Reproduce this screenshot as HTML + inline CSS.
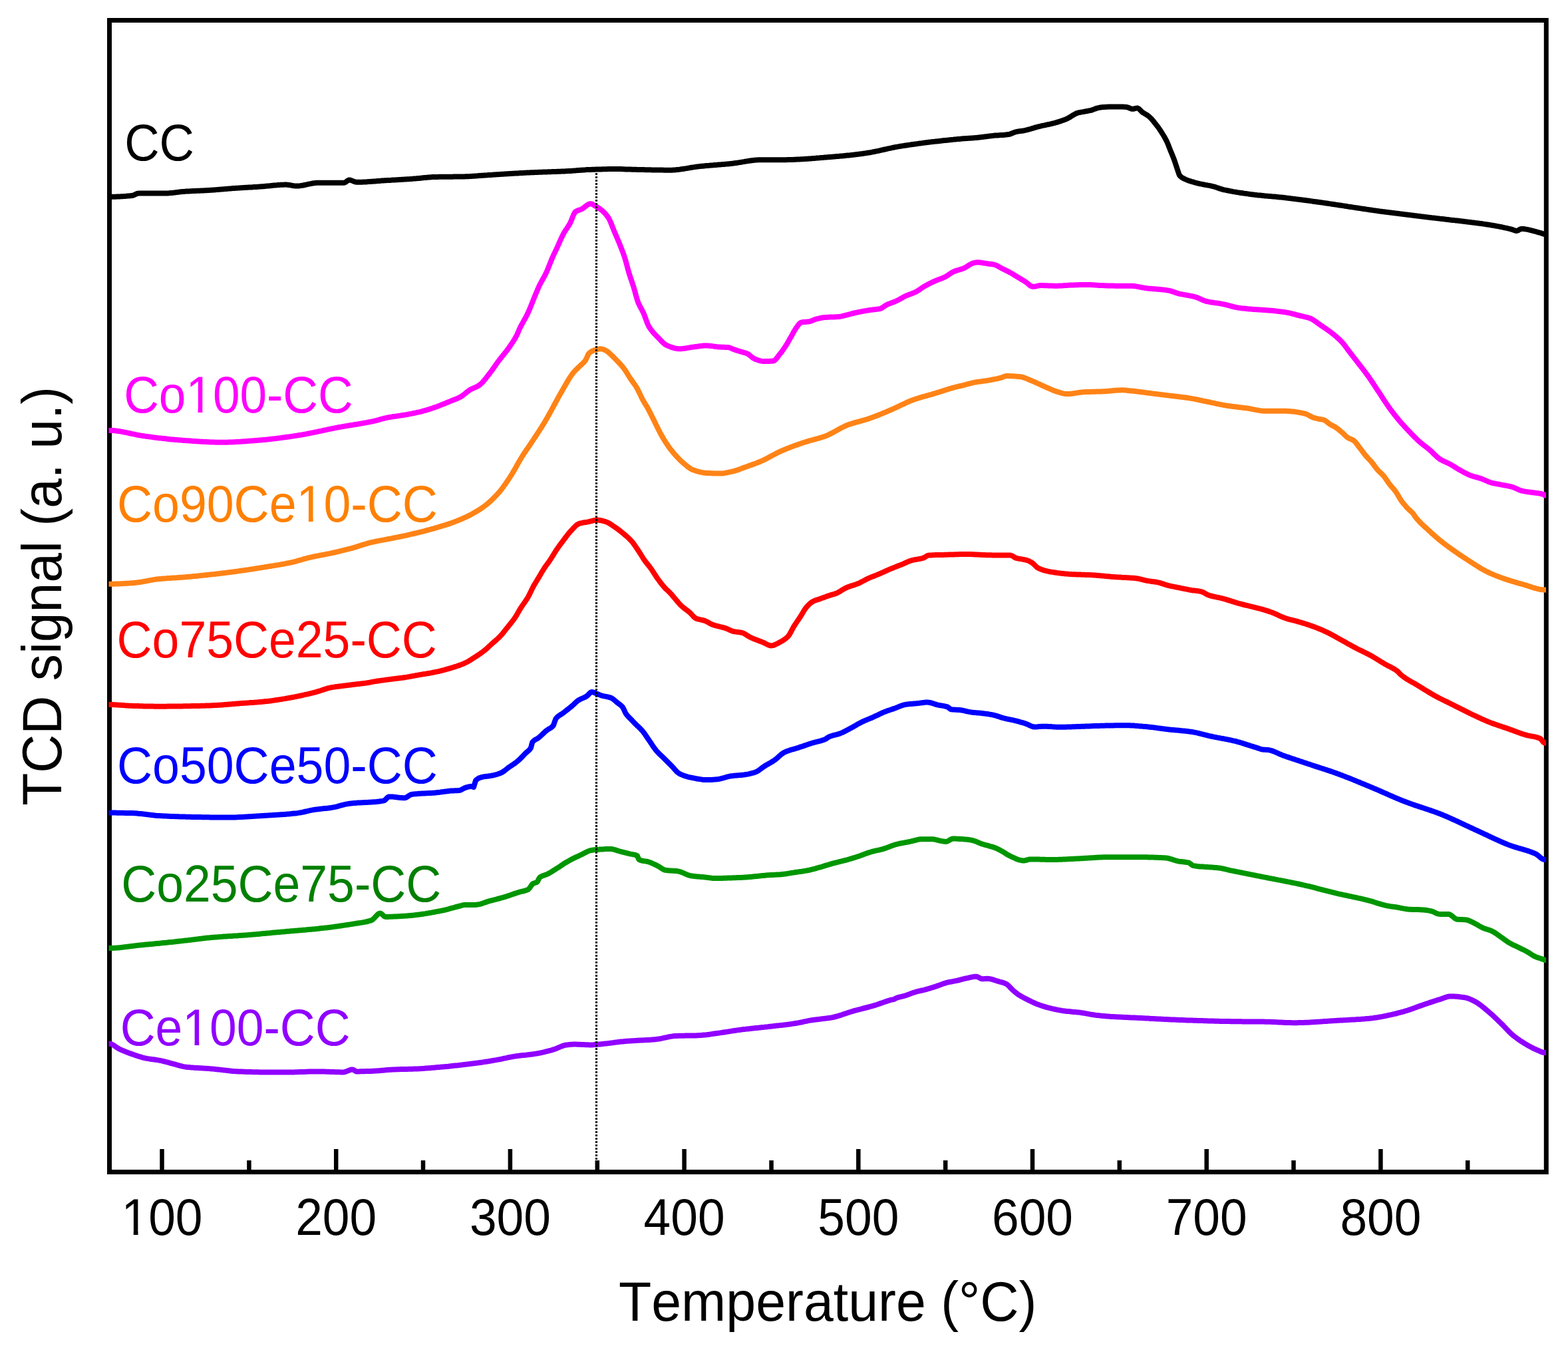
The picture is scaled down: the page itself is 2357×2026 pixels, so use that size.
<!DOCTYPE html>
<html><head><meta charset="utf-8"><title>TCD signal vs Temperature</title>
<style>html,body{margin:0;padding:0;background:#fff;}svg{display:block;}</style>
</head><body>
<svg width="2357" height="2026" viewBox="0 0 2357 2026">
<rect x="0" y="0" width="2357" height="2026" fill="#ffffff"/>
<rect x="164.5" y="30.5" width="2159.8" height="1731" fill="none" stroke="#000" stroke-width="7"/>
<line x1="243.5" y1="1727" x2="243.5" y2="1760" stroke="#000" stroke-width="6.5"/>
<line x1="374.4" y1="1744" x2="374.4" y2="1760" stroke="#000" stroke-width="6.5"/>
<line x1="505.2" y1="1727" x2="505.2" y2="1760" stroke="#000" stroke-width="6.5"/>
<line x1="636.0" y1="1744" x2="636.0" y2="1760" stroke="#000" stroke-width="6.5"/>
<line x1="766.9" y1="1727" x2="766.9" y2="1760" stroke="#000" stroke-width="6.5"/>
<line x1="897.8" y1="1744" x2="897.8" y2="1760" stroke="#000" stroke-width="6.5"/>
<line x1="1028.6" y1="1727" x2="1028.6" y2="1760" stroke="#000" stroke-width="6.5"/>
<line x1="1159.5" y1="1744" x2="1159.5" y2="1760" stroke="#000" stroke-width="6.5"/>
<line x1="1290.3" y1="1727" x2="1290.3" y2="1760" stroke="#000" stroke-width="6.5"/>
<line x1="1421.2" y1="1744" x2="1421.2" y2="1760" stroke="#000" stroke-width="6.5"/>
<line x1="1552.0" y1="1727" x2="1552.0" y2="1760" stroke="#000" stroke-width="6.5"/>
<line x1="1682.8" y1="1744" x2="1682.8" y2="1760" stroke="#000" stroke-width="6.5"/>
<line x1="1813.7" y1="1727" x2="1813.7" y2="1760" stroke="#000" stroke-width="6.5"/>
<line x1="1944.5" y1="1744" x2="1944.5" y2="1760" stroke="#000" stroke-width="6.5"/>
<line x1="2075.4" y1="1727" x2="2075.4" y2="1760" stroke="#000" stroke-width="6.5"/>
<line x1="2206.2" y1="1744" x2="2206.2" y2="1760" stroke="#000" stroke-width="6.5"/>
<clipPath id="plotclip"><rect x="163.5" y="0" width="2160.5" height="2026"/></clipPath>
<g clip-path="url(#plotclip)">
<path d="M158.0,295.8 L160.0,295.8 L162.0,295.8 L164.0,295.8 L166.0,295.8 L168.0,295.8 L170.0,295.7 L172.0,295.7 L174.0,295.7 L176.0,295.6 L178.0,295.5 L180.0,295.4 L182.0,295.3 L184.0,295.2 L186.0,295.1 L188.0,294.9 L190.0,294.8 L192.0,294.6 L194.0,294.5 L196.0,294.3 L198.0,294.1 L198.6,294.0 L200.0,293.7 L202.0,292.9 L204.0,291.9 L206.0,291.0 L208.0,290.6 L208.3,290.6 L210.0,290.6 L212.0,290.6 L214.0,290.6 L216.0,290.6 L218.0,290.6 L220.0,290.6 L222.0,290.6 L224.0,290.6 L226.0,290.6 L228.0,290.6 L230.0,290.6 L232.0,290.6 L234.0,290.6 L236.0,290.6 L238.0,290.6 L240.0,290.6 L242.0,290.6 L244.0,290.6 L246.0,290.6 L246.9,290.6 L248.0,290.6 L250.0,290.5 L252.0,290.4 L254.0,290.3 L256.0,290.1 L258.0,289.9 L260.0,289.7 L262.0,289.4 L264.0,289.2 L266.0,288.9 L268.0,288.7 L270.0,288.4 L272.0,288.2 L274.0,288.0 L275.8,287.9 L276.0,287.9 L278.0,287.8 L280.0,287.6 L282.0,287.5 L284.0,287.4 L286.0,287.3 L288.0,287.2 L290.0,287.1 L292.0,287.0 L294.0,286.9 L296.0,286.8 L298.0,286.7 L300.0,286.7 L302.0,286.6 L304.0,286.5 L306.0,286.4 L308.0,286.3 L310.0,286.2 L312.0,286.0 L314.0,285.9 L314.4,285.9 L316.0,285.8 L318.0,285.7 L320.0,285.5 L322.0,285.4 L324.0,285.2 L326.0,285.1 L328.0,284.9 L330.0,284.7 L332.0,284.6 L334.0,284.4 L336.0,284.2 L338.0,284.1 L340.0,283.9 L342.0,283.7 L344.0,283.6 L346.0,283.4 L348.0,283.3 L350.0,283.1 L352.0,283.0 L353.0,282.9 L354.0,282.8 L356.0,282.7 L358.0,282.6 L360.0,282.4 L362.0,282.3 L364.0,282.2 L366.0,282.1 L368.0,282.0 L370.0,281.8 L372.0,281.7 L374.0,281.6 L376.0,281.5 L378.0,281.4 L380.0,281.2 L382.0,281.1 L384.0,281.0 L386.0,280.9 L388.0,280.7 L390.0,280.6 L391.7,280.5 L392.0,280.5 L394.0,280.3 L396.0,280.2 L398.0,280.0 L400.0,279.8 L402.0,279.6 L404.0,279.4 L406.0,279.2 L408.0,279.0 L410.0,278.8 L412.0,278.6 L414.0,278.4 L416.0,278.3 L418.0,278.1 L420.0,278.0 L422.0,277.8 L424.0,277.7 L426.0,277.7 L428.0,277.6 L430.0,277.6 L430.3,277.6 L432.0,277.7 L434.0,277.9 L436.0,278.2 L438.0,278.6 L440.0,279.0 L442.0,279.3 L444.0,279.5 L445.7,279.6 L446.0,279.6 L448.0,279.5 L450.0,279.4 L452.0,279.1 L454.0,278.8 L456.0,278.5 L458.0,278.0 L460.0,277.6 L462.0,277.2 L464.0,276.7 L466.0,276.3 L468.0,275.9 L470.0,275.5 L472.0,275.2 L474.0,275.0 L476.0,274.8 L478.0,274.7 L478.5,274.7 L480.0,274.7 L482.0,274.7 L484.0,274.7 L486.0,274.7 L488.0,274.7 L490.0,274.7 L492.0,274.7 L494.0,274.7 L496.0,274.7 L498.0,274.7 L500.0,274.7 L502.0,274.7 L504.0,274.7 L506.0,274.7 L508.0,274.7 L510.0,274.7 L512.0,274.7 L514.0,274.7 L516.0,274.7 L517.1,274.7 L518.0,274.5 L520.0,273.4 L522.0,271.8 L524.0,270.7 L524.9,270.5 L526.0,270.6 L528.0,271.1 L530.0,271.9 L532.0,272.7 L534.0,273.4 L536.0,273.8 L536.4,273.8 L538.0,273.8 L540.0,273.8 L542.0,273.7 L544.0,273.7 L546.0,273.6 L548.0,273.5 L550.0,273.4 L552.0,273.2 L554.0,273.1 L556.0,273.0 L558.0,272.8 L560.0,272.7 L562.0,272.5 L564.0,272.4 L566.0,272.2 L568.0,272.0 L570.0,271.9 L572.0,271.7 L574.0,271.6 L576.0,271.5 L578.0,271.3 L578.6,271.3 L580.0,271.2 L582.0,271.1 L584.0,271.0 L586.0,270.9 L588.0,270.8 L590.0,270.6 L592.0,270.5 L594.0,270.4 L596.0,270.3 L598.0,270.2 L600.0,270.1 L602.0,270.0 L604.0,269.8 L606.0,269.7 L608.0,269.6 L610.0,269.5 L612.0,269.3 L614.0,269.2 L616.0,269.1 L617.2,269.0 L618.0,268.9 L620.0,268.8 L622.0,268.6 L624.0,268.4 L626.0,268.3 L628.0,268.1 L630.0,267.9 L632.0,267.7 L634.0,267.5 L636.0,267.3 L638.0,267.1 L640.0,266.9 L642.0,266.7 L644.0,266.5 L646.0,266.4 L648.0,266.2 L650.0,266.1 L652.0,266.0 L654.0,265.9 L655.8,265.9 L656.0,265.9 L658.0,265.9 L660.0,265.8 L662.0,265.8 L664.0,265.8 L666.0,265.8 L668.0,265.7 L670.0,265.7 L672.0,265.7 L674.0,265.7 L676.0,265.7 L678.0,265.7 L680.0,265.7 L682.0,265.6 L684.0,265.6 L686.0,265.6 L688.0,265.6 L690.0,265.6 L692.0,265.5 L694.0,265.5 L694.4,265.5 L696.0,265.5 L698.0,265.4 L700.0,265.3 L702.0,265.3 L704.0,265.2 L706.0,265.1 L708.0,264.9 L710.0,264.8 L712.0,264.7 L714.0,264.5 L716.0,264.4 L718.0,264.3 L720.0,264.1 L722.0,264.0 L724.0,263.8 L726.0,263.7 L728.0,263.5 L730.0,263.4 L732.0,263.3 L733.0,263.2 L734.0,263.1 L736.0,263.0 L738.0,262.9 L740.0,262.8 L742.0,262.6 L744.0,262.5 L746.0,262.3 L748.0,262.2 L750.0,262.1 L752.0,261.9 L754.0,261.8 L756.0,261.7 L758.0,261.5 L760.0,261.4 L762.0,261.3 L764.0,261.2 L766.0,261.0 L768.0,260.9 L770.0,260.8 L771.7,260.7 L772.0,260.7 L774.0,260.6 L776.0,260.5 L778.0,260.4 L780.0,260.2 L782.0,260.1 L784.0,260.0 L786.0,259.9 L788.0,259.8 L790.0,259.7 L792.0,259.6 L794.0,259.5 L796.0,259.4 L798.0,259.3 L800.0,259.3 L802.0,259.2 L804.0,259.1 L806.0,259.0 L808.0,258.9 L810.0,258.8 L810.3,258.8 L812.0,258.7 L814.0,258.7 L816.0,258.6 L818.0,258.5 L820.0,258.4 L822.0,258.4 L824.0,258.3 L826.0,258.2 L828.0,258.2 L830.0,258.1 L832.0,258.0 L834.0,258.0 L836.0,257.9 L838.0,257.8 L840.0,257.8 L842.0,257.7 L844.0,257.6 L846.0,257.5 L848.0,257.4 L848.9,257.4 L850.0,257.3 L852.0,257.2 L854.0,257.1 L856.0,257.0 L858.0,256.9 L860.0,256.7 L862.0,256.6 L864.0,256.4 L866.0,256.3 L868.0,256.1 L870.0,256.0 L872.0,255.8 L874.0,255.7 L876.0,255.5 L878.0,255.4 L880.0,255.3 L882.0,255.1 L884.0,255.0 L886.0,255.0 L887.5,254.9 L888.0,254.9 L890.0,254.8 L892.0,254.7 L894.0,254.7 L896.0,254.6 L898.0,254.5 L900.0,254.5 L902.0,254.4 L904.0,254.4 L906.0,254.3 L908.0,254.3 L910.0,254.2 L912.0,254.2 L914.0,254.1 L916.0,254.1 L918.0,254.1 L920.0,254.0 L922.0,254.0 L924.0,254.0 L926.0,254.0 L926.1,254.0 L928.0,254.0 L930.0,254.0 L932.0,254.1 L934.0,254.1 L936.0,254.2 L938.0,254.3 L940.0,254.4 L942.0,254.4 L944.0,254.5 L946.0,254.6 L948.0,254.6 L950.0,254.7 L950.2,254.7 L952.0,254.7 L954.0,254.8 L956.0,254.8 L958.0,254.9 L960.0,254.9 L962.0,255.0 L964.0,255.0 L966.0,255.1 L968.0,255.1 L970.0,255.2 L972.0,255.2 L974.0,255.3 L976.0,255.3 L978.0,255.3 L980.0,255.4 L982.0,255.4 L984.0,255.5 L986.0,255.5 L988.0,255.5 L990.0,255.6 L992.0,255.6 L994.0,255.6 L996.0,255.6 L998.0,255.7 L1000.0,255.7 L1002.0,255.7 L1004.0,255.7 L1006.0,255.7 L1007.9,255.7 L1008.0,255.7 L1010.0,255.7 L1012.0,255.6 L1014.0,255.5 L1016.0,255.3 L1018.0,255.1 L1020.0,254.9 L1022.0,254.6 L1024.0,254.3 L1026.0,254.0 L1028.0,253.7 L1030.0,253.4 L1032.0,253.1 L1034.0,252.7 L1036.0,252.4 L1038.0,252.0 L1040.0,251.7 L1042.0,251.4 L1044.0,251.1 L1046.0,250.8 L1048.0,250.5 L1050.0,250.3 L1050.6,250.2 L1052.0,250.1 L1054.0,249.8 L1056.0,249.7 L1058.0,249.5 L1060.0,249.3 L1062.0,249.1 L1064.0,248.9 L1066.0,248.8 L1068.0,248.6 L1070.0,248.4 L1072.0,248.3 L1074.0,248.1 L1076.0,247.9 L1078.0,247.8 L1080.0,247.6 L1082.0,247.4 L1084.0,247.3 L1086.0,247.1 L1088.0,246.9 L1090.0,246.7 L1092.0,246.6 L1094.0,246.4 L1096.0,246.2 L1098.0,246.0 L1100.0,245.8 L1100.8,245.7 L1102.0,245.6 L1104.0,245.3 L1106.0,245.0 L1108.0,244.8 L1110.0,244.4 L1112.0,244.1 L1114.0,243.8 L1116.0,243.4 L1118.0,243.1 L1120.0,242.7 L1122.0,242.4 L1124.0,242.1 L1126.0,241.8 L1128.0,241.5 L1130.0,241.2 L1132.0,240.9 L1134.0,240.7 L1136.0,240.5 L1138.0,240.4 L1140.0,240.3 L1142.0,240.2 L1143.4,240.2 L1144.0,240.2 L1146.0,240.2 L1148.0,240.2 L1150.0,240.2 L1152.0,240.2 L1154.0,240.2 L1156.0,240.2 L1158.0,240.2 L1160.0,240.2 L1162.0,240.2 L1164.0,240.2 L1166.0,240.2 L1168.0,240.2 L1170.0,240.2 L1172.0,240.2 L1174.0,240.2 L1176.0,240.2 L1178.0,240.2 L1180.0,240.2 L1182.0,240.2 L1184.0,240.1 L1186.0,240.1 L1188.0,240.0 L1190.0,240.0 L1192.0,239.9 L1194.0,239.8 L1196.0,239.7 L1198.0,239.6 L1200.0,239.5 L1202.0,239.4 L1204.0,239.3 L1206.0,239.2 L1208.0,239.1 L1210.0,238.9 L1212.0,238.8 L1214.0,238.7 L1216.0,238.5 L1218.0,238.4 L1220.0,238.2 L1222.0,238.1 L1224.0,237.9 L1226.0,237.8 L1228.0,237.6 L1230.0,237.4 L1232.0,237.3 L1234.0,237.1 L1236.0,236.9 L1238.0,236.8 L1240.0,236.6 L1242.0,236.5 L1244.0,236.3 L1246.0,236.1 L1248.0,236.0 L1250.0,235.8 L1251.3,235.7 L1252.0,235.6 L1254.0,235.5 L1256.0,235.3 L1258.0,235.1 L1260.0,235.0 L1262.0,234.8 L1264.0,234.6 L1266.0,234.4 L1268.0,234.2 L1270.0,234.0 L1272.0,233.8 L1274.0,233.6 L1276.0,233.4 L1278.0,233.2 L1280.0,232.9 L1282.0,232.7 L1284.0,232.5 L1286.0,232.2 L1288.0,232.0 L1290.0,231.7 L1292.0,231.5 L1294.0,231.2 L1296.0,231.0 L1298.0,230.7 L1300.0,230.4 L1301.5,230.2 L1302.0,230.1 L1304.0,229.8 L1306.0,229.5 L1308.0,229.2 L1310.0,228.8 L1312.0,228.4 L1314.0,228.0 L1316.0,227.6 L1318.0,227.2 L1320.0,226.8 L1322.0,226.3 L1324.0,225.9 L1326.0,225.4 L1328.0,225.0 L1330.0,224.5 L1332.0,224.1 L1334.0,223.6 L1336.0,223.2 L1338.0,222.8 L1340.0,222.3 L1342.0,221.9 L1344.0,221.5 L1346.0,221.1 L1348.0,220.7 L1350.0,220.4 L1351.7,220.1 L1352.0,220.1 L1354.0,219.7 L1356.0,219.4 L1358.0,219.1 L1360.0,218.8 L1362.0,218.5 L1364.0,218.2 L1366.0,217.9 L1368.0,217.6 L1370.0,217.3 L1372.0,217.0 L1374.0,216.7 L1376.0,216.4 L1378.0,216.2 L1380.0,215.9 L1382.0,215.6 L1384.0,215.4 L1386.0,215.1 L1388.0,214.8 L1390.0,214.6 L1392.0,214.3 L1394.0,214.1 L1396.0,213.8 L1398.0,213.6 L1400.0,213.3 L1401.9,213.1 L1402.0,213.1 L1404.0,212.9 L1406.0,212.6 L1408.0,212.4 L1410.0,212.2 L1412.0,212.0 L1414.0,211.7 L1416.0,211.5 L1418.0,211.3 L1420.0,211.1 L1422.0,210.9 L1423.0,210.8 L1424.0,210.7 L1426.0,210.5 L1428.0,210.3 L1430.0,210.1 L1432.0,209.9 L1434.0,209.6 L1436.0,209.4 L1438.0,209.2 L1440.0,209.0 L1442.0,208.9 L1444.0,208.7 L1446.0,208.5 L1448.0,208.3 L1450.0,208.2 L1452.0,208.0 L1454.0,207.9 L1456.0,207.8 L1458.0,207.7 L1460.0,207.5 L1462.0,207.4 L1464.0,207.2 L1466.0,207.1 L1468.0,206.9 L1469.5,206.8 L1470.0,206.8 L1472.0,206.5 L1474.0,206.3 L1476.0,206.1 L1478.0,205.8 L1480.0,205.5 L1482.0,205.2 L1484.0,205.0 L1486.0,204.7 L1488.0,204.4 L1490.0,204.2 L1492.0,204.0 L1492.7,203.9 L1494.0,203.8 L1496.0,203.6 L1498.0,203.5 L1500.0,203.4 L1502.0,203.2 L1504.0,203.1 L1506.0,203.0 L1508.0,202.9 L1510.0,202.7 L1512.0,202.5 L1514.0,202.3 L1515.8,202.1 L1516.0,202.1 L1518.0,201.6 L1520.0,200.9 L1522.0,200.0 L1524.0,199.2 L1526.0,198.5 L1527.4,198.1 L1528.0,198.0 L1530.0,197.6 L1532.0,197.3 L1534.0,197.1 L1536.0,196.8 L1538.0,196.5 L1539.0,196.3 L1540.0,196.1 L1542.0,195.7 L1544.0,195.2 L1546.0,194.6 L1548.0,194.1 L1550.0,193.5 L1552.0,192.9 L1554.0,192.3 L1556.0,191.7 L1558.0,191.1 L1560.0,190.6 L1562.0,190.0 L1562.2,190.0 L1564.0,189.6 L1566.0,189.1 L1568.0,188.7 L1570.0,188.3 L1572.0,187.8 L1574.0,187.4 L1576.0,187.0 L1578.0,186.6 L1580.0,186.1 L1582.0,185.6 L1584.0,185.1 L1585.3,184.8 L1586.0,184.6 L1588.0,184.0 L1590.0,183.5 L1592.0,182.8 L1594.0,182.2 L1596.0,181.5 L1598.0,180.8 L1600.0,180.1 L1602.0,179.3 L1602.7,179.0 L1604.0,178.4 L1606.0,177.4 L1608.0,176.2 L1610.0,175.0 L1612.0,173.7 L1614.0,172.5 L1616.0,171.4 L1618.0,170.4 L1620.0,169.7 L1620.1,169.7 L1622.0,169.2 L1624.0,168.8 L1626.0,168.4 L1628.0,168.1 L1630.0,167.7 L1631.7,167.4 L1632.0,167.3 L1634.0,167.0 L1636.0,166.6 L1638.0,166.2 L1640.0,165.8 L1642.0,165.2 L1644.0,164.4 L1646.0,163.6 L1648.0,162.9 L1649.7,162.4 L1650.0,162.3 L1652.0,161.9 L1654.0,161.5 L1656.0,161.2 L1658.0,161.0 L1659.3,160.9 L1660.0,160.9 L1662.0,160.8 L1664.0,160.7 L1666.0,160.6 L1668.0,160.6 L1670.0,160.5 L1672.0,160.5 L1674.0,160.4 L1676.0,160.4 L1678.0,160.4 L1678.6,160.4 L1680.0,160.4 L1682.0,160.4 L1684.0,160.5 L1686.0,160.5 L1688.0,160.6 L1690.0,160.7 L1692.0,160.8 L1693.1,160.9 L1694.0,161.0 L1696.0,161.6 L1698.0,162.5 L1700.0,163.3 L1702.0,163.8 L1702.7,163.8 L1704.0,163.7 L1706.0,163.1 L1708.0,162.6 L1709.5,162.4 L1710.0,162.5 L1712.0,163.5 L1714.0,165.5 L1716.0,167.6 L1717.2,168.6 L1718.0,169.2 L1720.0,170.4 L1722.0,171.6 L1724.0,172.8 L1726.0,174.2 L1726.9,174.9 L1728.0,175.9 L1730.0,177.8 L1732.0,180.0 L1734.0,182.4 L1736.0,184.9 L1736.5,185.5 L1738.0,187.4 L1740.0,190.0 L1742.0,192.8 L1744.0,195.7 L1746.0,198.8 L1746.2,199.1 L1748.0,202.0 L1750.0,205.3 L1752.0,208.9 L1753.9,212.6 L1754.0,212.8 L1756.0,217.5 L1758.0,222.6 L1759.7,227.0 L1760.0,227.7 L1762.0,232.6 L1764.0,237.5 L1765.5,241.5 L1766.0,242.9 L1768.0,249.0 L1770.0,255.1 L1770.3,256.0 L1772.0,261.1 L1773.2,263.7 L1774.0,264.6 L1776.0,266.3 L1778.0,267.6 L1780.0,268.6 L1782.0,269.6 L1784.0,270.4 L1786.0,271.2 L1788.0,271.9 L1789.6,272.4 L1790.0,272.5 L1792.0,273.2 L1794.0,273.7 L1796.0,274.3 L1798.0,274.8 L1800.0,275.3 L1802.0,275.8 L1804.0,276.3 L1804.1,276.3 L1806.0,276.7 L1808.0,277.1 L1810.0,277.5 L1812.0,277.9 L1814.0,278.2 L1816.0,278.6 L1818.0,278.9 L1820.0,279.3 L1822.0,279.8 L1823.4,280.1 L1824.0,280.3 L1826.0,280.8 L1828.0,281.5 L1830.0,282.2 L1832.0,282.9 L1834.0,283.6 L1836.0,284.2 L1838.0,284.8 L1838.8,285.0 L1840.0,285.3 L1842.0,285.7 L1844.0,286.1 L1846.0,286.5 L1848.0,286.9 L1850.0,287.3 L1852.0,287.7 L1854.0,288.1 L1856.0,288.4 L1858.0,288.7 L1860.0,289.1 L1862.0,289.4 L1864.0,289.7 L1866.0,290.0 L1868.0,290.3 L1870.0,290.6 L1872.0,290.9 L1874.0,291.1 L1876.0,291.4 L1878.0,291.7 L1880.0,291.9 L1882.0,292.2 L1884.0,292.4 L1886.0,292.7 L1887.8,292.9 L1888.0,292.9 L1890.0,293.2 L1892.0,293.4 L1894.0,293.6 L1896.0,293.8 L1898.0,294.0 L1900.0,294.2 L1902.0,294.4 L1904.0,294.6 L1906.0,294.7 L1908.0,294.9 L1910.0,295.1 L1912.0,295.3 L1914.0,295.4 L1916.0,295.6 L1918.0,295.8 L1920.0,296.0 L1922.0,296.2 L1924.0,296.4 L1926.0,296.6 L1928.0,296.8 L1930.0,297.0 L1932.0,297.2 L1934.0,297.5 L1936.0,297.7 L1938.0,297.9 L1940.0,298.2 L1942.0,298.4 L1944.0,298.7 L1946.0,298.9 L1948.0,299.2 L1950.0,299.4 L1952.0,299.7 L1954.0,299.9 L1956.0,300.2 L1958.0,300.5 L1960.0,300.7 L1962.0,301.0 L1964.0,301.3 L1966.0,301.6 L1968.0,301.8 L1970.0,302.1 L1972.0,302.4 L1974.0,302.7 L1976.0,302.9 L1978.0,303.2 L1980.0,303.5 L1982.0,303.8 L1984.0,304.1 L1985.0,304.2 L1986.0,304.3 L1988.0,304.6 L1990.0,304.9 L1992.0,305.2 L1994.0,305.5 L1996.0,305.8 L1998.0,306.1 L2000.0,306.4 L2002.0,306.7 L2004.0,307.0 L2006.0,307.3 L2008.0,307.6 L2010.0,307.9 L2012.0,308.2 L2014.0,308.5 L2016.0,308.8 L2018.0,309.1 L2020.0,309.4 L2022.0,309.7 L2024.0,310.0 L2026.0,310.4 L2028.0,310.7 L2030.0,311.0 L2032.0,311.3 L2034.0,311.6 L2036.0,311.9 L2038.0,312.2 L2040.0,312.5 L2042.0,312.8 L2044.0,313.1 L2046.0,313.4 L2048.0,313.7 L2050.0,314.0 L2052.0,314.3 L2054.0,314.6 L2056.0,314.9 L2058.0,315.2 L2060.0,315.5 L2062.0,315.8 L2064.0,316.1 L2066.0,316.4 L2068.0,316.6 L2069.9,316.9 L2070.0,316.9 L2072.0,317.2 L2074.0,317.5 L2076.0,317.7 L2078.0,318.0 L2080.0,318.2 L2082.0,318.5 L2084.0,318.8 L2086.0,319.0 L2088.0,319.3 L2090.0,319.5 L2092.0,319.8 L2094.0,320.0 L2096.0,320.3 L2098.0,320.6 L2100.0,320.8 L2102.0,321.0 L2104.0,321.3 L2106.0,321.5 L2108.0,321.8 L2110.0,322.0 L2112.0,322.3 L2114.0,322.5 L2116.0,322.8 L2118.0,323.0 L2120.0,323.3 L2122.0,323.5 L2124.0,323.7 L2126.0,324.0 L2128.0,324.2 L2130.0,324.5 L2132.0,324.7 L2134.0,324.9 L2136.0,325.2 L2138.0,325.4 L2140.0,325.7 L2142.0,325.9 L2144.0,326.2 L2146.0,326.4 L2148.0,326.7 L2150.0,326.9 L2152.0,327.2 L2154.0,327.4 L2154.8,327.5 L2156.0,327.6 L2158.0,327.9 L2160.0,328.1 L2162.0,328.4 L2164.0,328.6 L2166.0,328.9 L2168.0,329.1 L2170.0,329.3 L2172.0,329.5 L2174.0,329.8 L2176.0,330.0 L2178.0,330.2 L2180.0,330.5 L2182.0,330.7 L2184.0,330.9 L2186.0,331.1 L2188.0,331.4 L2190.0,331.6 L2192.0,331.8 L2194.0,332.0 L2196.0,332.3 L2198.0,332.5 L2200.0,332.7 L2202.0,333.0 L2204.0,333.2 L2206.0,333.5 L2208.0,333.7 L2210.0,333.9 L2212.0,334.2 L2214.0,334.4 L2216.0,334.7 L2218.0,335.0 L2220.0,335.2 L2222.0,335.5 L2224.0,335.8 L2226.0,336.0 L2228.0,336.3 L2230.0,336.6 L2232.0,336.9 L2234.0,337.2 L2236.0,337.5 L2238.0,337.8 L2239.8,338.1 L2240.0,338.1 L2242.0,338.5 L2244.0,338.8 L2246.0,339.1 L2248.0,339.5 L2250.0,339.9 L2252.0,340.2 L2254.0,340.6 L2256.0,341.0 L2258.0,341.4 L2260.0,341.8 L2262.0,342.3 L2264.0,342.7 L2266.0,343.2 L2268.0,343.6 L2270.0,344.1 L2271.6,344.5 L2272.0,344.6 L2274.0,345.3 L2276.0,346.1 L2278.0,346.7 L2280.0,347.0 L2282.0,346.3 L2284.0,345.0 L2286.0,344.1 L2286.5,344.0 L2288.0,344.0 L2290.0,344.1 L2292.0,344.3 L2294.0,344.6 L2296.0,344.9 L2298.0,345.3 L2300.0,345.8 L2302.0,346.3 L2304.0,346.8 L2306.0,347.4 L2308.0,347.9 L2310.0,348.5 L2312.0,349.1 L2314.0,349.7 L2316.0,350.2 L2318.0,350.8 L2318.4,350.9 L2320.0,351.5 L2322.0,352.0 L2324.0,352.0 L2326.0,352.0 L2328.0,352.0" fill="none" stroke="#000000" stroke-width="8" stroke-linejoin="round" stroke-linecap="butt"/>
<path d="M158.0,646.9 L160.0,646.9 L162.0,646.9 L164.0,646.9 L166.0,646.9 L168.0,647.0 L170.0,647.1 L172.0,647.3 L174.0,647.5 L176.0,647.7 L178.0,648.0 L180.0,648.3 L182.0,648.6 L184.0,649.0 L186.0,649.4 L188.0,649.8 L190.0,650.2 L192.0,650.6 L194.0,651.0 L196.0,651.5 L198.0,651.9 L200.0,652.3 L202.0,652.7 L204.0,653.2 L206.0,653.6 L208.0,654.0 L210.0,654.3 L212.0,654.7 L214.0,655.0 L216.0,655.3 L217.9,655.6 L218.0,655.6 L220.0,655.9 L222.0,656.1 L224.0,656.4 L226.0,656.6 L228.0,656.9 L230.0,657.2 L232.0,657.4 L234.0,657.7 L236.0,657.9 L238.0,658.2 L240.0,658.4 L242.0,658.6 L244.0,658.9 L246.0,659.1 L248.0,659.3 L250.0,659.5 L252.0,659.8 L254.0,660.0 L256.0,660.2 L258.0,660.4 L260.0,660.6 L262.0,660.8 L264.0,661.0 L266.0,661.1 L268.0,661.3 L270.0,661.5 L272.0,661.6 L274.0,661.8 L275.8,661.9 L276.0,661.9 L278.0,662.1 L280.0,662.2 L282.0,662.3 L284.0,662.5 L286.0,662.6 L288.0,662.8 L290.0,662.9 L292.0,663.0 L294.0,663.2 L296.0,663.3 L298.0,663.4 L300.0,663.6 L302.0,663.7 L304.0,663.8 L306.0,663.9 L308.0,664.0 L310.0,664.1 L312.0,664.2 L314.0,664.3 L316.0,664.4 L318.0,664.5 L320.0,664.6 L322.0,664.6 L324.0,664.7 L326.0,664.7 L328.0,664.8 L330.0,664.8 L332.0,664.8 L333.8,664.8 L334.0,664.8 L336.0,664.8 L338.0,664.8 L340.0,664.7 L342.0,664.7 L344.0,664.6 L346.0,664.6 L348.0,664.5 L350.0,664.4 L352.0,664.3 L354.0,664.2 L356.0,664.1 L358.0,664.0 L360.0,663.9 L362.0,663.7 L364.0,663.6 L366.0,663.5 L368.0,663.3 L370.0,663.2 L372.0,663.0 L374.0,662.8 L376.0,662.7 L378.0,662.5 L380.0,662.4 L382.0,662.2 L384.0,662.0 L386.0,661.9 L388.0,661.7 L390.0,661.5 L391.7,661.4 L392.0,661.4 L394.0,661.2 L396.0,661.0 L398.0,660.9 L400.0,660.7 L402.0,660.5 L404.0,660.3 L406.0,660.0 L408.0,659.8 L410.0,659.6 L412.0,659.4 L414.0,659.1 L416.0,658.9 L418.0,658.6 L420.0,658.4 L422.0,658.1 L424.0,657.8 L426.0,657.6 L428.0,657.3 L430.0,657.0 L432.0,656.7 L434.0,656.4 L436.0,656.2 L438.0,655.9 L440.0,655.6 L442.0,655.3 L444.0,655.0 L446.0,654.7 L448.0,654.3 L449.6,654.1 L450.0,654.0 L452.0,653.7 L454.0,653.4 L456.0,653.0 L458.0,652.7 L460.0,652.3 L462.0,651.9 L464.0,651.5 L466.0,651.2 L468.0,650.7 L470.0,650.3 L472.0,649.9 L474.0,649.5 L476.0,649.1 L478.0,648.6 L480.0,648.2 L482.0,647.8 L484.0,647.4 L486.0,646.9 L488.0,646.5 L490.0,646.1 L492.0,645.6 L494.0,645.2 L496.0,644.8 L498.0,644.4 L500.0,644.0 L502.0,643.6 L504.0,643.2 L506.0,642.8 L507.5,642.5 L508.0,642.4 L510.0,642.0 L512.0,641.7 L514.0,641.3 L516.0,641.0 L518.0,640.6 L520.0,640.3 L522.0,640.0 L524.0,639.6 L526.0,639.3 L528.0,639.0 L530.0,638.7 L532.0,638.3 L534.0,638.0 L536.0,637.7 L538.0,637.4 L540.0,637.0 L542.0,636.7 L544.0,636.3 L546.0,636.0 L548.0,635.6 L550.0,635.3 L552.0,634.9 L554.0,634.5 L556.0,634.1 L558.0,633.7 L560.0,633.3 L562.0,632.9 L564.0,632.4 L566.0,631.9 L568.0,631.3 L570.0,630.8 L572.0,630.2 L574.0,629.7 L576.0,629.2 L578.0,628.6 L580.0,628.2 L582.0,627.7 L583.6,627.4 L584.0,627.3 L586.0,627.0 L588.0,626.6 L590.0,626.3 L592.0,626.0 L594.0,625.7 L596.0,625.5 L598.0,625.2 L600.0,624.9 L602.0,624.6 L604.0,624.3 L606.0,624.0 L607.2,623.8 L608.0,623.7 L610.0,623.3 L612.0,623.0 L614.0,622.6 L616.0,622.2 L618.0,621.8 L620.0,621.4 L622.0,621.0 L624.0,620.6 L626.0,620.2 L628.0,619.7 L630.0,619.3 L630.7,619.1 L632.0,618.8 L634.0,618.3 L636.0,617.7 L638.0,617.2 L640.0,616.6 L642.0,616.0 L644.0,615.4 L646.0,614.8 L648.0,614.1 L650.0,613.5 L652.0,612.8 L654.0,612.1 L654.3,612.0 L656.0,611.4 L658.0,610.7 L660.0,609.9 L662.0,609.1 L664.0,608.3 L666.0,607.5 L668.0,606.7 L670.0,605.9 L672.0,605.0 L674.0,604.2 L676.0,603.4 L677.9,602.6 L678.0,602.6 L680.0,601.8 L682.0,601.0 L684.0,600.2 L686.0,599.5 L688.0,598.6 L690.0,597.7 L692.0,596.7 L694.0,595.5 L696.0,594.0 L698.0,592.4 L700.0,590.8 L702.0,589.1 L704.0,587.6 L706.0,586.2 L706.2,586.1 L708.0,585.1 L710.0,584.1 L712.0,583.2 L714.0,582.4 L716.0,581.5 L718.0,580.4 L720.0,579.2 L720.3,579.0 L722.0,577.7 L724.0,575.9 L726.0,573.8 L728.0,571.4 L730.0,569.0 L732.0,566.4 L734.0,563.8 L736.0,561.2 L736.8,560.2 L738.0,558.6 L740.0,555.9 L742.0,553.1 L744.0,550.2 L746.0,547.3 L748.0,544.5 L748.6,543.7 L750.0,541.8 L752.0,539.3 L754.0,536.8 L756.0,534.3 L758.0,531.8 L760.0,529.3 L762.0,526.7 L764.0,524.0 L765.1,522.4 L766.0,521.1 L768.0,518.2 L770.0,515.3 L772.0,512.2 L774.0,508.9 L776.0,505.3 L776.9,503.6 L778.0,501.3 L780.0,496.5 L781.3,493.5 L782.0,492.1 L784.0,488.2 L786.0,484.6 L788.0,481.0 L790.0,477.5 L792.0,473.7 L793.5,470.6 L794.0,469.5 L796.0,464.9 L798.0,459.9 L800.0,454.9 L802.0,449.9 L802.9,447.7 L804.0,445.1 L806.0,440.2 L808.0,435.5 L810.0,430.9 L811.0,428.8 L812.0,426.8 L814.0,423.1 L816.0,419.6 L818.0,416.0 L820.0,412.1 L820.4,411.3 L822.0,407.8 L824.0,402.9 L826.0,397.9 L828.0,392.9 L829.9,388.4 L830.0,388.2 L832.0,383.7 L834.0,379.4 L836.0,375.2 L838.0,370.9 L840.0,366.5 L842.0,361.9 L844.0,357.5 L846.0,353.3 L847.4,350.6 L848.0,349.5 L850.0,346.3 L852.0,343.4 L854.0,340.4 L856.0,337.2 L856.8,335.8 L858.0,333.3 L860.0,328.2 L862.0,323.1 L864.0,319.3 L864.9,318.3 L866.0,317.6 L868.0,316.6 L870.0,315.9 L872.0,315.2 L874.0,314.4 L874.3,314.3 L876.0,313.3 L878.0,311.8 L880.0,310.2 L882.0,308.7 L884.0,307.4 L886.0,306.5 L887.8,306.2 L888.0,306.2 L890.0,306.7 L892.0,307.9 L894.0,309.2 L894.6,309.5 L896.0,310.3 L898.0,311.4 L900.0,312.7 L902.0,314.1 L904.0,315.6 L906.0,317.3 L908.0,319.2 L910.0,321.3 L912.0,323.8 L914.0,326.5 L914.8,327.7 L916.0,329.8 L918.0,334.2 L920.0,339.3 L922.0,344.4 L922.9,346.6 L924.0,349.2 L926.0,353.8 L928.0,358.5 L930.0,363.3 L930.9,365.5 L932.0,368.2 L934.0,373.2 L936.0,378.4 L938.0,384.0 L939.0,387.0 L940.0,390.2 L942.0,397.5 L944.0,405.0 L945.8,411.3 L946.0,411.9 L948.0,418.1 L950.0,423.9 L952.0,429.9 L952.5,431.5 L954.0,436.7 L956.0,444.1 L958.0,451.0 L959.2,454.4 L960.0,456.3 L962.0,460.5 L964.0,464.2 L966.0,467.9 L967.3,470.6 L968.0,472.2 L970.0,477.5 L972.0,483.0 L974.0,488.0 L975.4,490.8 L976.0,491.8 L978.0,494.8 L980.0,497.4 L982.0,499.8 L984.0,502.0 L986.0,504.1 L988.0,506.1 L988.9,507.0 L990.0,508.1 L992.0,510.3 L994.0,512.4 L996.0,514.4 L998.0,516.2 L1000.0,517.7 L1002.0,518.9 L1002.4,519.1 L1004.0,519.8 L1006.0,520.6 L1008.0,521.4 L1010.0,522.1 L1012.0,522.7 L1014.0,523.3 L1016.0,523.7 L1018.0,524.1 L1020.0,524.3 L1021.5,524.3 L1022.0,524.3 L1024.0,524.2 L1026.0,524.0 L1028.0,523.8 L1030.0,523.5 L1032.0,523.2 L1034.0,522.8 L1036.0,522.5 L1038.0,522.1 L1040.0,521.8 L1041.7,521.6 L1042.0,521.6 L1044.0,521.3 L1046.0,521.0 L1048.0,520.8 L1050.0,520.5 L1052.0,520.2 L1054.0,520.0 L1056.0,519.8 L1058.0,519.6 L1060.0,519.5 L1061.9,519.5 L1062.0,519.5 L1064.0,519.6 L1066.0,519.7 L1068.0,519.9 L1070.0,520.1 L1072.0,520.4 L1074.0,520.7 L1076.0,520.9 L1078.0,521.2 L1080.0,521.4 L1082.0,521.6 L1082.2,521.6 L1084.0,521.7 L1086.0,521.8 L1088.0,521.8 L1090.0,521.9 L1092.0,522.0 L1094.0,522.1 L1095.6,522.2 L1096.0,522.3 L1098.0,523.0 L1100.0,524.0 L1102.0,524.7 L1104.0,525.5 L1106.0,526.2 L1108.0,526.8 L1110.0,527.5 L1111.6,528.0 L1112.0,528.1 L1114.0,528.7 L1116.0,529.2 L1118.0,529.8 L1120.0,530.3 L1122.0,531.0 L1123.2,531.5 L1124.0,531.9 L1126.0,533.2 L1128.0,534.8 L1130.0,536.5 L1132.0,538.0 L1134.0,539.3 L1134.8,539.6 L1136.0,540.0 L1138.0,540.8 L1140.0,541.5 L1142.0,542.1 L1144.0,542.6 L1146.0,542.9 L1148.0,543.1 L1148.7,543.1 L1150.0,543.1 L1152.0,543.1 L1154.0,543.0 L1156.0,542.9 L1158.0,542.8 L1160.0,542.7 L1162.0,542.6 L1162.6,542.5 L1164.0,542.0 L1166.0,540.3 L1168.0,537.8 L1170.0,535.1 L1171.8,532.7 L1172.0,532.5 L1174.0,530.0 L1176.0,527.3 L1178.0,524.5 L1180.0,521.6 L1181.1,519.9 L1182.0,518.5 L1184.0,515.1 L1186.0,511.6 L1188.0,508.1 L1189.2,506.0 L1190.0,504.6 L1192.0,500.9 L1194.0,497.3 L1196.0,494.0 L1197.3,492.1 L1198.0,491.2 L1200.0,488.4 L1202.0,486.0 L1204.0,484.7 L1204.3,484.6 L1206.0,484.3 L1208.0,484.1 L1210.0,483.9 L1212.0,483.8 L1214.0,483.6 L1215.8,483.4 L1216.0,483.4 L1218.0,482.9 L1220.0,482.2 L1222.0,481.4 L1224.0,480.5 L1226.0,479.8 L1227.4,479.4 L1228.0,479.2 L1230.0,478.8 L1232.0,478.3 L1234.0,477.8 L1236.0,477.5 L1238.0,477.2 L1239.0,477.1 L1240.0,477.0 L1242.0,476.9 L1244.0,476.8 L1246.0,476.7 L1248.0,476.6 L1250.0,476.5 L1252.0,476.5 L1254.0,476.4 L1256.0,476.3 L1258.0,476.2 L1260.0,476.1 L1262.0,475.9 L1262.2,475.9 L1264.0,475.6 L1266.0,475.2 L1268.0,474.6 L1270.0,474.1 L1272.0,473.6 L1274.0,473.1 L1276.0,472.6 L1278.0,472.1 L1280.0,471.5 L1282.0,471.0 L1284.0,470.5 L1286.0,470.0 L1288.0,469.6 L1289.3,469.3 L1290.0,469.2 L1292.0,468.8 L1294.0,468.4 L1296.0,468.0 L1298.0,467.6 L1300.0,467.3 L1302.0,466.9 L1304.0,466.6 L1306.0,466.3 L1308.0,466.0 L1308.6,465.9 L1310.0,465.7 L1312.0,465.5 L1314.0,465.3 L1316.0,465.1 L1318.0,464.8 L1320.0,464.6 L1322.0,464.2 L1323.1,464.0 L1324.0,463.7 L1326.0,462.7 L1328.0,461.3 L1330.0,459.9 L1332.0,458.6 L1332.7,458.2 L1334.0,457.6 L1336.0,456.7 L1338.0,456.0 L1340.0,455.2 L1342.0,454.5 L1344.0,453.7 L1346.0,452.9 L1347.2,452.4 L1348.0,452.0 L1350.0,451.0 L1352.0,449.9 L1354.0,448.8 L1356.0,447.7 L1358.0,446.6 L1360.0,445.5 L1361.7,444.7 L1362.0,444.6 L1364.0,443.7 L1366.0,442.9 L1368.0,442.2 L1370.0,441.5 L1372.0,440.7 L1374.0,439.9 L1376.0,439.0 L1376.2,438.9 L1378.0,437.9 L1380.0,436.7 L1382.0,435.4 L1384.0,434.0 L1386.0,432.7 L1388.0,431.3 L1390.0,430.1 L1390.7,429.7 L1392.0,429.0 L1394.0,427.9 L1396.0,426.9 L1398.0,425.8 L1400.0,424.9 L1402.0,423.9 L1404.0,423.0 L1405.1,422.5 L1406.0,422.1 L1408.0,421.3 L1410.0,420.5 L1412.0,419.8 L1414.0,419.0 L1416.0,418.3 L1418.0,417.4 L1419.6,416.7 L1420.0,416.5 L1422.0,415.4 L1424.0,414.2 L1426.0,412.8 L1428.0,411.5 L1430.0,410.2 L1432.0,409.0 L1434.0,408.0 L1434.1,408.0 L1436.0,407.3 L1438.0,406.6 L1440.0,406.0 L1442.0,405.4 L1444.0,404.8 L1446.0,404.2 L1448.0,403.4 L1448.6,403.2 L1450.0,402.6 L1452.0,401.5 L1454.0,400.2 L1456.0,398.9 L1458.0,397.7 L1460.0,396.6 L1462.0,395.7 L1463.1,395.4 L1464.0,395.2 L1466.0,394.7 L1468.0,394.4 L1469.3,394.3 L1470.0,394.3 L1472.0,394.4 L1474.0,394.6 L1476.0,394.9 L1478.0,395.3 L1480.0,395.6 L1482.0,395.9 L1483.2,396.1 L1484.0,396.2 L1486.0,396.5 L1488.0,396.7 L1490.0,397.0 L1492.0,397.3 L1494.0,397.6 L1494.8,397.8 L1496.0,398.1 L1498.0,399.0 L1500.0,400.0 L1502.0,401.2 L1504.0,402.3 L1506.0,403.4 L1506.3,403.6 L1508.0,404.4 L1510.0,405.4 L1512.0,406.4 L1514.0,407.4 L1516.0,408.4 L1517.9,409.4 L1518.0,409.5 L1520.0,410.6 L1522.0,411.7 L1524.0,413.0 L1526.0,414.2 L1528.0,415.4 L1529.5,416.3 L1530.0,416.6 L1532.0,417.8 L1534.0,419.0 L1536.0,420.2 L1538.0,421.4 L1540.0,422.6 L1541.1,423.3 L1542.0,423.9 L1544.0,425.5 L1546.0,427.2 L1548.0,428.8 L1550.0,430.1 L1552.0,430.7 L1552.7,430.8 L1554.0,430.7 L1556.0,430.5 L1558.0,430.1 L1560.0,429.6 L1562.0,429.3 L1564.0,429.1 L1564.3,429.1 L1566.0,429.1 L1568.0,429.1 L1570.0,429.2 L1572.0,429.3 L1574.0,429.3 L1576.0,429.4 L1578.0,429.5 L1580.0,429.6 L1582.0,429.6 L1584.0,429.7 L1586.0,429.7 L1587.4,429.7 L1588.0,429.7 L1590.0,429.7 L1592.0,429.6 L1594.0,429.5 L1596.0,429.4 L1598.0,429.3 L1600.0,429.1 L1602.0,429.0 L1604.0,428.9 L1606.0,428.7 L1608.0,428.6 L1610.0,428.5 L1610.6,428.5 L1612.0,428.5 L1614.0,428.4 L1616.0,428.3 L1618.0,428.2 L1620.0,428.2 L1622.0,428.1 L1624.0,428.0 L1626.0,428.0 L1628.0,428.0 L1630.0,427.9 L1632.0,427.9 L1633.8,427.9 L1634.0,427.9 L1636.0,427.9 L1638.0,428.0 L1640.0,428.1 L1642.0,428.2 L1644.0,428.3 L1646.0,428.4 L1648.0,428.6 L1650.0,428.7 L1652.0,428.9 L1654.0,429.0 L1656.0,429.1 L1656.9,429.1 L1658.0,429.1 L1660.0,429.2 L1662.0,429.3 L1664.0,429.4 L1666.0,429.4 L1668.0,429.5 L1670.0,429.5 L1672.0,429.6 L1674.0,429.6 L1676.0,429.7 L1678.0,429.7 L1680.0,429.7 L1680.1,429.7 L1682.0,429.7 L1684.0,429.7 L1686.0,429.7 L1688.0,429.7 L1690.0,429.7 L1692.0,429.7 L1694.0,429.7 L1696.0,429.7 L1698.0,429.7 L1700.0,429.7 L1702.0,429.8 L1704.0,429.9 L1706.0,430.1 L1708.0,430.4 L1710.0,430.8 L1712.0,431.2 L1714.0,431.6 L1716.0,432.0 L1718.0,432.3 L1720.0,432.7 L1722.0,433.0 L1722.8,433.1 L1724.0,433.2 L1726.0,433.5 L1728.0,433.7 L1730.0,433.8 L1732.0,434.0 L1734.0,434.2 L1736.0,434.3 L1738.0,434.5 L1740.0,434.7 L1742.0,434.8 L1744.0,435.0 L1746.0,435.2 L1748.0,435.4 L1750.0,435.6 L1752.0,435.9 L1754.0,436.2 L1755.6,436.4 L1756.0,436.5 L1758.0,436.9 L1760.0,437.4 L1762.0,438.1 L1764.0,438.7 L1766.0,439.4 L1768.0,440.1 L1770.0,440.8 L1772.0,441.3 L1774.0,441.8 L1776.0,442.2 L1778.0,442.6 L1780.0,442.9 L1782.0,443.3 L1784.0,443.6 L1786.0,444.0 L1788.0,444.4 L1790.0,444.7 L1792.0,445.2 L1794.0,445.6 L1796.0,446.1 L1796.7,446.3 L1798.0,446.7 L1800.0,447.4 L1802.0,448.3 L1804.0,449.2 L1806.0,450.1 L1808.0,451.0 L1810.0,451.8 L1812.0,452.5 L1813.1,452.8 L1814.0,453.0 L1816.0,453.4 L1818.0,453.8 L1820.0,454.2 L1822.0,454.5 L1824.0,454.8 L1826.0,455.1 L1828.0,455.4 L1830.0,455.6 L1832.0,455.9 L1834.0,456.2 L1836.0,456.6 L1837.7,456.9 L1838.0,457.0 L1840.0,457.4 L1842.0,457.9 L1844.0,458.4 L1846.0,458.9 L1848.0,459.4 L1850.0,460.0 L1852.0,460.5 L1854.0,461.0 L1856.0,461.5 L1858.0,461.9 L1860.0,462.3 L1862.0,462.7 L1862.3,462.7 L1864.0,462.9 L1866.0,463.2 L1868.0,463.4 L1870.0,463.6 L1872.0,463.8 L1874.0,464.0 L1876.0,464.2 L1878.0,464.4 L1880.0,464.5 L1882.0,464.7 L1884.0,464.9 L1886.0,465.0 L1886.9,465.1 L1888.0,465.2 L1890.0,465.3 L1892.0,465.5 L1894.0,465.6 L1896.0,465.7 L1898.0,465.8 L1900.0,466.0 L1902.0,466.1 L1904.0,466.2 L1906.0,466.4 L1908.0,466.5 L1910.0,466.7 L1911.5,466.8 L1912.0,466.8 L1914.0,467.0 L1916.0,467.2 L1918.0,467.4 L1920.0,467.7 L1922.0,467.9 L1924.0,468.2 L1926.0,468.4 L1928.0,468.7 L1930.0,469.0 L1932.0,469.3 L1934.0,469.6 L1936.0,470.0 L1936.1,470.0 L1938.0,470.4 L1940.0,470.8 L1942.0,471.3 L1944.0,471.8 L1946.0,472.4 L1948.0,473.0 L1950.0,473.5 L1952.0,474.0 L1952.6,474.2 L1954.0,474.5 L1956.0,475.0 L1958.0,475.4 L1960.0,475.9 L1962.0,476.3 L1964.0,476.8 L1966.0,477.3 L1968.0,478.0 L1969.0,478.3 L1970.0,478.7 L1972.0,479.7 L1974.0,480.8 L1976.0,482.1 L1978.0,483.5 L1980.0,485.0 L1982.0,486.5 L1984.0,487.9 L1985.4,488.9 L1986.0,489.3 L1988.0,490.6 L1990.0,492.0 L1992.0,493.3 L1994.0,494.7 L1996.0,496.1 L1998.0,497.5 L2000.0,499.0 L2001.8,500.4 L2002.0,500.6 L2004.0,502.1 L2006.0,503.8 L2008.0,505.4 L2010.0,507.2 L2012.0,509.0 L2014.0,510.9 L2016.0,512.9 L2018.0,515.0 L2018.2,515.2 L2020.0,517.4 L2022.0,520.0 L2024.0,522.8 L2025.4,524.7 L2026.0,525.5 L2028.0,528.1 L2030.0,530.7 L2032.0,533.3 L2034.0,535.9 L2036.0,538.4 L2038.0,541.0 L2040.0,543.6 L2040.9,544.8 L2042.0,546.2 L2044.0,548.8 L2046.0,551.3 L2048.0,553.9 L2050.0,556.5 L2052.0,559.1 L2054.0,561.8 L2056.0,564.5 L2056.3,564.9 L2058.0,567.3 L2060.0,570.2 L2062.0,573.2 L2064.0,576.2 L2066.0,579.2 L2068.0,582.2 L2070.0,585.3 L2071.8,588.0 L2072.0,588.3 L2074.0,591.3 L2076.0,594.4 L2078.0,597.5 L2080.0,600.6 L2082.0,603.6 L2084.0,606.6 L2086.0,609.5 L2087.2,611.2 L2088.0,612.3 L2090.0,615.1 L2092.0,617.8 L2094.0,620.4 L2096.0,623.0 L2098.0,625.5 L2100.0,628.0 L2102.0,630.5 L2102.7,631.3 L2104.0,632.8 L2106.0,635.2 L2108.0,637.4 L2110.0,639.6 L2112.0,641.8 L2114.0,644.0 L2116.0,646.1 L2118.0,648.2 L2118.1,648.3 L2120.0,650.3 L2122.0,652.4 L2124.0,654.4 L2126.0,656.5 L2128.0,658.4 L2130.0,660.4 L2132.0,662.3 L2133.6,663.7 L2134.0,664.1 L2136.0,665.8 L2138.0,667.4 L2140.0,669.0 L2142.0,670.5 L2144.0,672.1 L2146.0,673.6 L2148.0,675.3 L2149.0,676.1 L2150.0,677.0 L2152.0,678.8 L2154.0,680.8 L2156.0,682.8 L2158.0,684.7 L2160.0,686.6 L2162.0,688.3 L2164.0,689.7 L2164.4,690.0 L2166.0,691.0 L2168.0,692.1 L2170.0,693.0 L2172.0,694.0 L2174.0,694.9 L2176.0,695.8 L2178.0,696.7 L2179.9,697.7 L2180.0,697.8 L2182.0,698.9 L2184.0,700.1 L2186.0,701.3 L2188.0,702.6 L2190.0,703.9 L2192.0,705.1 L2194.0,706.3 L2195.3,707.0 L2196.0,707.4 L2198.0,708.5 L2200.0,709.6 L2202.0,710.6 L2204.0,711.7 L2206.0,712.6 L2208.0,713.6 L2210.0,714.4 L2210.8,714.7 L2212.0,715.1 L2214.0,715.8 L2216.0,716.4 L2218.0,716.9 L2220.0,717.5 L2222.0,718.0 L2224.0,718.6 L2226.0,719.2 L2226.2,719.3 L2228.0,720.0 L2230.0,720.8 L2232.0,721.7 L2234.0,722.6 L2236.0,723.4 L2238.0,724.3 L2240.0,725.0 L2241.7,725.5 L2242.0,725.6 L2244.0,726.1 L2246.0,726.5 L2248.0,726.9 L2250.0,727.3 L2252.0,727.6 L2254.0,728.0 L2256.0,728.4 L2257.1,728.6 L2258.0,728.8 L2260.0,729.2 L2262.0,729.5 L2264.0,729.9 L2266.0,730.3 L2268.0,730.6 L2270.0,731.1 L2272.0,731.6 L2272.5,731.7 L2274.0,732.2 L2276.0,732.9 L2278.0,733.8 L2280.0,734.7 L2282.0,735.6 L2284.0,736.5 L2286.0,737.2 L2288.0,737.8 L2290.0,738.2 L2292.0,738.6 L2294.0,738.9 L2296.0,739.2 L2298.0,739.4 L2300.0,739.7 L2302.0,740.0 L2303.4,740.2 L2304.0,740.3 L2306.0,740.6 L2308.0,740.8 L2310.0,741.1 L2312.0,741.3 L2314.0,741.6 L2316.0,742.0 L2318.0,742.5 L2320.0,743.1 L2320.4,743.2 L2322.0,744.5 L2324.0,744.5 L2326.0,744.5 L2328.0,744.5" fill="none" stroke="#ff00ff" stroke-width="8" stroke-linejoin="round" stroke-linecap="butt"/>
<path d="M158.0,877.8 L160.0,877.8 L162.0,877.8 L164.0,877.8 L166.0,877.8 L168.0,877.8 L170.0,877.7 L172.0,877.7 L174.0,877.6 L176.0,877.6 L178.0,877.5 L180.0,877.4 L182.0,877.3 L184.0,877.2 L186.0,877.1 L188.0,877.0 L190.0,876.8 L192.0,876.7 L194.0,876.6 L196.0,876.4 L198.0,876.3 L199.6,876.2 L200.0,876.2 L202.0,876.0 L204.0,875.8 L206.0,875.6 L208.0,875.3 L210.0,875.0 L212.0,874.7 L214.0,874.3 L216.0,874.0 L218.0,873.6 L220.0,873.2 L222.0,872.9 L224.0,872.5 L226.0,872.1 L228.0,871.8 L230.0,871.4 L232.0,871.1 L234.0,870.8 L236.0,870.5 L238.0,870.3 L239.1,870.2 L240.0,870.1 L242.0,869.9 L244.0,869.8 L246.0,869.6 L248.0,869.4 L250.0,869.3 L252.0,869.1 L254.0,869.0 L256.0,868.9 L258.0,868.7 L260.0,868.6 L262.0,868.5 L264.0,868.4 L266.0,868.2 L268.0,868.1 L270.0,868.0 L272.0,867.8 L274.0,867.7 L276.0,867.5 L278.0,867.4 L278.7,867.3 L280.0,867.2 L282.0,867.0 L284.0,866.8 L286.0,866.7 L288.0,866.5 L290.0,866.3 L292.0,866.1 L294.0,865.9 L296.0,865.7 L298.0,865.5 L300.0,865.3 L302.0,865.1 L304.0,864.9 L306.0,864.6 L308.0,864.4 L310.0,864.2 L312.0,864.0 L314.0,863.8 L316.0,863.6 L318.0,863.3 L318.3,863.3 L320.0,863.1 L322.0,862.9 L324.0,862.7 L326.0,862.4 L328.0,862.2 L330.0,862.0 L332.0,861.7 L334.0,861.5 L336.0,861.2 L338.0,861.0 L340.0,860.7 L342.0,860.5 L344.0,860.2 L346.0,860.0 L348.0,859.7 L350.0,859.5 L352.0,859.2 L354.0,858.9 L356.0,858.7 L357.9,858.4 L358.0,858.4 L360.0,858.1 L362.0,857.8 L364.0,857.5 L366.0,857.3 L368.0,857.0 L370.0,856.7 L372.0,856.4 L374.0,856.1 L376.0,855.8 L378.0,855.5 L380.0,855.2 L382.0,854.9 L384.0,854.5 L386.0,854.2 L388.0,853.9 L390.0,853.6 L392.0,853.3 L394.0,853.0 L396.0,852.6 L397.4,852.4 L398.0,852.3 L400.0,852.0 L402.0,851.7 L404.0,851.3 L406.0,851.0 L408.0,850.7 L410.0,850.4 L412.0,850.1 L414.0,849.7 L416.0,849.4 L418.0,849.1 L420.0,848.7 L422.0,848.4 L424.0,848.0 L426.0,847.7 L428.0,847.3 L430.0,846.9 L432.0,846.5 L434.0,846.1 L436.0,845.7 L437.0,845.5 L438.0,845.3 L440.0,844.8 L442.0,844.3 L444.0,843.8 L446.0,843.3 L448.0,842.7 L450.0,842.1 L452.0,841.6 L454.0,841.0 L456.0,840.4 L458.0,839.8 L460.0,839.3 L462.0,838.8 L464.0,838.2 L466.0,837.8 L466.7,837.6 L468.0,837.3 L470.0,836.9 L472.0,836.5 L474.0,836.1 L476.0,835.7 L478.0,835.3 L480.0,834.9 L482.0,834.5 L484.0,834.1 L486.0,833.8 L488.0,833.4 L490.0,833.0 L492.0,832.6 L494.0,832.2 L496.0,831.8 L496.4,831.7 L498.0,831.4 L500.0,830.9 L502.0,830.5 L504.0,830.0 L506.0,829.6 L508.0,829.1 L510.0,828.7 L512.0,828.2 L514.0,827.7 L516.0,827.2 L518.0,826.7 L520.0,826.2 L522.0,825.7 L524.0,825.2 L526.0,824.7 L528.0,824.2 L530.0,823.6 L532.0,823.0 L534.0,822.4 L536.0,821.8 L538.0,821.1 L540.0,820.5 L542.0,819.8 L544.0,819.2 L546.0,818.6 L548.0,818.0 L550.0,817.4 L552.0,816.8 L554.0,816.2 L555.7,815.8 L556.0,815.7 L558.0,815.2 L560.0,814.8 L562.0,814.4 L564.0,813.9 L566.0,813.5 L568.0,813.1 L570.0,812.7 L572.0,812.3 L574.0,811.9 L576.0,811.6 L578.0,811.2 L580.0,810.8 L582.0,810.4 L584.0,810.0 L586.0,809.7 L588.0,809.3 L590.0,808.9 L592.0,808.5 L594.0,808.1 L596.0,807.7 L598.0,807.3 L600.0,806.9 L602.0,806.5 L604.0,806.1 L606.0,805.7 L607.2,805.4 L608.0,805.2 L610.0,804.8 L612.0,804.3 L614.0,803.9 L616.0,803.4 L618.0,802.9 L620.0,802.5 L622.0,802.0 L624.0,801.5 L626.0,801.1 L628.0,800.6 L630.0,800.1 L632.0,799.6 L634.0,799.1 L636.0,798.6 L638.0,798.1 L640.0,797.5 L642.0,797.0 L644.0,796.5 L646.0,795.9 L648.0,795.4 L650.0,794.8 L652.0,794.3 L654.0,793.7 L654.3,793.6 L656.0,793.1 L658.0,792.5 L660.0,791.9 L662.0,791.3 L664.0,790.7 L666.0,790.1 L668.0,789.5 L670.0,788.9 L672.0,788.2 L674.0,787.6 L676.0,786.9 L678.0,786.2 L680.0,785.5 L682.0,784.8 L684.0,784.0 L686.0,783.3 L688.0,782.5 L689.7,781.8 L690.0,781.7 L692.0,780.8 L694.0,780.0 L696.0,779.1 L698.0,778.2 L700.0,777.3 L702.0,776.3 L704.0,775.3 L706.0,774.3 L708.0,773.3 L710.0,772.2 L712.0,771.1 L714.0,770.0 L716.0,768.8 L718.0,767.6 L720.0,766.3 L722.0,765.1 L724.0,763.7 L725.1,763.0 L726.0,762.4 L728.0,760.9 L730.0,759.4 L732.0,757.8 L734.0,756.1 L736.0,754.3 L738.0,752.5 L740.0,750.6 L742.0,748.6 L744.0,746.6 L746.0,744.5 L748.0,742.4 L748.6,741.7 L750.0,740.1 L752.0,737.7 L754.0,735.2 L756.0,732.6 L758.0,729.8 L760.0,727.0 L762.0,724.1 L764.0,721.1 L766.0,718.1 L767.5,715.8 L768.0,715.0 L770.0,711.8 L772.0,708.4 L774.0,704.9 L776.0,701.4 L778.0,697.8 L780.0,694.2 L782.0,690.8 L784.0,687.5 L786.0,684.3 L788.0,681.3 L790.0,678.3 L792.0,675.3 L794.0,672.4 L796.0,669.5 L798.0,666.5 L800.0,663.6 L802.0,660.6 L802.9,659.2 L804.0,657.5 L806.0,654.5 L808.0,651.4 L810.0,648.3 L812.0,645.2 L814.0,642.1 L816.0,638.9 L818.0,635.6 L819.4,633.3 L820.0,632.3 L822.0,628.9 L824.0,625.3 L826.0,621.7 L828.0,618.1 L830.0,614.4 L832.0,610.7 L834.0,607.0 L836.0,603.3 L838.0,599.6 L840.0,596.0 L842.0,592.5 L843.0,590.8 L844.0,589.1 L846.0,585.6 L848.0,582.1 L850.0,578.5 L852.0,575.1 L854.0,571.7 L856.0,568.4 L858.0,565.4 L860.0,562.5 L861.8,560.2 L862.0,560.0 L864.0,557.7 L866.0,555.6 L868.0,553.6 L870.0,551.7 L872.0,549.9 L874.0,548.0 L876.0,546.0 L878.0,544.1 L880.0,541.8 L882.0,537.8 L884.0,533.2 L885.4,531.0 L886.0,530.5 L888.0,528.9 L890.0,527.7 L892.0,526.8 L893.5,526.3 L894.0,526.1 L896.0,525.5 L898.0,525.0 L900.0,524.6 L902.0,524.3 L902.9,524.3 L904.0,524.4 L906.0,524.8 L908.0,525.6 L910.0,526.5 L911.0,527.0 L912.0,527.5 L914.0,529.0 L916.0,530.8 L918.0,532.7 L920.0,534.6 L920.4,535.0 L922.0,536.5 L924.0,538.5 L926.0,540.5 L928.0,542.6 L928.5,543.1 L930.0,544.7 L932.0,546.8 L934.0,549.0 L936.0,551.4 L938.0,553.9 L940.0,556.8 L942.0,559.9 L944.0,563.2 L946.0,566.5 L947.4,568.7 L948.0,569.6 L950.0,572.4 L952.0,575.1 L954.0,577.9 L956.0,580.9 L956.8,582.2 L958.0,584.3 L960.0,588.2 L962.0,592.4 L964.0,596.6 L966.0,600.5 L966.3,601.1 L968.0,604.1 L970.0,607.4 L972.0,610.6 L974.0,614.1 L974.3,614.6 L976.0,617.8 L978.0,621.7 L980.0,625.7 L982.0,629.8 L983.8,633.4 L984.0,633.8 L986.0,637.9 L988.0,641.9 L990.0,646.0 L991.9,649.6 L992.0,649.8 L994.0,653.5 L996.0,657.1 L998.0,660.5 L1000.0,663.8 L1001.3,665.8 L1002.0,666.8 L1004.0,669.8 L1006.0,672.6 L1008.0,675.3 L1010.0,677.8 L1012.0,680.3 L1013.4,681.9 L1014.0,682.6 L1016.0,684.8 L1018.0,687.0 L1020.0,689.1 L1022.0,691.2 L1024.0,693.1 L1026.0,694.9 L1028.0,696.6 L1028.2,696.8 L1030.0,698.3 L1032.0,699.9 L1034.0,701.6 L1036.0,703.0 L1038.0,704.4 L1040.0,705.5 L1041.7,706.2 L1042.0,706.3 L1044.0,707.0 L1046.0,707.7 L1048.0,708.3 L1050.0,708.8 L1052.0,709.4 L1054.0,709.8 L1056.0,710.2 L1058.0,710.5 L1060.0,710.7 L1061.9,710.9 L1062.0,710.9 L1064.0,711.0 L1066.0,711.1 L1068.0,711.2 L1070.0,711.3 L1072.0,711.4 L1074.0,711.5 L1076.0,711.5 L1078.0,711.6 L1080.0,711.6 L1082.0,711.6 L1082.2,711.6 L1084.0,711.6 L1086.0,711.4 L1088.0,711.2 L1090.0,710.9 L1092.0,710.5 L1094.0,710.1 L1096.0,709.7 L1098.0,709.2 L1100.0,708.8 L1102.0,708.3 L1102.4,708.2 L1104.0,707.8 L1106.0,707.2 L1108.0,706.6 L1110.0,705.9 L1112.0,705.2 L1114.0,704.4 L1116.0,703.6 L1118.0,702.9 L1119.9,702.2 L1120.0,702.2 L1122.0,701.5 L1124.0,700.8 L1126.0,700.0 L1128.0,699.3 L1130.0,698.6 L1132.0,697.9 L1134.0,697.2 L1136.0,696.4 L1138.0,695.6 L1140.0,694.9 L1142.0,694.0 L1142.8,693.7 L1144.0,693.2 L1146.0,692.3 L1148.0,691.3 L1150.0,690.4 L1152.0,689.3 L1154.0,688.3 L1156.0,687.2 L1158.0,686.2 L1160.0,685.1 L1162.0,684.0 L1164.0,683.0 L1166.0,681.9 L1168.0,680.9 L1170.0,679.9 L1172.0,678.9 L1174.0,678.0 L1175.6,677.3 L1176.0,677.1 L1178.0,676.3 L1180.0,675.5 L1182.0,674.6 L1184.0,673.8 L1186.0,673.1 L1188.0,672.3 L1190.0,671.5 L1192.0,670.8 L1194.0,670.0 L1196.0,669.3 L1198.0,668.6 L1200.0,667.9 L1202.0,667.2 L1204.0,666.5 L1206.0,665.8 L1208.0,665.2 L1208.5,665.0 L1210.0,664.5 L1212.0,663.9 L1214.0,663.3 L1216.0,662.7 L1218.0,662.1 L1220.0,661.6 L1222.0,661.1 L1224.0,660.5 L1226.0,660.0 L1228.0,659.4 L1230.0,658.9 L1232.0,658.3 L1234.0,657.7 L1236.0,657.0 L1238.0,656.4 L1240.0,655.7 L1241.3,655.2 L1242.0,654.9 L1244.0,654.1 L1246.0,653.2 L1248.0,652.2 L1250.0,651.2 L1252.0,650.2 L1254.0,649.1 L1256.0,648.0 L1258.0,646.8 L1260.0,645.7 L1262.0,644.6 L1264.0,643.5 L1266.0,642.5 L1268.0,641.5 L1270.0,640.5 L1272.0,639.6 L1274.0,638.8 L1274.1,638.8 L1276.0,638.1 L1278.0,637.4 L1280.0,636.8 L1282.0,636.1 L1284.0,635.5 L1286.0,635.0 L1288.0,634.4 L1290.0,633.9 L1292.0,633.3 L1294.0,632.8 L1296.0,632.2 L1298.0,631.7 L1300.0,631.1 L1302.0,630.5 L1304.0,629.9 L1306.0,629.2 L1306.9,628.9 L1308.0,628.5 L1310.0,627.8 L1312.0,627.1 L1314.0,626.3 L1316.0,625.6 L1318.0,624.8 L1320.0,624.0 L1322.0,623.2 L1324.0,622.4 L1326.0,621.6 L1328.0,620.7 L1330.0,619.9 L1332.0,619.1 L1334.0,618.2 L1336.0,617.4 L1338.0,616.5 L1339.7,615.8 L1340.0,615.7 L1342.0,614.8 L1344.0,613.9 L1346.0,613.0 L1348.0,612.0 L1350.0,611.1 L1352.0,610.1 L1354.0,609.2 L1356.0,608.2 L1358.0,607.3 L1360.0,606.3 L1362.0,605.4 L1364.0,604.5 L1366.0,603.6 L1368.0,602.8 L1370.0,602.0 L1372.0,601.2 L1372.6,601.0 L1374.0,600.5 L1376.0,599.8 L1378.0,599.2 L1380.0,598.5 L1382.0,597.9 L1384.0,597.3 L1386.0,596.7 L1388.0,596.1 L1390.0,595.6 L1392.0,595.0 L1394.0,594.5 L1396.0,593.9 L1398.0,593.3 L1400.0,592.8 L1402.0,592.2 L1404.0,591.6 L1405.4,591.2 L1406.0,591.0 L1408.0,590.4 L1410.0,589.8 L1412.0,589.2 L1414.0,588.5 L1416.0,587.9 L1418.0,587.2 L1420.0,586.6 L1422.0,586.0 L1424.0,585.4 L1426.0,584.7 L1428.0,584.1 L1430.0,583.5 L1432.0,583.0 L1434.0,582.4 L1436.0,581.9 L1438.0,581.3 L1438.2,581.3 L1440.0,580.9 L1442.0,580.4 L1444.0,580.0 L1445.8,579.6 L1446.0,579.6 L1448.0,579.1 L1450.0,578.5 L1452.0,578.0 L1454.0,577.4 L1456.0,576.9 L1458.0,576.3 L1460.0,575.8 L1462.0,575.3 L1464.0,574.9 L1465.1,574.7 L1466.0,574.5 L1468.0,574.2 L1470.0,573.9 L1472.0,573.6 L1474.0,573.4 L1476.0,573.1 L1478.0,572.8 L1480.0,572.6 L1482.0,572.3 L1484.0,572.0 L1484.4,571.9 L1486.0,571.6 L1488.0,571.3 L1490.0,570.9 L1492.0,570.5 L1494.0,570.1 L1496.0,569.7 L1498.0,569.3 L1500.0,568.9 L1502.0,568.4 L1503.7,568.0 L1504.0,567.9 L1506.0,567.3 L1508.0,566.5 L1510.0,565.7 L1512.0,565.2 L1513.4,565.1 L1514.0,565.1 L1516.0,565.1 L1518.0,565.2 L1520.0,565.2 L1522.0,565.3 L1524.0,565.4 L1526.0,565.6 L1528.0,565.7 L1530.0,565.9 L1532.0,566.0 L1532.7,566.1 L1534.0,566.3 L1536.0,566.6 L1538.0,567.2 L1540.0,567.8 L1542.0,568.6 L1544.0,569.4 L1546.0,570.3 L1548.0,571.1 L1550.0,572.0 L1552.0,572.8 L1554.0,573.6 L1556.0,574.5 L1558.0,575.4 L1560.0,576.3 L1562.0,577.2 L1564.0,578.2 L1566.0,579.1 L1568.0,580.0 L1570.0,580.9 L1571.3,581.5 L1572.0,581.8 L1574.0,582.7 L1576.0,583.5 L1578.0,584.4 L1580.0,585.3 L1582.0,586.1 L1584.0,587.0 L1586.0,587.7 L1588.0,588.4 L1590.0,589.0 L1590.6,589.2 L1592.0,589.6 L1594.0,590.2 L1596.0,590.8 L1598.0,591.3 L1600.0,591.7 L1602.0,592.0 L1604.0,592.1 L1604.1,592.1 L1606.0,592.1 L1608.0,591.9 L1610.0,591.7 L1612.0,591.5 L1614.0,591.2 L1616.0,590.9 L1618.0,590.6 L1620.0,590.3 L1622.0,590.0 L1624.0,589.7 L1626.0,589.5 L1628.0,589.3 L1629.2,589.2 L1630.0,589.2 L1632.0,589.1 L1634.0,589.0 L1636.0,588.9 L1638.0,588.9 L1640.0,588.8 L1642.0,588.8 L1644.0,588.7 L1646.0,588.7 L1648.0,588.6 L1650.0,588.6 L1652.0,588.5 L1654.0,588.5 L1656.0,588.4 L1658.0,588.3 L1658.2,588.3 L1660.0,588.2 L1662.0,588.1 L1664.0,587.9 L1666.0,587.8 L1668.0,587.6 L1670.0,587.4 L1672.0,587.2 L1674.0,587.0 L1676.0,586.8 L1678.0,586.7 L1680.0,586.5 L1682.0,586.4 L1684.0,586.4 L1686.0,586.3 L1687.1,586.3 L1688.0,586.3 L1690.0,586.4 L1692.0,586.5 L1694.0,586.7 L1696.0,587.0 L1698.0,587.2 L1700.0,587.4 L1702.0,587.6 L1704.0,587.8 L1706.0,588.0 L1708.0,588.3 L1710.0,588.5 L1712.0,588.8 L1714.0,589.0 L1716.0,589.3 L1718.0,589.6 L1720.0,589.8 L1722.0,590.1 L1724.0,590.4 L1726.0,590.6 L1728.0,590.9 L1729.0,591.0 L1730.0,591.1 L1732.0,591.4 L1734.0,591.6 L1736.0,591.9 L1738.0,592.1 L1740.0,592.4 L1742.0,592.6 L1744.0,592.9 L1746.0,593.1 L1748.0,593.4 L1750.0,593.6 L1752.0,593.9 L1754.0,594.1 L1756.0,594.4 L1757.9,594.6 L1758.0,594.6 L1760.0,594.9 L1762.0,595.1 L1764.0,595.3 L1766.0,595.6 L1768.0,595.8 L1770.0,596.0 L1772.0,596.2 L1774.0,596.5 L1776.0,596.7 L1778.0,597.0 L1780.0,597.2 L1782.0,597.5 L1784.0,597.8 L1786.0,598.1 L1786.9,598.2 L1788.0,598.4 L1790.0,598.7 L1792.0,599.1 L1794.0,599.4 L1796.0,599.8 L1798.0,600.2 L1800.0,600.6 L1802.0,601.1 L1804.0,601.5 L1806.0,601.9 L1808.0,602.4 L1810.0,602.8 L1812.0,603.2 L1814.0,603.6 L1815.8,604.0 L1816.0,604.0 L1818.0,604.4 L1820.0,604.9 L1822.0,605.3 L1824.0,605.7 L1826.0,606.1 L1828.0,606.6 L1830.0,607.0 L1832.0,607.4 L1834.0,607.8 L1836.0,608.2 L1838.0,608.6 L1840.0,609.0 L1842.0,609.3 L1844.0,609.7 L1844.8,609.8 L1846.0,610.0 L1848.0,610.3 L1850.0,610.5 L1852.0,610.8 L1854.0,611.0 L1856.0,611.3 L1858.0,611.5 L1860.0,611.7 L1862.0,612.0 L1864.0,612.2 L1866.0,612.4 L1868.0,612.7 L1870.0,612.9 L1872.0,613.2 L1873.7,613.4 L1874.0,613.4 L1876.0,613.7 L1878.0,614.1 L1880.0,614.5 L1882.0,614.9 L1884.0,615.3 L1886.0,615.7 L1888.0,616.1 L1890.0,616.4 L1892.0,616.8 L1894.0,617.1 L1896.0,617.4 L1898.0,617.6 L1900.0,617.7 L1902.0,617.8 L1902.7,617.8 L1904.0,617.8 L1906.0,617.8 L1908.0,617.8 L1910.0,617.8 L1912.0,617.8 L1914.0,617.8 L1916.0,617.8 L1918.0,617.8 L1920.0,617.8 L1922.0,617.8 L1924.0,617.8 L1926.0,617.8 L1928.0,617.8 L1930.0,617.8 L1931.6,617.8 L1932.0,617.8 L1934.0,617.8 L1936.0,617.9 L1938.0,618.0 L1940.0,618.2 L1942.0,618.4 L1944.0,618.6 L1946.0,618.8 L1948.0,619.1 L1950.0,619.4 L1952.0,619.8 L1954.0,620.1 L1956.0,620.5 L1958.0,620.9 L1960.0,621.3 L1960.6,621.4 L1962.0,621.8 L1964.0,622.5 L1966.0,623.5 L1968.0,624.6 L1970.0,625.6 L1972.0,626.7 L1974.0,627.5 L1975.1,627.9 L1976.0,628.2 L1978.0,628.7 L1980.0,629.1 L1982.0,629.6 L1983.0,629.8 L1984.0,630.0 L1986.0,630.3 L1988.0,630.7 L1990.0,631.2 L1992.0,632.1 L1994.0,633.6 L1996.0,635.2 L1998.0,636.8 L1999.0,637.5 L2000.0,638.1 L2002.0,639.2 L2004.0,640.2 L2006.0,641.3 L2008.0,642.5 L2010.0,643.9 L2012.0,645.4 L2014.0,647.1 L2016.0,648.8 L2017.0,649.6 L2018.0,650.5 L2020.0,652.4 L2022.0,654.4 L2024.0,656.3 L2025.9,657.7 L2026.0,657.8 L2028.0,658.9 L2030.0,659.7 L2032.0,660.6 L2034.0,661.6 L2034.9,662.2 L2036.0,663.1 L2038.0,665.2 L2040.0,667.8 L2042.0,670.5 L2043.9,673.0 L2044.0,673.1 L2046.0,675.7 L2048.0,678.4 L2050.0,681.0 L2052.0,683.6 L2052.9,684.7 L2054.0,686.0 L2056.0,688.2 L2058.0,690.3 L2060.0,692.4 L2061.9,694.6 L2062.0,694.7 L2064.0,697.3 L2066.0,700.0 L2068.0,702.7 L2070.0,705.2 L2070.9,706.3 L2072.0,707.5 L2074.0,709.5 L2076.0,711.3 L2078.0,713.2 L2079.8,715.2 L2080.0,715.4 L2082.0,718.0 L2084.0,720.9 L2086.0,723.9 L2088.0,726.7 L2088.8,727.8 L2090.0,729.3 L2092.0,731.6 L2094.0,733.9 L2096.0,736.3 L2097.8,738.6 L2098.0,738.9 L2100.0,741.9 L2102.0,745.3 L2104.0,748.7 L2106.0,751.9 L2106.8,753.0 L2108.0,754.6 L2110.0,757.2 L2112.0,759.5 L2114.0,761.8 L2115.8,763.8 L2116.0,764.0 L2118.0,766.0 L2120.0,767.8 L2122.0,769.6 L2124.0,771.7 L2124.8,772.7 L2126.0,774.5 L2127.6,777.0 L2128.0,777.5 L2130.0,779.9 L2132.0,782.2 L2134.0,784.4 L2136.0,786.4 L2138.0,788.3 L2140.0,790.2 L2142.0,792.0 L2144.0,793.8 L2146.0,795.6 L2147.8,797.3 L2148.0,797.5 L2150.0,799.3 L2152.0,801.2 L2154.0,803.0 L2156.0,804.7 L2158.0,806.5 L2160.0,808.2 L2162.0,809.9 L2164.0,811.6 L2166.0,813.2 L2168.0,814.8 L2168.1,814.9 L2170.0,816.4 L2172.0,817.9 L2174.0,819.4 L2176.0,820.9 L2178.0,822.4 L2180.0,823.8 L2182.0,825.2 L2184.0,826.6 L2186.0,828.0 L2188.0,829.4 L2188.4,829.7 L2190.0,830.8 L2192.0,832.2 L2194.0,833.6 L2196.0,834.9 L2198.0,836.3 L2200.0,837.6 L2202.0,838.9 L2204.0,840.2 L2206.0,841.5 L2208.0,842.8 L2208.6,843.2 L2210.0,844.1 L2212.0,845.4 L2214.0,846.7 L2216.0,848.0 L2218.0,849.2 L2220.0,850.5 L2222.0,851.8 L2224.0,853.0 L2226.0,854.2 L2228.0,855.4 L2230.0,856.5 L2232.0,857.6 L2234.0,858.7 L2235.7,859.5 L2236.0,859.6 L2238.0,860.6 L2240.0,861.5 L2242.0,862.4 L2244.0,863.2 L2246.0,864.1 L2248.0,864.9 L2250.0,865.7 L2252.0,866.4 L2254.0,867.2 L2256.0,867.9 L2258.0,868.7 L2260.0,869.4 L2262.0,870.1 L2262.7,870.3 L2264.0,870.7 L2266.0,871.4 L2268.0,872.1 L2270.0,872.7 L2272.0,873.3 L2274.0,873.9 L2276.0,874.5 L2278.0,875.1 L2280.0,875.7 L2282.0,876.3 L2284.0,876.8 L2286.0,877.4 L2288.0,877.9 L2289.7,878.4 L2290.0,878.5 L2292.0,879.1 L2294.0,879.7 L2296.0,880.3 L2298.0,881.0 L2300.0,881.7 L2302.0,882.3 L2304.0,883.0 L2306.0,883.6 L2308.0,884.2 L2310.0,884.7 L2312.0,885.2 L2314.0,885.7 L2316.0,886.0 L2318.0,886.3 L2320.0,886.4 L2322.0,886.5 L2324.0,886.5 L2326.0,886.5 L2328.0,886.5" fill="none" stroke="#ff8316" stroke-width="8" stroke-linejoin="round" stroke-linecap="butt"/>
<path d="M158.0,1059.0 L160.0,1059.0 L162.0,1059.0 L164.0,1059.0 L166.0,1059.0 L168.0,1059.1 L170.0,1059.1 L172.0,1059.2 L174.0,1059.3 L176.0,1059.4 L178.0,1059.6 L180.0,1059.7 L182.0,1059.8 L184.0,1060.0 L186.0,1060.1 L188.0,1060.3 L190.0,1060.4 L192.0,1060.5 L194.0,1060.7 L196.0,1060.8 L198.0,1060.8 L199.6,1060.9 L200.0,1060.9 L202.0,1061.0 L204.0,1061.0 L206.0,1061.1 L208.0,1061.1 L210.0,1061.2 L212.0,1061.3 L214.0,1061.3 L216.0,1061.4 L218.0,1061.4 L220.0,1061.5 L222.0,1061.5 L224.0,1061.5 L226.0,1061.6 L228.0,1061.6 L230.0,1061.6 L232.0,1061.7 L234.0,1061.7 L236.0,1061.7 L238.0,1061.7 L239.1,1061.7 L240.0,1061.7 L242.0,1061.7 L244.0,1061.7 L246.0,1061.7 L248.0,1061.7 L250.0,1061.7 L252.0,1061.6 L254.0,1061.6 L256.0,1061.6 L258.0,1061.6 L260.0,1061.6 L262.0,1061.5 L264.0,1061.5 L266.0,1061.5 L268.0,1061.5 L270.0,1061.4 L272.0,1061.4 L274.0,1061.4 L276.0,1061.3 L278.0,1061.3 L278.7,1061.3 L280.0,1061.3 L282.0,1061.2 L284.0,1061.2 L286.0,1061.2 L288.0,1061.1 L290.0,1061.1 L292.0,1061.1 L294.0,1061.0 L296.0,1061.0 L298.0,1060.9 L300.0,1060.9 L302.0,1060.8 L304.0,1060.8 L306.0,1060.7 L308.0,1060.7 L310.0,1060.6 L312.0,1060.5 L314.0,1060.5 L316.0,1060.4 L318.0,1060.3 L318.3,1060.3 L320.0,1060.2 L322.0,1060.1 L324.0,1060.0 L326.0,1059.9 L328.0,1059.8 L330.0,1059.7 L332.0,1059.5 L334.0,1059.4 L336.0,1059.2 L338.0,1059.0 L340.0,1058.9 L342.0,1058.7 L344.0,1058.5 L346.0,1058.4 L348.0,1058.2 L350.0,1058.0 L352.0,1057.9 L354.0,1057.7 L356.0,1057.5 L357.9,1057.4 L358.0,1057.4 L360.0,1057.2 L362.0,1057.1 L364.0,1057.0 L366.0,1056.8 L368.0,1056.7 L370.0,1056.6 L372.0,1056.4 L374.0,1056.3 L376.0,1056.1 L378.0,1056.0 L380.0,1055.9 L382.0,1055.7 L384.0,1055.6 L386.0,1055.4 L388.0,1055.3 L390.0,1055.1 L392.0,1054.9 L394.0,1054.7 L396.0,1054.5 L397.4,1054.4 L398.0,1054.3 L400.0,1054.1 L402.0,1053.9 L404.0,1053.7 L406.0,1053.4 L408.0,1053.2 L410.0,1052.9 L412.0,1052.6 L414.0,1052.3 L416.0,1052.0 L418.0,1051.7 L420.0,1051.4 L422.0,1051.1 L424.0,1050.8 L426.0,1050.4 L428.0,1050.1 L430.0,1049.7 L432.0,1049.4 L434.0,1049.0 L436.0,1048.7 L437.0,1048.5 L438.0,1048.3 L440.0,1048.0 L442.0,1047.6 L444.0,1047.2 L446.0,1046.8 L448.0,1046.4 L450.0,1046.0 L452.0,1045.5 L454.0,1045.1 L456.0,1044.6 L458.0,1044.2 L460.0,1043.7 L462.0,1043.3 L464.0,1042.8 L466.0,1042.3 L468.0,1041.8 L470.0,1041.3 L472.0,1040.8 L474.0,1040.3 L476.0,1039.8 L476.6,1039.6 L478.0,1039.2 L480.0,1038.6 L482.0,1038.0 L484.0,1037.3 L486.0,1036.6 L488.0,1035.9 L490.0,1035.3 L492.0,1034.7 L494.0,1034.1 L496.0,1033.7 L496.4,1033.6 L498.0,1033.3 L500.0,1032.9 L502.0,1032.6 L504.0,1032.3 L506.0,1032.0 L508.0,1031.8 L510.0,1031.5 L512.0,1031.2 L514.0,1031.0 L516.0,1030.7 L516.1,1030.7 L518.0,1030.4 L520.0,1030.2 L522.0,1029.9 L524.0,1029.7 L526.0,1029.5 L528.0,1029.2 L530.0,1029.0 L532.0,1028.8 L534.0,1028.6 L536.0,1028.3 L538.0,1028.1 L540.0,1027.9 L542.0,1027.6 L544.0,1027.4 L546.0,1027.1 L548.0,1026.9 L550.0,1026.6 L552.0,1026.3 L554.0,1026.0 L555.7,1025.7 L556.0,1025.6 L558.0,1025.2 L560.0,1024.8 L562.0,1024.4 L564.0,1024.1 L566.0,1023.8 L568.0,1023.5 L570.0,1023.2 L572.0,1022.9 L574.0,1022.6 L576.0,1022.4 L578.0,1022.1 L580.0,1021.8 L582.0,1021.6 L583.2,1021.4 L584.0,1021.3 L586.0,1021.0 L588.0,1020.8 L590.0,1020.5 L592.0,1020.3 L594.0,1020.1 L596.0,1019.8 L598.0,1019.6 L600.0,1019.3 L602.0,1019.1 L604.0,1018.8 L606.0,1018.5 L606.3,1018.5 L608.0,1018.2 L610.0,1017.9 L612.0,1017.6 L614.0,1017.2 L616.0,1016.9 L618.0,1016.5 L620.0,1016.1 L622.0,1015.8 L624.0,1015.4 L626.0,1015.0 L628.0,1014.7 L629.5,1014.4 L630.0,1014.3 L632.0,1014.0 L634.0,1013.6 L636.0,1013.3 L638.0,1013.0 L640.0,1012.7 L642.0,1012.3 L644.0,1012.0 L646.0,1011.7 L648.0,1011.3 L650.0,1010.9 L652.0,1010.5 L652.7,1010.4 L654.0,1010.1 L656.0,1009.7 L658.0,1009.3 L660.0,1008.8 L662.0,1008.3 L664.0,1007.8 L666.0,1007.3 L668.0,1006.8 L670.0,1006.2 L672.0,1005.7 L674.0,1005.1 L675.8,1004.6 L676.0,1004.5 L678.0,1004.0 L680.0,1003.4 L682.0,1002.7 L684.0,1002.1 L686.0,1001.5 L688.0,1000.8 L690.0,1000.1 L692.0,999.4 L694.0,998.6 L696.0,997.8 L698.0,996.9 L699.0,996.5 L700.0,996.0 L702.0,995.0 L704.0,993.9 L706.0,992.7 L708.0,991.5 L710.0,990.2 L712.0,988.9 L714.0,987.6 L716.0,986.3 L716.4,986.0 L718.0,985.0 L720.0,983.6 L722.0,982.3 L724.0,980.9 L726.0,979.4 L728.0,977.9 L730.0,976.2 L732.0,974.5 L734.0,972.6 L736.0,970.7 L738.0,968.9 L739.5,967.5 L740.0,967.1 L742.0,965.3 L744.0,963.6 L746.0,961.9 L748.0,960.1 L750.0,958.2 L751.1,957.1 L752.0,956.2 L754.0,953.9 L756.0,951.6 L758.0,949.1 L760.0,946.6 L762.0,944.1 L762.7,943.2 L764.0,941.6 L766.0,939.1 L768.0,936.6 L770.0,934.1 L772.0,931.4 L774.0,928.5 L774.3,928.1 L776.0,925.4 L778.0,922.0 L780.0,918.5 L782.0,915.1 L782.9,913.6 L784.0,911.9 L786.0,909.0 L788.0,906.2 L790.0,903.3 L792.0,900.3 L793.7,897.5 L794.0,897.0 L796.0,893.1 L798.0,889.0 L800.0,884.8 L801.8,881.3 L802.0,880.9 L804.0,877.5 L806.0,874.2 L808.0,870.9 L809.9,867.8 L810.0,867.6 L812.0,864.2 L814.0,860.8 L816.0,857.5 L818.0,854.3 L820.0,851.3 L822.0,848.5 L824.0,845.8 L826.0,843.0 L827.4,840.9 L828.0,840.0 L830.0,836.8 L832.0,833.6 L834.0,830.3 L836.0,827.2 L836.8,826.0 L838.0,824.3 L840.0,821.4 L842.0,818.6 L844.0,816.0 L846.0,813.3 L847.6,811.2 L848.0,810.7 L850.0,808.0 L852.0,805.4 L854.0,802.8 L856.0,800.4 L858.0,798.1 L858.4,797.7 L860.0,796.0 L862.0,793.8 L864.0,791.7 L866.0,789.8 L868.0,788.3 L870.0,787.2 L870.5,787.0 L872.0,786.5 L874.0,786.1 L876.0,785.6 L878.0,785.3 L880.0,785.0 L882.0,784.7 L884.0,784.3 L886.0,783.8 L888.0,783.3 L890.0,782.8 L892.0,782.3 L894.0,781.9 L896.0,781.7 L897.5,781.6 L898.0,781.6 L900.0,781.7 L902.0,782.0 L904.0,782.4 L906.0,782.9 L908.0,783.4 L910.0,784.0 L910.9,784.3 L912.0,784.7 L914.0,785.6 L916.0,786.7 L918.0,787.9 L920.0,789.3 L922.0,790.7 L924.0,792.0 L924.4,792.3 L926.0,793.4 L928.0,794.8 L930.0,796.3 L932.0,797.8 L934.0,799.4 L935.2,800.4 L936.0,801.1 L938.0,802.7 L940.0,804.4 L942.0,806.1 L944.0,807.9 L946.0,809.8 L948.0,811.8 L948.7,812.6 L950.0,814.1 L952.0,816.6 L954.0,819.4 L956.0,822.2 L958.0,825.2 L959.5,827.4 L960.0,828.1 L962.0,831.3 L964.0,834.5 L966.0,837.8 L968.0,840.9 L968.9,842.2 L970.0,843.7 L972.0,846.3 L974.0,848.8 L976.0,851.3 L978.0,853.9 L978.3,854.3 L980.0,856.7 L982.0,859.8 L984.0,862.9 L986.0,866.0 L988.0,869.0 L989.1,870.5 L990.0,871.7 L992.0,874.4 L994.0,877.0 L996.0,879.5 L998.0,881.9 L999.9,884.0 L1000.0,884.1 L1002.0,886.1 L1004.0,887.9 L1006.0,889.8 L1006.3,890.1 L1008.0,891.9 L1010.0,894.2 L1012.0,896.6 L1014.0,898.9 L1015.1,900.2 L1016.0,901.2 L1018.0,903.6 L1020.0,906.0 L1022.0,908.3 L1023.9,910.2 L1024.0,910.3 L1026.0,912.1 L1028.0,913.7 L1030.0,915.2 L1032.0,916.7 L1034.0,918.2 L1036.0,919.9 L1036.4,920.2 L1038.0,921.7 L1040.0,923.9 L1042.0,926.1 L1044.0,928.0 L1046.0,929.4 L1046.5,929.6 L1048.0,930.1 L1050.0,930.7 L1052.0,931.2 L1054.0,931.6 L1056.0,932.0 L1058.0,932.5 L1059.0,932.8 L1060.0,933.2 L1062.0,934.1 L1064.0,935.1 L1066.0,936.3 L1068.0,937.4 L1070.0,938.4 L1071.6,939.0 L1072.0,939.1 L1074.0,939.8 L1076.0,940.4 L1078.0,940.9 L1080.0,941.4 L1082.0,941.9 L1084.0,942.3 L1086.0,942.8 L1088.0,943.4 L1090.0,944.0 L1090.4,944.1 L1092.0,944.7 L1094.0,945.5 L1096.0,946.5 L1098.0,947.4 L1100.0,948.2 L1102.0,948.9 L1102.9,949.1 L1104.0,949.3 L1106.0,949.6 L1108.0,949.9 L1110.0,950.1 L1112.0,950.4 L1114.0,950.7 L1115.5,951.0 L1116.0,951.1 L1118.0,951.9 L1120.0,953.0 L1122.0,954.3 L1124.0,955.6 L1126.0,956.8 L1128.0,957.9 L1130.0,958.8 L1132.0,959.7 L1134.0,960.5 L1136.0,961.3 L1138.0,962.0 L1140.0,962.8 L1142.0,963.6 L1144.0,964.3 L1146.0,965.1 L1146.8,965.4 L1148.0,965.9 L1150.0,966.9 L1152.0,968.0 L1154.0,969.0 L1156.0,969.8 L1158.0,970.3 L1159.4,970.4 L1160.0,970.4 L1162.0,970.1 L1164.0,969.4 L1166.0,968.5 L1168.0,967.5 L1170.0,966.4 L1171.9,965.4 L1172.0,965.3 L1174.0,964.3 L1176.0,963.2 L1178.0,961.9 L1180.0,960.5 L1182.0,958.9 L1184.0,957.1 L1184.5,956.6 L1186.0,954.7 L1188.0,951.4 L1190.0,947.6 L1192.0,943.8 L1193.3,941.6 L1194.0,940.5 L1196.0,937.4 L1198.0,934.4 L1200.0,931.5 L1202.0,928.5 L1203.3,926.5 L1204.0,925.4 L1206.0,922.1 L1208.0,918.7 L1210.0,915.5 L1212.0,912.8 L1212.1,912.7 L1214.0,910.6 L1216.0,908.6 L1218.0,906.7 L1220.0,905.2 L1222.0,904.0 L1222.1,903.9 L1224.0,903.0 L1226.0,902.2 L1228.0,901.6 L1230.0,900.9 L1232.0,900.3 L1232.2,900.2 L1234.0,899.5 L1236.0,898.8 L1238.0,898.1 L1240.0,897.4 L1242.0,896.6 L1244.0,895.9 L1246.0,895.2 L1248.0,894.6 L1250.0,893.9 L1252.0,893.3 L1254.0,892.8 L1256.0,892.1 L1256.4,892.0 L1258.0,891.3 L1260.0,890.3 L1262.0,889.2 L1264.0,888.0 L1266.0,886.7 L1268.0,885.5 L1270.0,884.4 L1272.0,883.4 L1272.8,883.0 L1274.0,882.5 L1276.0,881.8 L1278.0,881.1 L1280.0,880.4 L1282.0,879.8 L1284.0,879.2 L1286.0,878.5 L1288.0,877.8 L1289.2,877.3 L1290.0,877.0 L1292.0,876.1 L1294.0,875.1 L1296.0,874.0 L1298.0,873.0 L1300.0,871.9 L1302.0,870.8 L1304.0,869.8 L1305.6,869.1 L1306.0,868.9 L1308.0,868.1 L1310.0,867.2 L1312.0,866.5 L1314.0,865.7 L1316.0,864.9 L1318.0,864.1 L1320.0,863.3 L1322.0,862.5 L1324.0,861.6 L1326.0,860.7 L1328.0,859.8 L1330.0,858.9 L1332.0,858.0 L1334.0,857.1 L1336.0,856.2 L1338.0,855.3 L1338.5,855.1 L1340.0,854.5 L1342.0,853.7 L1344.0,852.9 L1346.0,852.1 L1348.0,851.3 L1350.0,850.5 L1352.0,849.7 L1354.0,849.0 L1354.9,848.6 L1356.0,848.2 L1358.0,847.3 L1360.0,846.4 L1362.0,845.5 L1364.0,844.6 L1366.0,843.8 L1368.0,843.0 L1370.0,842.4 L1371.3,842.0 L1372.0,841.8 L1374.0,841.4 L1376.0,841.0 L1378.0,840.7 L1380.0,840.3 L1382.0,840.0 L1384.0,839.6 L1386.0,839.2 L1387.7,838.7 L1388.0,838.6 L1390.0,837.6 L1392.0,836.3 L1394.0,835.1 L1395.9,834.6 L1396.0,834.6 L1398.0,834.5 L1400.0,834.4 L1402.0,834.3 L1404.0,834.2 L1406.0,834.1 L1408.0,834.1 L1410.0,834.0 L1412.0,834.0 L1414.0,833.9 L1416.0,833.9 L1418.0,833.9 L1420.0,833.8 L1420.5,833.8 L1422.0,833.8 L1424.0,833.7 L1426.0,833.6 L1428.0,833.6 L1430.0,833.5 L1432.0,833.4 L1434.0,833.4 L1436.0,833.3 L1438.0,833.3 L1440.0,833.2 L1442.0,833.1 L1444.0,833.1 L1446.0,833.1 L1448.0,833.0 L1450.0,833.0 L1452.0,833.0 L1453.3,833.0 L1454.0,833.0 L1456.0,833.0 L1458.0,833.1 L1460.0,833.1 L1462.0,833.2 L1464.0,833.3 L1466.0,833.4 L1468.0,833.5 L1470.0,833.6 L1472.0,833.7 L1474.0,833.8 L1476.0,833.9 L1478.0,834.0 L1480.0,834.1 L1482.0,834.2 L1484.0,834.3 L1486.0,834.3 L1486.1,834.3 L1488.0,834.3 L1490.0,834.3 L1492.0,834.4 L1494.0,834.4 L1496.0,834.4 L1498.0,834.4 L1500.0,834.4 L1502.0,834.4 L1504.0,834.4 L1506.0,834.4 L1508.0,834.4 L1510.0,834.5 L1512.0,834.5 L1514.0,834.5 L1516.0,834.5 L1518.0,834.6 L1519.0,834.6 L1520.0,834.8 L1522.0,835.7 L1524.0,837.0 L1526.0,838.2 L1527.2,838.7 L1528.0,838.9 L1530.0,839.4 L1532.0,839.8 L1534.0,840.1 L1536.0,840.4 L1538.0,840.8 L1540.0,841.1 L1542.0,841.6 L1543.6,842.0 L1544.0,842.1 L1546.0,842.9 L1548.0,843.9 L1550.0,845.0 L1551.8,846.1 L1552.0,846.2 L1554.0,848.0 L1556.0,850.0 L1558.0,852.0 L1560.0,853.5 L1562.0,854.5 L1564.0,855.3 L1566.0,856.1 L1568.0,856.8 L1570.0,857.4 L1572.0,857.9 L1574.0,858.4 L1576.0,858.8 L1576.4,858.9 L1578.0,859.2 L1580.0,859.6 L1582.0,859.9 L1584.0,860.2 L1586.0,860.5 L1588.0,860.8 L1590.0,861.1 L1592.0,861.4 L1594.0,861.6 L1596.0,861.9 L1598.0,862.1 L1600.0,862.3 L1602.0,862.5 L1604.0,862.6 L1606.0,862.8 L1608.0,862.9 L1609.2,863.0 L1610.0,863.0 L1612.0,863.2 L1614.0,863.3 L1616.0,863.3 L1618.0,863.4 L1620.0,863.5 L1622.0,863.6 L1624.0,863.6 L1626.0,863.7 L1628.0,863.7 L1630.0,863.8 L1632.0,863.9 L1634.0,863.9 L1636.0,864.0 L1638.0,864.1 L1640.0,864.2 L1642.0,864.3 L1644.0,864.4 L1646.0,864.5 L1648.0,864.7 L1650.0,864.9 L1652.0,865.0 L1654.0,865.2 L1656.0,865.4 L1658.0,865.6 L1660.0,865.8 L1662.0,866.0 L1664.0,866.2 L1666.0,866.3 L1668.0,866.5 L1670.0,866.7 L1672.0,866.9 L1674.0,867.0 L1674.9,867.1 L1676.0,867.2 L1678.0,867.3 L1680.0,867.4 L1682.0,867.5 L1684.0,867.6 L1686.0,867.8 L1688.0,867.9 L1690.0,868.0 L1692.0,868.1 L1694.0,868.2 L1696.0,868.3 L1698.0,868.4 L1700.0,868.5 L1702.0,868.7 L1704.0,868.8 L1706.0,869.0 L1707.7,869.2 L1708.0,869.2 L1710.0,869.5 L1712.0,869.9 L1714.0,870.4 L1716.0,870.9 L1718.0,871.4 L1720.0,871.9 L1722.0,872.4 L1724.0,872.8 L1724.1,872.8 L1726.0,873.1 L1728.0,873.4 L1730.0,873.7 L1732.0,874.0 L1734.0,874.2 L1736.0,874.5 L1738.0,874.8 L1740.0,875.2 L1740.5,875.3 L1742.0,875.6 L1744.0,876.2 L1746.0,876.8 L1748.0,877.4 L1750.0,878.1 L1752.0,878.8 L1754.0,879.4 L1756.0,880.0 L1756.9,880.2 L1758.0,880.5 L1760.0,880.9 L1762.0,881.3 L1764.0,881.7 L1766.0,882.1 L1768.0,882.5 L1770.0,882.9 L1772.0,883.2 L1773.3,883.5 L1774.0,883.6 L1776.0,884.1 L1778.0,884.5 L1780.0,884.9 L1782.0,885.3 L1784.0,885.7 L1786.0,886.1 L1788.0,886.5 L1789.7,886.8 L1790.0,886.9 L1792.0,887.2 L1794.0,887.4 L1796.0,887.6 L1798.0,887.9 L1800.0,888.1 L1802.0,888.4 L1804.0,888.8 L1806.0,889.2 L1806.1,889.2 L1808.0,889.9 L1810.0,890.9 L1812.0,892.1 L1814.0,893.3 L1816.0,894.2 L1818.0,894.9 L1820.0,895.5 L1822.0,896.0 L1824.0,896.5 L1826.0,896.9 L1828.0,897.4 L1830.0,897.8 L1832.0,898.2 L1834.0,898.7 L1836.0,899.1 L1838.0,899.6 L1839.0,899.9 L1840.0,900.2 L1842.0,900.7 L1844.0,901.3 L1846.0,901.9 L1848.0,902.6 L1850.0,903.2 L1852.0,903.8 L1854.0,904.4 L1856.0,905.1 L1858.0,905.7 L1860.0,906.3 L1862.0,906.9 L1863.6,907.3 L1864.0,907.4 L1866.0,907.9 L1868.0,908.5 L1870.0,909.0 L1872.0,909.5 L1874.0,909.9 L1876.0,910.4 L1878.0,910.9 L1880.0,911.4 L1882.0,911.8 L1884.0,912.3 L1886.0,912.8 L1888.0,913.3 L1890.0,913.8 L1892.0,914.3 L1894.0,914.8 L1896.0,915.4 L1896.4,915.5 L1898.0,916.0 L1900.0,916.5 L1902.0,917.2 L1904.0,917.8 L1906.0,918.4 L1908.0,919.1 L1910.0,919.8 L1911.2,920.2 L1912.0,920.5 L1914.0,921.3 L1916.0,922.1 L1918.0,923.0 L1920.0,923.9 L1922.0,924.8 L1924.0,925.8 L1926.0,926.7 L1928.0,927.5 L1930.0,928.3 L1932.0,929.0 L1932.5,929.2 L1934.0,929.7 L1936.0,930.3 L1938.0,930.9 L1940.0,931.4 L1942.0,931.9 L1944.0,932.4 L1946.0,932.9 L1948.0,933.4 L1950.0,934.0 L1952.0,934.5 L1953.7,935.0 L1954.0,935.1 L1956.0,935.7 L1958.0,936.3 L1960.0,936.9 L1962.0,937.5 L1964.0,938.2 L1966.0,938.8 L1968.0,939.5 L1970.0,940.2 L1972.0,940.9 L1974.0,941.6 L1974.9,941.9 L1976.0,942.3 L1978.0,943.1 L1980.0,943.9 L1982.0,944.7 L1984.0,945.5 L1986.0,946.3 L1988.0,947.2 L1990.0,948.1 L1992.0,949.0 L1994.0,950.0 L1996.0,950.9 L1996.2,951.0 L1998.0,951.9 L2000.0,952.9 L2002.0,954.0 L2004.0,955.1 L2006.0,956.2 L2008.0,957.3 L2010.0,958.4 L2012.0,959.6 L2014.0,960.7 L2016.0,961.8 L2017.4,962.6 L2018.0,962.9 L2020.0,964.0 L2022.0,965.1 L2024.0,966.3 L2026.0,967.4 L2028.0,968.5 L2030.0,969.6 L2032.0,970.7 L2034.0,971.8 L2036.0,972.9 L2038.0,973.9 L2038.7,974.3 L2040.0,975.0 L2042.0,976.0 L2044.0,977.0 L2046.0,977.9 L2048.0,978.9 L2050.0,979.9 L2052.0,980.8 L2054.0,981.8 L2056.0,982.8 L2058.0,983.9 L2059.9,984.9 L2060.0,985.0 L2062.0,986.1 L2064.0,987.2 L2066.0,988.4 L2068.0,989.6 L2070.0,990.9 L2072.0,992.1 L2074.0,993.3 L2076.0,994.6 L2078.0,995.8 L2080.0,997.0 L2081.1,997.7 L2082.0,998.2 L2084.0,999.3 L2086.0,1000.4 L2088.0,1001.4 L2090.0,1002.4 L2092.0,1003.4 L2094.0,1004.5 L2096.0,1005.7 L2098.0,1007.0 L2100.0,1008.4 L2102.0,1010.1 L2102.4,1010.4 L2104.0,1012.4 L2104.3,1012.7 L2106.0,1014.2 L2108.0,1015.9 L2110.0,1017.4 L2112.0,1018.8 L2114.0,1020.2 L2116.0,1021.4 L2118.0,1022.6 L2120.0,1023.8 L2122.0,1024.9 L2124.0,1026.0 L2126.0,1027.1 L2128.0,1028.3 L2130.0,1029.4 L2131.4,1030.3 L2132.0,1030.7 L2134.0,1031.9 L2136.0,1033.2 L2138.0,1034.4 L2140.0,1035.7 L2142.0,1036.9 L2144.0,1038.1 L2146.0,1039.3 L2148.0,1040.5 L2150.0,1041.7 L2152.0,1042.9 L2154.0,1044.0 L2156.0,1045.2 L2158.0,1046.3 L2158.4,1046.5 L2160.0,1047.4 L2162.0,1048.4 L2164.0,1049.5 L2166.0,1050.5 L2168.0,1051.5 L2170.0,1052.5 L2172.0,1053.5 L2174.0,1054.4 L2176.0,1055.4 L2178.0,1056.4 L2180.0,1057.3 L2182.0,1058.3 L2184.0,1059.3 L2185.4,1060.0 L2186.0,1060.3 L2188.0,1061.3 L2190.0,1062.3 L2192.0,1063.3 L2194.0,1064.3 L2196.0,1065.4 L2198.0,1066.4 L2200.0,1067.4 L2202.0,1068.4 L2204.0,1069.4 L2206.0,1070.4 L2208.0,1071.4 L2210.0,1072.4 L2212.0,1073.3 L2212.4,1073.5 L2214.0,1074.3 L2216.0,1075.2 L2218.0,1076.2 L2220.0,1077.1 L2222.0,1078.0 L2224.0,1079.0 L2226.0,1079.9 L2228.0,1080.8 L2230.0,1081.7 L2232.0,1082.6 L2234.0,1083.4 L2236.0,1084.3 L2238.0,1085.1 L2239.5,1085.7 L2240.0,1085.9 L2242.0,1086.7 L2244.0,1087.4 L2246.0,1088.1 L2248.0,1088.8 L2250.0,1089.5 L2252.0,1090.2 L2254.0,1090.9 L2256.0,1091.5 L2258.0,1092.2 L2260.0,1092.9 L2262.0,1093.6 L2264.0,1094.2 L2266.0,1094.9 L2266.5,1095.1 L2268.0,1095.6 L2270.0,1096.4 L2272.0,1097.1 L2274.0,1097.8 L2276.0,1098.6 L2278.0,1099.3 L2280.0,1100.1 L2282.0,1100.8 L2284.0,1101.5 L2286.0,1102.2 L2288.0,1102.9 L2290.0,1103.5 L2292.0,1104.2 L2293.5,1104.6 L2294.0,1104.7 L2296.0,1105.3 L2298.0,1105.7 L2300.0,1106.1 L2302.0,1106.5 L2304.0,1106.8 L2306.0,1107.2 L2308.0,1107.7 L2310.0,1108.2 L2312.0,1108.8 L2314.0,1109.5 L2315.1,1110.0 L2316.0,1110.6 L2318.0,1113.0 L2320.0,1115.6 L2322.0,1116.8 L2324.0,1116.8 L2326.0,1116.8 L2328.0,1116.8" fill="none" stroke="#ff0000" stroke-width="8" stroke-linejoin="round" stroke-linecap="butt"/>
<path d="M158.0,1221.6 L160.0,1221.6 L162.0,1221.6 L164.0,1221.6 L166.0,1221.6 L168.0,1221.6 L170.0,1221.6 L172.0,1221.6 L174.0,1221.6 L176.0,1221.7 L178.0,1221.7 L180.0,1221.7 L182.0,1221.7 L184.0,1221.8 L186.0,1221.8 L188.0,1221.9 L190.0,1221.9 L192.0,1221.9 L194.0,1222.0 L196.0,1222.0 L198.0,1222.1 L199.1,1222.1 L200.0,1222.1 L202.0,1222.2 L204.0,1222.3 L206.0,1222.5 L208.0,1222.7 L210.0,1222.9 L212.0,1223.1 L214.0,1223.3 L216.0,1223.6 L218.0,1223.8 L220.0,1224.1 L222.0,1224.3 L224.0,1224.6 L226.0,1224.8 L228.0,1225.1 L230.0,1225.3 L232.0,1225.5 L234.0,1225.7 L236.0,1225.9 L238.0,1226.0 L238.2,1226.0 L240.0,1226.1 L242.0,1226.2 L244.0,1226.3 L246.0,1226.4 L248.0,1226.5 L250.0,1226.6 L252.0,1226.7 L254.0,1226.8 L256.0,1226.9 L258.0,1226.9 L260.0,1227.0 L262.0,1227.1 L264.0,1227.2 L266.0,1227.2 L268.0,1227.3 L270.0,1227.4 L272.0,1227.4 L274.0,1227.5 L276.0,1227.6 L278.0,1227.6 L280.0,1227.7 L282.0,1227.7 L284.0,1227.8 L286.0,1227.8 L288.0,1227.9 L290.0,1227.9 L290.3,1227.9 L292.0,1227.9 L294.0,1228.0 L296.0,1228.0 L298.0,1228.1 L300.0,1228.1 L302.0,1228.1 L304.0,1228.2 L306.0,1228.2 L308.0,1228.2 L310.0,1228.3 L312.0,1228.3 L314.0,1228.3 L316.0,1228.4 L318.0,1228.4 L320.0,1228.4 L322.0,1228.5 L324.0,1228.5 L326.0,1228.5 L328.0,1228.5 L330.0,1228.5 L332.0,1228.6 L334.0,1228.6 L336.0,1228.6 L338.0,1228.6 L340.0,1228.6 L342.0,1228.6 L342.4,1228.6 L344.0,1228.6 L346.0,1228.6 L348.0,1228.5 L350.0,1228.5 L352.0,1228.5 L354.0,1228.4 L356.0,1228.3 L358.0,1228.2 L360.0,1228.1 L362.0,1228.1 L364.0,1227.9 L366.0,1227.8 L368.0,1227.7 L370.0,1227.6 L372.0,1227.5 L374.0,1227.3 L376.0,1227.2 L378.0,1227.1 L380.0,1226.9 L382.0,1226.8 L384.0,1226.7 L386.0,1226.5 L388.0,1226.4 L390.0,1226.3 L392.0,1226.2 L394.0,1226.0 L394.6,1226.0 L396.0,1225.9 L398.0,1225.8 L400.0,1225.7 L402.0,1225.6 L404.0,1225.4 L406.0,1225.3 L408.0,1225.2 L410.0,1225.1 L412.0,1225.0 L414.0,1224.8 L416.0,1224.7 L418.0,1224.6 L420.0,1224.5 L422.0,1224.3 L424.0,1224.2 L426.0,1224.0 L428.0,1223.9 L430.0,1223.7 L432.0,1223.5 L434.0,1223.4 L436.0,1223.2 L438.0,1223.0 L440.0,1222.8 L442.0,1222.6 L444.0,1222.4 L446.0,1222.2 L446.7,1222.1 L448.0,1221.9 L450.0,1221.6 L452.0,1221.3 L454.0,1220.9 L456.0,1220.5 L458.0,1220.0 L460.0,1219.5 L462.0,1219.1 L464.0,1218.6 L466.0,1218.2 L468.0,1217.7 L470.0,1217.4 L472.0,1217.0 L472.7,1216.9 L474.0,1216.7 L476.0,1216.4 L478.0,1216.2 L480.0,1216.0 L482.0,1215.8 L484.0,1215.6 L486.0,1215.3 L488.0,1215.1 L490.0,1214.9 L492.0,1214.7 L494.0,1214.5 L496.0,1214.2 L498.0,1213.9 L498.8,1213.8 L500.0,1213.6 L502.0,1213.2 L504.0,1212.8 L506.0,1212.3 L508.0,1211.8 L510.0,1211.2 L512.0,1210.7 L514.0,1210.1 L516.0,1209.6 L518.0,1209.1 L520.0,1208.7 L522.0,1208.3 L524.0,1207.9 L524.9,1207.8 L526.0,1207.7 L528.0,1207.4 L530.0,1207.2 L532.0,1207.0 L534.0,1206.9 L536.0,1206.7 L538.0,1206.6 L540.0,1206.5 L542.0,1206.4 L544.0,1206.3 L546.0,1206.2 L548.0,1206.1 L550.0,1206.0 L552.0,1205.9 L554.0,1205.8 L556.0,1205.7 L558.0,1205.6 L560.0,1205.5 L562.0,1205.3 L564.0,1205.2 L566.0,1205.0 L568.0,1204.7 L570.0,1204.5 L572.0,1204.2 L574.0,1203.9 L576.0,1203.6 L577.0,1203.4 L578.0,1203.0 L580.0,1201.2 L582.0,1199.0 L584.0,1197.6 L584.8,1197.4 L586.0,1197.4 L588.0,1197.5 L590.0,1197.6 L592.0,1197.8 L594.0,1198.0 L596.0,1198.2 L598.0,1198.5 L600.0,1198.7 L602.0,1198.9 L604.0,1199.0 L606.0,1199.2 L608.0,1199.2 L608.3,1199.2 L610.0,1198.9 L612.0,1197.8 L614.0,1196.4 L616.0,1195.1 L618.0,1194.2 L618.7,1194.0 L620.0,1193.8 L622.0,1193.6 L624.0,1193.3 L626.0,1193.2 L628.0,1193.0 L630.0,1192.8 L632.0,1192.7 L634.0,1192.6 L636.0,1192.5 L638.0,1192.4 L640.0,1192.3 L642.0,1192.2 L644.0,1192.1 L646.0,1192.0 L648.0,1191.9 L650.0,1191.8 L652.0,1191.7 L654.0,1191.5 L655.2,1191.4 L656.0,1191.3 L658.0,1191.1 L660.0,1190.9 L662.0,1190.6 L664.0,1190.3 L666.0,1190.1 L668.0,1189.8 L670.0,1189.5 L672.0,1189.3 L674.0,1189.0 L676.0,1188.8 L678.0,1188.6 L680.0,1188.5 L682.0,1188.4 L684.0,1188.3 L686.0,1188.3 L688.0,1188.2 L690.0,1188.1 L692.0,1187.6 L694.0,1186.7 L696.0,1185.6 L698.0,1184.5 L700.0,1183.7 L702.0,1183.1 L704.0,1182.6 L706.0,1182.2 L708.0,1181.9 L708.8,1181.9 L710.0,1182.3 L712.0,1183.1 L714.0,1176.5 L715.1,1173.1 L716.0,1172.2 L718.0,1170.6 L720.0,1169.4 L722.0,1168.7 L723.9,1168.1 L724.0,1168.1 L726.0,1167.6 L728.0,1167.2 L730.0,1166.9 L732.0,1166.7 L734.0,1166.5 L736.0,1166.2 L738.0,1165.9 L740.0,1165.5 L740.2,1165.5 L742.0,1165.1 L744.0,1164.6 L746.0,1164.1 L748.0,1163.5 L750.0,1162.8 L752.0,1162.1 L752.7,1161.8 L754.0,1161.2 L756.0,1160.0 L758.0,1158.6 L760.0,1157.1 L762.0,1155.5 L764.0,1153.9 L765.3,1153.0 L766.0,1152.5 L768.0,1151.2 L770.0,1149.8 L772.0,1148.5 L774.0,1147.1 L776.0,1145.6 L777.8,1144.2 L778.0,1144.0 L780.0,1142.3 L782.0,1140.4 L784.0,1138.3 L786.0,1136.3 L788.0,1134.2 L790.0,1132.1 L790.4,1131.7 L792.0,1130.3 L794.0,1128.7 L796.0,1126.8 L797.9,1124.1 L798.0,1123.9 L800.0,1116.3 L800.4,1115.4 L802.0,1113.6 L804.0,1112.1 L806.0,1111.0 L808.0,1109.9 L809.2,1109.1 L810.0,1108.4 L812.0,1106.7 L814.0,1104.9 L816.0,1103.0 L818.0,1101.1 L820.0,1099.2 L821.7,1097.8 L822.0,1097.6 L824.0,1096.2 L826.0,1095.1 L828.0,1093.9 L830.0,1092.3 L831.8,1090.3 L832.0,1090.0 L834.0,1084.1 L835.5,1080.2 L836.0,1079.6 L838.0,1077.4 L840.0,1075.8 L842.0,1074.5 L844.0,1073.3 L846.0,1072.0 L846.8,1071.4 L848.0,1070.5 L850.0,1068.9 L852.0,1067.3 L854.0,1065.8 L856.0,1064.2 L858.0,1062.6 L859.4,1061.4 L860.0,1060.9 L862.0,1059.1 L864.0,1057.1 L866.0,1055.3 L868.0,1053.6 L869.4,1052.6 L870.0,1052.2 L872.0,1051.1 L874.0,1050.2 L876.0,1049.3 L878.0,1048.4 L880.0,1047.5 L882.0,1046.3 L884.0,1044.5 L886.0,1042.3 L888.0,1040.6 L889.5,1040.1 L890.0,1040.1 L892.0,1040.5 L894.0,1041.3 L896.0,1042.2 L897.0,1042.6 L898.0,1043.0 L900.0,1043.8 L902.0,1044.6 L903.3,1045.1 L904.0,1045.3 L906.0,1045.8 L908.0,1046.3 L910.0,1046.7 L912.0,1047.1 L914.0,1047.5 L916.0,1048.1 L918.0,1048.7 L918.4,1048.9 L920.0,1049.7 L922.0,1051.0 L924.0,1052.6 L926.0,1054.4 L928.0,1056.1 L928.4,1056.4 L930.0,1057.6 L932.0,1059.0 L934.0,1060.7 L935.9,1062.7 L936.0,1062.8 L938.0,1066.6 L940.0,1071.1 L940.9,1072.7 L942.0,1074.2 L944.0,1076.6 L946.0,1078.7 L948.0,1080.7 L950.0,1082.7 L952.0,1084.8 L954.0,1086.9 L954.5,1087.4 L956.0,1088.9 L958.0,1090.8 L960.0,1092.7 L962.0,1094.6 L964.0,1096.7 L966.0,1098.9 L966.1,1099.0 L968.0,1101.4 L970.0,1104.2 L972.0,1107.2 L974.0,1110.2 L976.0,1113.1 L976.2,1113.4 L978.0,1116.0 L980.0,1119.1 L982.0,1122.1 L984.0,1124.9 L986.0,1127.5 L986.3,1127.9 L988.0,1129.8 L990.0,1131.9 L992.0,1133.9 L994.0,1135.8 L996.0,1137.6 L997.9,1139.5 L998.0,1139.6 L1000.0,1141.6 L1002.0,1143.6 L1004.0,1145.6 L1006.0,1147.6 L1008.0,1149.6 L1009.5,1151.1 L1010.0,1151.6 L1012.0,1153.8 L1014.0,1156.1 L1016.0,1158.4 L1018.0,1160.4 L1020.0,1162.0 L1021.1,1162.7 L1022.0,1163.1 L1024.0,1164.1 L1026.0,1164.9 L1028.0,1165.7 L1030.0,1166.4 L1032.0,1167.0 L1034.0,1167.6 L1036.0,1168.1 L1038.0,1168.5 L1040.0,1168.9 L1041.3,1169.2 L1042.0,1169.3 L1044.0,1169.7 L1046.0,1170.1 L1048.0,1170.5 L1050.0,1170.8 L1052.0,1171.1 L1054.0,1171.4 L1056.0,1171.7 L1058.0,1171.9 L1060.0,1172.0 L1062.0,1172.1 L1063.1,1172.1 L1064.0,1172.1 L1066.0,1172.1 L1068.0,1172.0 L1070.0,1171.9 L1072.0,1171.7 L1074.0,1171.6 L1076.0,1171.4 L1077.5,1171.3 L1078.0,1171.3 L1080.0,1171.0 L1082.0,1170.6 L1084.0,1170.1 L1086.0,1169.6 L1088.0,1169.1 L1090.0,1168.5 L1092.0,1167.9 L1094.0,1167.4 L1096.0,1166.9 L1098.0,1166.5 L1099.3,1166.3 L1100.0,1166.2 L1102.0,1166.0 L1104.0,1165.7 L1106.0,1165.6 L1108.0,1165.4 L1110.0,1165.2 L1112.0,1165.1 L1114.0,1164.9 L1116.0,1164.7 L1118.0,1164.5 L1120.0,1164.2 L1121.0,1164.1 L1122.0,1163.9 L1124.0,1163.6 L1126.0,1163.2 L1128.0,1162.7 L1130.0,1162.2 L1132.0,1161.7 L1134.0,1161.0 L1135.5,1160.5 L1136.0,1160.3 L1138.0,1159.4 L1140.0,1158.2 L1142.0,1156.8 L1144.0,1155.3 L1146.0,1153.8 L1148.0,1152.4 L1149.9,1151.1 L1150.0,1151.0 L1152.0,1149.8 L1154.0,1148.7 L1156.0,1147.5 L1158.0,1146.4 L1160.0,1145.2 L1162.0,1144.0 L1164.0,1142.7 L1164.4,1142.4 L1166.0,1141.2 L1168.0,1139.5 L1170.0,1137.7 L1172.0,1135.9 L1174.0,1134.2 L1176.0,1132.6 L1178.0,1131.3 L1178.9,1130.8 L1180.0,1130.3 L1182.0,1129.4 L1184.0,1128.7 L1186.0,1128.0 L1188.0,1127.3 L1190.0,1126.7 L1192.0,1126.2 L1194.0,1125.6 L1196.0,1125.0 L1198.0,1124.4 L1200.0,1123.8 L1200.6,1123.6 L1202.0,1123.1 L1204.0,1122.4 L1206.0,1121.8 L1208.0,1121.1 L1210.0,1120.4 L1212.0,1119.7 L1214.0,1119.0 L1216.0,1118.3 L1218.0,1117.7 L1220.0,1117.0 L1222.0,1116.4 L1222.3,1116.3 L1224.0,1115.8 L1226.0,1115.3 L1228.0,1114.8 L1230.0,1114.3 L1232.0,1113.8 L1234.0,1113.3 L1236.0,1112.7 L1238.0,1112.1 L1240.0,1111.3 L1242.0,1110.2 L1244.0,1108.7 L1246.0,1107.5 L1246.4,1107.3 L1248.0,1106.7 L1250.0,1106.0 L1252.0,1105.4 L1254.0,1104.9 L1256.0,1104.4 L1258.0,1103.9 L1260.0,1103.3 L1262.0,1102.7 L1262.8,1102.4 L1264.0,1101.9 L1266.0,1101.1 L1268.0,1100.1 L1270.0,1099.1 L1272.0,1098.1 L1274.0,1097.0 L1276.0,1095.9 L1278.0,1094.8 L1279.2,1094.2 L1280.0,1093.8 L1282.0,1092.7 L1284.0,1091.5 L1286.0,1090.4 L1288.0,1089.2 L1290.0,1088.1 L1292.0,1087.0 L1294.0,1085.9 L1295.6,1085.1 L1296.0,1084.9 L1298.0,1084.0 L1300.0,1083.1 L1302.0,1082.3 L1304.0,1081.4 L1306.0,1080.6 L1308.0,1079.8 L1310.0,1079.0 L1312.0,1078.1 L1314.0,1077.2 L1316.0,1076.2 L1318.0,1075.3 L1320.0,1074.3 L1322.0,1073.3 L1324.0,1072.4 L1326.0,1071.5 L1328.0,1070.6 L1328.5,1070.4 L1330.0,1069.8 L1332.0,1069.1 L1334.0,1068.3 L1336.0,1067.6 L1338.0,1067.0 L1340.0,1066.3 L1342.0,1065.6 L1344.0,1064.9 L1344.9,1064.6 L1346.0,1064.2 L1348.0,1063.4 L1350.0,1062.6 L1352.0,1061.8 L1354.0,1061.0 L1356.0,1060.3 L1358.0,1059.6 L1360.0,1059.1 L1361.3,1058.9 L1362.0,1058.8 L1364.0,1058.5 L1366.0,1058.3 L1368.0,1058.1 L1370.0,1057.9 L1372.0,1057.7 L1374.0,1057.5 L1376.0,1057.4 L1377.7,1057.2 L1378.0,1057.2 L1380.0,1056.9 L1382.0,1056.7 L1384.0,1056.4 L1386.0,1056.2 L1388.0,1056.0 L1390.0,1055.8 L1392.0,1055.6 L1394.0,1055.6 L1394.1,1055.6 L1396.0,1055.7 L1398.0,1056.0 L1400.0,1056.5 L1402.0,1057.1 L1404.0,1057.8 L1406.0,1058.4 L1408.0,1059.1 L1410.0,1059.6 L1410.5,1059.7 L1412.0,1060.0 L1414.0,1060.3 L1416.0,1060.6 L1418.0,1060.9 L1420.0,1061.3 L1422.0,1061.8 L1423.6,1062.2 L1424.0,1062.4 L1426.0,1063.7 L1428.0,1065.3 L1430.0,1066.3 L1430.2,1066.3 L1432.0,1066.5 L1434.0,1066.6 L1436.0,1066.7 L1438.0,1066.8 L1440.0,1066.9 L1442.0,1067.0 L1443.3,1067.1 L1444.0,1067.2 L1446.0,1067.5 L1448.0,1067.9 L1450.0,1068.3 L1452.0,1068.8 L1454.0,1069.3 L1456.0,1069.7 L1458.0,1070.1 L1459.7,1070.4 L1460.0,1070.4 L1462.0,1070.7 L1464.0,1070.9 L1466.0,1071.1 L1468.0,1071.2 L1470.0,1071.4 L1472.0,1071.6 L1474.0,1071.8 L1476.0,1072.0 L1476.1,1072.0 L1478.0,1072.2 L1480.0,1072.5 L1482.0,1072.7 L1484.0,1073.0 L1486.0,1073.3 L1488.0,1073.7 L1490.0,1074.0 L1492.0,1074.4 L1492.6,1074.5 L1494.0,1074.8 L1496.0,1075.3 L1498.0,1075.9 L1500.0,1076.6 L1502.0,1077.2 L1504.0,1077.9 L1506.0,1078.6 L1508.0,1079.1 L1509.0,1079.4 L1510.0,1079.6 L1512.0,1080.1 L1514.0,1080.6 L1516.0,1081.0 L1518.0,1081.4 L1520.0,1081.8 L1522.0,1082.2 L1524.0,1082.7 L1525.4,1083.0 L1526.0,1083.1 L1528.0,1083.7 L1530.0,1084.2 L1532.0,1084.7 L1534.0,1085.3 L1536.0,1085.8 L1538.0,1086.4 L1540.0,1087.0 L1541.8,1087.6 L1542.0,1087.7 L1544.0,1088.5 L1546.0,1089.4 L1548.0,1090.4 L1550.0,1091.3 L1552.0,1092.0 L1554.0,1092.5 L1554.9,1092.5 L1556.0,1092.5 L1558.0,1092.4 L1560.0,1092.3 L1562.0,1092.1 L1564.0,1092.0 L1566.0,1091.8 L1568.0,1091.7 L1570.0,1091.7 L1572.0,1091.7 L1574.0,1091.8 L1576.0,1091.9 L1578.0,1092.0 L1580.0,1092.1 L1582.0,1092.3 L1584.0,1092.4 L1586.0,1092.6 L1588.0,1092.7 L1590.0,1092.8 L1592.0,1092.8 L1592.8,1092.8 L1594.0,1092.8 L1596.0,1092.8 L1598.0,1092.8 L1600.0,1092.7 L1602.0,1092.7 L1604.0,1092.6 L1606.0,1092.5 L1608.0,1092.5 L1610.0,1092.4 L1612.0,1092.3 L1614.0,1092.2 L1616.0,1092.2 L1618.0,1092.1 L1620.0,1092.0 L1622.0,1091.9 L1624.0,1091.9 L1625.6,1091.8 L1626.0,1091.8 L1628.0,1091.7 L1630.0,1091.7 L1632.0,1091.6 L1634.0,1091.5 L1636.0,1091.4 L1638.0,1091.4 L1640.0,1091.3 L1642.0,1091.2 L1644.0,1091.1 L1646.0,1091.1 L1648.0,1091.0 L1650.0,1090.9 L1652.0,1090.9 L1654.0,1090.8 L1656.0,1090.8 L1658.0,1090.7 L1658.5,1090.7 L1660.0,1090.7 L1662.0,1090.6 L1664.0,1090.6 L1666.0,1090.5 L1668.0,1090.5 L1670.0,1090.5 L1672.0,1090.4 L1674.0,1090.4 L1676.0,1090.3 L1678.0,1090.3 L1680.0,1090.3 L1682.0,1090.3 L1684.0,1090.2 L1686.0,1090.2 L1688.0,1090.2 L1690.0,1090.2 L1691.3,1090.2 L1692.0,1090.2 L1694.0,1090.2 L1696.0,1090.3 L1698.0,1090.3 L1700.0,1090.4 L1702.0,1090.5 L1704.0,1090.6 L1706.0,1090.8 L1708.0,1090.9 L1710.0,1091.1 L1712.0,1091.2 L1714.0,1091.4 L1716.0,1091.6 L1718.0,1091.8 L1720.0,1091.9 L1722.0,1092.1 L1724.0,1092.3 L1724.1,1092.3 L1726.0,1092.5 L1728.0,1092.7 L1730.0,1092.9 L1732.0,1093.1 L1734.0,1093.4 L1736.0,1093.6 L1738.0,1093.9 L1740.0,1094.2 L1742.0,1094.4 L1744.0,1094.7 L1746.0,1095.0 L1748.0,1095.3 L1750.0,1095.5 L1752.0,1095.8 L1754.0,1096.1 L1756.0,1096.3 L1756.9,1096.4 L1758.0,1096.5 L1760.0,1096.7 L1762.0,1096.9 L1764.0,1097.1 L1766.0,1097.3 L1768.0,1097.5 L1770.0,1097.6 L1772.0,1097.8 L1774.0,1098.0 L1776.0,1098.2 L1778.0,1098.4 L1780.0,1098.6 L1782.0,1098.8 L1784.0,1099.0 L1786.0,1099.2 L1788.0,1099.5 L1789.7,1099.7 L1790.0,1099.7 L1792.0,1100.0 L1794.0,1100.4 L1796.0,1100.8 L1798.0,1101.2 L1800.0,1101.6 L1802.0,1102.1 L1804.0,1102.6 L1806.0,1103.1 L1808.0,1103.6 L1810.0,1104.1 L1812.0,1104.6 L1814.0,1105.1 L1816.0,1105.6 L1818.0,1106.1 L1820.0,1106.5 L1822.0,1107.0 L1822.6,1107.1 L1824.0,1107.4 L1826.0,1107.8 L1828.0,1108.2 L1830.0,1108.6 L1832.0,1108.9 L1834.0,1109.3 L1836.0,1109.7 L1838.0,1110.0 L1840.0,1110.4 L1842.0,1110.8 L1844.0,1111.2 L1846.0,1111.6 L1848.0,1112.0 L1850.0,1112.4 L1852.0,1112.8 L1854.0,1113.3 L1855.4,1113.6 L1856.0,1113.7 L1858.0,1114.2 L1860.0,1114.8 L1862.0,1115.3 L1864.0,1115.9 L1866.0,1116.5 L1868.0,1117.1 L1870.0,1117.8 L1872.0,1118.4 L1874.0,1119.1 L1876.0,1119.7 L1878.0,1120.3 L1880.0,1121.0 L1882.0,1121.6 L1884.0,1122.2 L1886.0,1122.9 L1888.0,1123.4 L1888.2,1123.5 L1890.0,1124.1 L1892.0,1124.8 L1894.0,1125.5 L1896.0,1126.1 L1898.0,1126.6 L1900.0,1126.8 L1902.0,1126.8 L1904.0,1126.9 L1904.2,1126.9 L1906.0,1127.0 L1908.0,1127.4 L1910.0,1127.8 L1912.0,1128.4 L1914.0,1129.1 L1916.0,1129.9 L1918.0,1130.8 L1920.0,1131.7 L1922.0,1132.6 L1924.0,1133.5 L1926.0,1134.3 L1928.0,1135.2 L1930.0,1135.9 L1930.3,1136.0 L1932.0,1136.6 L1934.0,1137.3 L1936.0,1137.9 L1938.0,1138.6 L1940.0,1139.3 L1942.0,1140.0 L1944.0,1140.6 L1946.0,1141.3 L1948.0,1142.0 L1950.0,1142.6 L1952.0,1143.3 L1954.0,1144.0 L1956.0,1144.6 L1958.0,1145.3 L1960.0,1146.0 L1962.0,1146.6 L1964.0,1147.3 L1966.0,1148.0 L1968.0,1148.6 L1969.4,1149.1 L1970.0,1149.3 L1972.0,1150.0 L1974.0,1150.6 L1976.0,1151.3 L1978.0,1151.9 L1980.0,1152.6 L1982.0,1153.2 L1984.0,1153.9 L1986.0,1154.5 L1988.0,1155.2 L1990.0,1155.8 L1992.0,1156.5 L1994.0,1157.1 L1996.0,1157.8 L1998.0,1158.4 L2000.0,1159.1 L2002.0,1159.8 L2004.0,1160.5 L2006.0,1161.2 L2008.0,1161.9 L2008.5,1162.1 L2010.0,1162.6 L2012.0,1163.4 L2014.0,1164.1 L2016.0,1164.9 L2018.0,1165.6 L2020.0,1166.4 L2022.0,1167.2 L2024.0,1168.0 L2026.0,1168.7 L2028.0,1169.5 L2030.0,1170.3 L2032.0,1171.1 L2034.0,1171.9 L2036.0,1172.8 L2038.0,1173.6 L2040.0,1174.4 L2042.0,1175.2 L2044.0,1176.0 L2046.0,1176.9 L2048.0,1177.7 L2050.0,1178.5 L2052.0,1179.3 L2054.0,1180.2 L2056.0,1181.0 L2058.0,1181.8 L2060.0,1182.7 L2060.6,1182.9 L2062.0,1183.5 L2064.0,1184.3 L2066.0,1185.2 L2068.0,1186.0 L2070.0,1186.9 L2072.0,1187.7 L2074.0,1188.6 L2076.0,1189.5 L2078.0,1190.4 L2080.0,1191.3 L2082.0,1192.1 L2084.0,1193.0 L2086.0,1193.9 L2088.0,1194.8 L2090.0,1195.7 L2092.0,1196.5 L2094.0,1197.4 L2096.0,1198.3 L2098.0,1199.1 L2100.0,1200.0 L2102.0,1200.8 L2104.0,1201.6 L2106.0,1202.5 L2108.0,1203.3 L2110.0,1204.1 L2112.0,1204.8 L2112.7,1205.1 L2114.0,1205.6 L2116.0,1206.3 L2118.0,1207.1 L2120.0,1207.8 L2122.0,1208.5 L2124.0,1209.2 L2126.0,1209.9 L2128.0,1210.6 L2130.0,1211.2 L2132.0,1211.9 L2134.0,1212.6 L2136.0,1213.2 L2138.0,1213.9 L2140.0,1214.5 L2142.0,1215.2 L2144.0,1215.9 L2146.0,1216.5 L2148.0,1217.2 L2150.0,1217.9 L2152.0,1218.6 L2154.0,1219.3 L2156.0,1220.0 L2158.0,1220.7 L2160.0,1221.4 L2162.0,1222.2 L2164.0,1222.9 L2164.9,1223.3 L2166.0,1223.7 L2168.0,1224.5 L2170.0,1225.4 L2172.0,1226.2 L2174.0,1227.0 L2176.0,1227.9 L2178.0,1228.8 L2180.0,1229.7 L2182.0,1230.6 L2184.0,1231.5 L2186.0,1232.4 L2188.0,1233.3 L2190.0,1234.2 L2192.0,1235.2 L2194.0,1236.1 L2196.0,1237.0 L2198.0,1238.0 L2200.0,1238.9 L2202.0,1239.9 L2204.0,1240.8 L2206.0,1241.7 L2208.0,1242.7 L2210.0,1243.6 L2212.0,1244.5 L2214.0,1245.4 L2216.0,1246.3 L2217.0,1246.8 L2218.0,1247.3 L2220.0,1248.2 L2222.0,1249.1 L2224.0,1250.0 L2226.0,1251.0 L2228.0,1251.9 L2230.0,1252.8 L2232.0,1253.8 L2234.0,1254.7 L2236.0,1255.7 L2238.0,1256.6 L2240.0,1257.6 L2242.0,1258.5 L2244.0,1259.5 L2246.0,1260.4 L2248.0,1261.3 L2250.0,1262.2 L2252.0,1263.1 L2254.0,1264.0 L2256.0,1264.9 L2258.0,1265.8 L2260.0,1266.6 L2262.0,1267.5 L2264.0,1268.3 L2266.0,1269.1 L2268.0,1269.9 L2269.1,1270.3 L2270.0,1270.6 L2272.0,1271.4 L2274.0,1272.0 L2276.0,1272.7 L2278.0,1273.3 L2280.0,1273.9 L2282.0,1274.5 L2284.0,1275.1 L2286.0,1275.7 L2288.0,1276.2 L2290.0,1276.8 L2292.0,1277.4 L2294.0,1278.0 L2296.0,1278.6 L2298.0,1279.3 L2300.0,1280.0 L2302.0,1280.7 L2304.0,1281.5 L2306.0,1282.3 L2308.0,1283.2 L2308.2,1283.3 L2310.0,1284.3 L2312.0,1285.8 L2314.0,1287.5 L2316.0,1289.2 L2318.0,1290.6 L2320.0,1291.6 L2322.0,1292.0 L2324.0,1292.0 L2326.0,1292.0 L2328.0,1292.0" fill="none" stroke="#0000ff" stroke-width="8" stroke-linejoin="round" stroke-linecap="butt"/>
<path d="M158.0,1425.0 L160.0,1425.0 L162.0,1425.0 L164.0,1425.0 L166.0,1425.0 L168.0,1424.9 L170.0,1424.9 L172.0,1424.8 L174.0,1424.7 L176.0,1424.5 L178.0,1424.4 L180.0,1424.2 L182.0,1424.0 L184.0,1423.8 L186.0,1423.5 L188.0,1423.3 L190.0,1423.1 L192.0,1422.8 L194.0,1422.6 L196.0,1422.3 L198.0,1422.1 L200.0,1421.8 L202.0,1421.6 L204.0,1421.3 L206.0,1421.1 L208.0,1420.8 L210.0,1420.6 L212.0,1420.4 L213.1,1420.3 L214.0,1420.2 L216.0,1420.0 L218.0,1419.8 L220.0,1419.6 L222.0,1419.4 L224.0,1419.2 L226.0,1419.0 L228.0,1418.9 L230.0,1418.7 L232.0,1418.5 L234.0,1418.3 L236.0,1418.1 L238.0,1417.9 L240.0,1417.7 L242.0,1417.5 L244.0,1417.3 L246.0,1417.1 L248.0,1416.9 L250.0,1416.7 L252.0,1416.5 L254.0,1416.3 L256.0,1416.1 L258.0,1415.9 L260.0,1415.7 L262.0,1415.4 L264.0,1415.2 L266.0,1415.0 L266.2,1415.0 L268.0,1414.8 L270.0,1414.6 L272.0,1414.4 L274.0,1414.1 L276.0,1413.9 L278.0,1413.6 L280.0,1413.4 L282.0,1413.2 L284.0,1412.9 L286.0,1412.7 L288.0,1412.4 L290.0,1412.2 L292.0,1411.9 L294.0,1411.7 L296.0,1411.4 L298.0,1411.2 L300.0,1410.9 L302.0,1410.7 L304.0,1410.5 L306.0,1410.2 L308.0,1410.0 L310.0,1409.8 L312.0,1409.6 L314.0,1409.4 L316.0,1409.2 L318.0,1409.0 L319.3,1408.9 L320.0,1408.8 L322.0,1408.7 L324.0,1408.5 L326.0,1408.4 L328.0,1408.2 L330.0,1408.1 L332.0,1407.9 L334.0,1407.8 L336.0,1407.6 L338.0,1407.5 L340.0,1407.4 L342.0,1407.2 L344.0,1407.1 L346.0,1407.0 L348.0,1406.9 L350.0,1406.7 L352.0,1406.6 L354.0,1406.5 L356.0,1406.4 L358.0,1406.2 L360.0,1406.1 L362.0,1406.0 L364.0,1405.8 L366.0,1405.7 L368.0,1405.5 L370.0,1405.4 L372.0,1405.2 L372.4,1405.2 L374.0,1405.1 L376.0,1404.9 L378.0,1404.7 L380.0,1404.6 L382.0,1404.4 L384.0,1404.2 L386.0,1404.1 L388.0,1403.9 L390.0,1403.7 L392.0,1403.5 L394.0,1403.3 L396.0,1403.1 L398.0,1403.0 L400.0,1402.8 L402.0,1402.6 L404.0,1402.4 L406.0,1402.2 L408.0,1402.0 L410.0,1401.8 L412.0,1401.6 L414.0,1401.5 L416.0,1401.3 L418.0,1401.1 L420.0,1400.9 L422.0,1400.7 L424.0,1400.5 L425.5,1400.4 L426.0,1400.4 L428.0,1400.2 L430.0,1400.0 L432.0,1399.8 L434.0,1399.7 L436.0,1399.5 L438.0,1399.3 L440.0,1399.2 L442.0,1399.0 L444.0,1398.8 L446.0,1398.7 L448.0,1398.5 L450.0,1398.3 L452.0,1398.2 L454.0,1398.0 L456.0,1397.8 L458.0,1397.7 L460.0,1397.5 L462.0,1397.3 L464.0,1397.1 L466.0,1397.0 L468.0,1396.8 L470.0,1396.6 L472.0,1396.4 L474.0,1396.2 L476.0,1396.0 L478.0,1395.8 L478.6,1395.7 L480.0,1395.5 L482.0,1395.3 L484.0,1395.1 L486.0,1394.9 L488.0,1394.6 L490.0,1394.4 L492.0,1394.2 L494.0,1393.9 L496.0,1393.7 L498.0,1393.4 L500.0,1393.2 L502.0,1392.9 L504.0,1392.6 L506.0,1392.4 L508.0,1392.1 L510.0,1391.8 L512.0,1391.5 L514.0,1391.2 L516.0,1390.9 L518.0,1390.6 L520.0,1390.3 L522.0,1390.0 L524.0,1389.7 L526.0,1389.4 L528.0,1389.1 L530.0,1388.8 L531.6,1388.5 L532.0,1388.4 L534.0,1388.1 L536.0,1387.8 L538.0,1387.5 L540.0,1387.2 L542.0,1386.9 L544.0,1386.6 L546.0,1386.2 L548.0,1385.9 L550.0,1385.5 L552.0,1385.0 L554.0,1384.5 L556.0,1383.9 L558.0,1383.3 L558.2,1383.2 L560.0,1382.2 L562.0,1380.4 L564.0,1378.3 L566.0,1376.1 L568.0,1374.2 L570.0,1372.9 L571.5,1372.6 L572.0,1372.7 L574.0,1373.9 L576.0,1375.8 L578.0,1377.5 L579.4,1377.9 L580.0,1377.9 L582.0,1377.9 L584.0,1377.9 L586.0,1377.8 L588.0,1377.8 L590.0,1377.7 L592.0,1377.6 L594.0,1377.5 L596.0,1377.4 L598.0,1377.3 L600.0,1377.2 L602.0,1377.1 L604.0,1377.0 L606.0,1376.8 L608.0,1376.7 L610.0,1376.6 L611.3,1376.5 L612.0,1376.5 L614.0,1376.3 L616.0,1376.1 L618.0,1376.0 L620.0,1375.8 L622.0,1375.6 L624.0,1375.3 L626.0,1375.1 L628.0,1374.8 L630.0,1374.6 L632.0,1374.3 L634.0,1374.0 L636.0,1373.7 L638.0,1373.4 L640.0,1373.1 L642.0,1372.7 L644.0,1372.4 L646.0,1372.0 L648.0,1371.7 L650.0,1371.3 L652.0,1371.0 L654.0,1370.6 L656.0,1370.2 L658.0,1369.8 L660.0,1369.5 L662.0,1369.1 L664.0,1368.7 L664.4,1368.6 L666.0,1368.3 L668.0,1367.8 L670.0,1367.3 L672.0,1366.8 L674.0,1366.3 L676.0,1365.7 L678.0,1365.2 L680.0,1364.6 L682.0,1364.1 L684.0,1363.5 L686.0,1363.0 L688.0,1362.5 L690.0,1362.0 L692.0,1361.5 L694.0,1360.9 L696.0,1360.4 L698.0,1360.0 L700.0,1359.9 L702.0,1359.9 L704.0,1359.9 L706.0,1359.9 L708.0,1359.9 L710.0,1359.9 L712.0,1359.9 L714.0,1359.9 L714.5,1359.9 L716.0,1359.8 L718.0,1359.6 L720.0,1359.2 L722.0,1358.8 L724.0,1358.2 L726.0,1357.5 L728.0,1356.8 L730.0,1356.1 L732.0,1355.4 L734.0,1354.7 L736.0,1354.2 L736.2,1354.1 L738.0,1353.6 L740.0,1353.1 L742.0,1352.6 L744.0,1352.1 L746.0,1351.6 L748.0,1351.0 L750.0,1350.5 L752.0,1350.0 L754.0,1349.4 L756.0,1348.9 L757.9,1348.3 L758.0,1348.3 L760.0,1347.7 L762.0,1347.0 L764.0,1346.4 L766.0,1345.7 L768.0,1345.0 L770.0,1344.3 L772.0,1343.6 L774.0,1342.9 L776.0,1342.3 L778.0,1341.6 L779.6,1341.1 L780.0,1341.0 L782.0,1340.4 L784.0,1339.9 L786.0,1339.5 L788.0,1339.0 L790.0,1338.4 L792.0,1337.7 L794.0,1336.8 L794.1,1336.7 L796.0,1334.9 L798.0,1331.9 L800.0,1329.1 L801.3,1328.0 L802.0,1327.7 L804.0,1327.0 L806.0,1326.4 L807.1,1325.9 L808.0,1324.9 L810.0,1320.8 L811.5,1318.6 L812.0,1318.2 L814.0,1317.1 L816.0,1316.2 L818.0,1315.5 L820.0,1314.9 L822.0,1314.1 L823.1,1313.6 L824.0,1313.1 L826.0,1312.1 L828.0,1310.9 L830.0,1309.7 L832.0,1308.4 L834.0,1307.1 L836.0,1305.8 L837.5,1304.9 L838.0,1304.6 L840.0,1303.3 L842.0,1302.0 L844.0,1300.6 L846.0,1299.3 L848.0,1297.9 L850.0,1296.7 L852.0,1295.5 L854.0,1294.4 L856.0,1293.3 L858.0,1292.2 L860.0,1291.2 L862.0,1290.2 L864.0,1289.2 L866.0,1288.2 L868.0,1287.3 L870.0,1286.3 L872.0,1285.4 L873.7,1284.6 L874.0,1284.5 L876.0,1283.4 L878.0,1282.4 L880.0,1281.3 L882.0,1280.3 L884.0,1279.4 L886.0,1278.6 L888.0,1278.1 L888.2,1278.1 L890.0,1277.8 L892.0,1277.5 L894.0,1277.3 L896.0,1277.1 L898.0,1276.9 L900.0,1276.8 L902.0,1276.6 L902.7,1276.6 L904.0,1276.5 L906.0,1276.4 L908.0,1276.2 L910.0,1276.1 L912.0,1276.0 L914.0,1276.0 L916.0,1275.9 L917.2,1275.9 L918.0,1275.9 L920.0,1276.1 L922.0,1276.6 L924.0,1277.1 L926.0,1277.7 L928.0,1278.4 L930.0,1279.0 L931.7,1279.5 L932.0,1279.6 L934.0,1280.1 L936.0,1280.6 L938.0,1281.1 L940.0,1281.6 L942.0,1282.2 L944.0,1282.7 L946.0,1283.2 L946.1,1283.2 L948.0,1283.6 L950.0,1283.9 L952.0,1284.3 L954.0,1284.7 L956.0,1285.3 L957.7,1286.1 L958.0,1286.4 L960.0,1291.1 L960.6,1291.9 L962.0,1292.6 L964.0,1293.3 L966.0,1293.8 L968.0,1294.1 L970.0,1294.4 L972.0,1294.7 L974.0,1295.2 L975.1,1295.5 L976.0,1295.8 L978.0,1296.5 L980.0,1297.4 L982.0,1298.3 L984.0,1299.2 L986.0,1300.2 L988.0,1301.2 L989.6,1302.0 L990.0,1302.2 L992.0,1303.4 L994.0,1304.8 L996.0,1306.1 L998.0,1307.2 L1000.0,1307.8 L1002.0,1308.1 L1004.0,1308.3 L1006.0,1308.5 L1008.0,1308.6 L1010.0,1308.7 L1012.0,1308.8 L1014.0,1309.0 L1016.0,1309.1 L1018.0,1309.3 L1019.3,1309.5 L1020.0,1309.6 L1022.0,1310.1 L1024.0,1310.8 L1026.0,1311.6 L1028.0,1312.4 L1030.0,1313.3 L1032.0,1314.2 L1034.0,1315.0 L1036.0,1315.7 L1038.0,1316.2 L1038.6,1316.3 L1040.0,1316.5 L1042.0,1316.8 L1044.0,1317.0 L1046.0,1317.2 L1048.0,1317.4 L1050.0,1317.5 L1052.0,1317.7 L1054.0,1317.9 L1056.0,1318.0 L1057.9,1318.2 L1058.0,1318.2 L1060.0,1318.4 L1062.0,1318.7 L1064.0,1318.9 L1066.0,1319.2 L1068.0,1319.4 L1070.0,1319.7 L1072.0,1319.9 L1074.0,1320.0 L1076.0,1320.1 L1077.2,1320.1 L1078.0,1320.1 L1080.0,1320.1 L1082.0,1320.0 L1084.0,1320.0 L1086.0,1319.9 L1088.0,1319.8 L1090.0,1319.8 L1092.0,1319.7 L1094.0,1319.6 L1096.0,1319.5 L1096.5,1319.5 L1098.0,1319.5 L1100.0,1319.4 L1102.0,1319.3 L1104.0,1319.3 L1106.0,1319.2 L1108.0,1319.1 L1110.0,1319.1 L1112.0,1319.0 L1114.0,1318.9 L1115.8,1318.8 L1116.0,1318.8 L1118.0,1318.7 L1120.0,1318.5 L1122.0,1318.4 L1124.0,1318.2 L1126.0,1318.0 L1128.0,1317.9 L1130.0,1317.7 L1132.0,1317.5 L1134.0,1317.3 L1135.1,1317.2 L1136.0,1317.1 L1138.0,1316.9 L1140.0,1316.7 L1142.0,1316.5 L1144.0,1316.3 L1146.0,1316.1 L1148.0,1315.9 L1150.0,1315.7 L1152.0,1315.5 L1154.0,1315.3 L1154.4,1315.3 L1156.0,1315.2 L1158.0,1315.1 L1160.0,1315.0 L1162.0,1314.9 L1164.0,1314.8 L1166.0,1314.7 L1168.0,1314.6 L1170.0,1314.5 L1172.0,1314.4 L1173.7,1314.3 L1174.0,1314.3 L1176.0,1314.1 L1178.0,1313.8 L1180.0,1313.6 L1182.0,1313.3 L1184.0,1312.9 L1186.0,1312.6 L1188.0,1312.2 L1190.0,1311.9 L1192.0,1311.6 L1193.1,1311.4 L1194.0,1311.3 L1196.0,1311.0 L1198.0,1310.7 L1200.0,1310.4 L1202.0,1310.1 L1204.0,1309.9 L1206.0,1309.6 L1208.0,1309.3 L1210.0,1308.9 L1212.0,1308.6 L1212.4,1308.5 L1214.0,1308.2 L1216.0,1307.8 L1218.0,1307.3 L1220.0,1306.8 L1222.0,1306.3 L1224.0,1305.8 L1226.0,1305.3 L1228.0,1304.7 L1230.0,1304.2 L1231.7,1303.7 L1232.0,1303.6 L1234.0,1303.1 L1236.0,1302.5 L1238.0,1301.8 L1240.0,1301.2 L1242.0,1300.6 L1244.0,1300.0 L1246.0,1299.4 L1248.0,1298.8 L1250.0,1298.2 L1251.0,1297.9 L1252.0,1297.6 L1254.0,1297.1 L1256.0,1296.6 L1258.0,1296.1 L1260.0,1295.7 L1262.0,1295.2 L1264.0,1294.7 L1266.0,1294.2 L1268.0,1293.7 L1270.0,1293.2 L1270.3,1293.1 L1272.0,1292.6 L1274.0,1292.1 L1276.0,1291.5 L1278.0,1290.9 L1280.0,1290.3 L1282.0,1289.7 L1284.0,1289.1 L1286.0,1288.5 L1288.0,1287.8 L1289.6,1287.3 L1290.0,1287.2 L1292.0,1286.5 L1294.0,1285.8 L1296.0,1285.0 L1298.0,1284.3 L1300.0,1283.5 L1302.0,1282.8 L1304.0,1282.1 L1306.0,1281.4 L1308.0,1280.8 L1308.9,1280.5 L1310.0,1280.2 L1312.0,1279.7 L1314.0,1279.2 L1316.0,1278.7 L1318.0,1278.2 L1320.0,1277.8 L1322.0,1277.3 L1324.0,1276.8 L1326.0,1276.3 L1328.0,1275.8 L1328.2,1275.7 L1330.0,1275.1 L1332.0,1274.5 L1334.0,1273.7 L1336.0,1273.0 L1338.0,1272.2 L1340.0,1271.4 L1342.0,1270.7 L1344.0,1270.0 L1346.0,1269.4 L1347.5,1269.0 L1348.0,1268.9 L1350.0,1268.4 L1352.0,1267.9 L1354.0,1267.5 L1356.0,1267.1 L1358.0,1266.8 L1360.0,1266.4 L1362.0,1266.0 L1364.0,1265.6 L1366.0,1265.3 L1366.8,1265.1 L1368.0,1264.8 L1370.0,1264.4 L1372.0,1263.8 L1374.0,1263.3 L1376.0,1262.8 L1378.0,1262.3 L1380.0,1261.9 L1382.0,1261.5 L1384.0,1261.3 L1386.0,1261.2 L1386.1,1261.2 L1388.0,1261.2 L1390.0,1261.2 L1392.0,1261.2 L1394.0,1261.2 L1396.0,1261.2 L1398.0,1261.2 L1400.0,1261.2 L1402.0,1261.3 L1404.0,1261.5 L1406.0,1261.9 L1408.0,1262.3 L1410.0,1262.8 L1412.0,1263.3 L1414.0,1263.8 L1416.0,1264.2 L1418.0,1264.6 L1420.0,1264.8 L1421.9,1264.9 L1422.0,1264.9 L1424.0,1264.5 L1426.0,1263.5 L1428.0,1262.3 L1430.0,1261.2 L1432.0,1260.6 L1432.5,1260.6 L1434.0,1260.6 L1436.0,1260.6 L1438.0,1260.7 L1440.0,1260.8 L1442.0,1260.9 L1444.0,1261.0 L1446.0,1261.1 L1448.0,1261.2 L1450.0,1261.4 L1452.0,1261.6 L1453.7,1261.7 L1454.0,1261.7 L1456.0,1262.0 L1458.0,1262.3 L1460.0,1262.7 L1462.0,1263.2 L1464.0,1263.7 L1464.3,1263.8 L1466.0,1264.3 L1468.0,1265.1 L1470.0,1266.0 L1472.0,1266.8 L1474.0,1267.7 L1474.9,1268.0 L1476.0,1268.4 L1478.0,1269.0 L1480.0,1269.6 L1482.0,1270.1 L1484.0,1270.7 L1486.0,1271.2 L1488.0,1271.8 L1490.0,1272.3 L1492.0,1272.9 L1494.0,1273.6 L1496.0,1274.3 L1496.2,1274.4 L1498.0,1275.1 L1500.0,1276.1 L1502.0,1277.1 L1504.0,1278.2 L1506.0,1279.3 L1506.8,1279.7 L1508.0,1280.4 L1510.0,1281.6 L1512.0,1283.0 L1514.0,1284.2 L1516.0,1285.4 L1517.4,1286.1 L1518.0,1286.4 L1520.0,1287.3 L1522.0,1288.3 L1524.0,1289.2 L1526.0,1290.1 L1528.0,1291.0 L1530.0,1291.8 L1532.0,1292.4 L1534.0,1292.9 L1536.0,1293.3 L1538.0,1293.5 L1538.7,1293.5 L1540.0,1293.4 L1542.0,1293.0 L1544.0,1292.5 L1546.0,1291.9 L1548.0,1291.5 L1549.3,1291.4 L1550.0,1291.4 L1552.0,1291.4 L1554.0,1291.4 L1556.0,1291.5 L1558.0,1291.5 L1560.0,1291.6 L1562.0,1291.6 L1564.0,1291.7 L1566.0,1291.7 L1568.0,1291.8 L1570.0,1291.8 L1572.0,1291.9 L1574.0,1291.9 L1576.0,1292.0 L1578.0,1292.0 L1580.0,1292.0 L1581.1,1292.0 L1582.0,1292.0 L1584.0,1292.0 L1586.0,1292.0 L1588.0,1291.9 L1590.0,1291.9 L1592.0,1291.8 L1594.0,1291.7 L1596.0,1291.7 L1598.0,1291.6 L1600.0,1291.5 L1602.0,1291.4 L1604.0,1291.3 L1606.0,1291.2 L1608.0,1291.1 L1610.0,1291.0 L1612.0,1290.9 L1614.0,1290.8 L1616.0,1290.7 L1618.0,1290.6 L1620.0,1290.5 L1622.0,1290.4 L1623.6,1290.3 L1624.0,1290.3 L1626.0,1290.2 L1628.0,1290.1 L1630.0,1290.0 L1632.0,1289.8 L1634.0,1289.7 L1636.0,1289.6 L1638.0,1289.5 L1640.0,1289.3 L1642.0,1289.2 L1644.0,1289.1 L1646.0,1288.9 L1648.0,1288.8 L1650.0,1288.7 L1652.0,1288.6 L1654.0,1288.5 L1656.0,1288.4 L1658.0,1288.3 L1660.0,1288.3 L1662.0,1288.2 L1664.0,1288.2 L1666.0,1288.2 L1666.1,1288.2 L1668.0,1288.2 L1670.0,1288.2 L1672.0,1288.2 L1674.0,1288.2 L1676.0,1288.2 L1678.0,1288.2 L1680.0,1288.2 L1682.0,1288.2 L1684.0,1288.2 L1686.0,1288.2 L1688.0,1288.2 L1690.0,1288.2 L1692.0,1288.2 L1694.0,1288.2 L1696.0,1288.2 L1698.0,1288.2 L1700.0,1288.2 L1702.0,1288.2 L1704.0,1288.2 L1706.0,1288.2 L1708.0,1288.2 L1708.5,1288.2 L1710.0,1288.2 L1712.0,1288.2 L1714.0,1288.2 L1716.0,1288.2 L1718.0,1288.3 L1720.0,1288.3 L1722.0,1288.3 L1724.0,1288.3 L1726.0,1288.4 L1728.0,1288.4 L1730.0,1288.5 L1732.0,1288.5 L1734.0,1288.6 L1736.0,1288.7 L1738.0,1288.7 L1740.0,1288.8 L1742.0,1288.9 L1744.0,1289.0 L1746.0,1289.1 L1748.0,1289.2 L1750.0,1289.2 L1751.0,1289.3 L1752.0,1289.4 L1754.0,1289.6 L1756.0,1290.0 L1758.0,1290.5 L1760.0,1291.1 L1762.0,1291.7 L1764.0,1292.4 L1766.0,1293.0 L1768.0,1293.6 L1770.0,1294.1 L1772.0,1294.6 L1772.2,1294.6 L1774.0,1294.9 L1776.0,1295.1 L1778.0,1295.3 L1780.0,1295.5 L1782.0,1295.8 L1784.0,1296.1 L1786.0,1296.4 L1787.1,1296.7 L1788.0,1297.1 L1790.0,1298.6 L1792.0,1300.3 L1793.5,1301.0 L1794.0,1301.1 L1796.0,1301.4 L1798.0,1301.7 L1800.0,1302.0 L1802.0,1302.2 L1804.0,1302.4 L1806.0,1302.5 L1808.0,1302.6 L1810.0,1302.8 L1812.0,1302.9 L1814.0,1303.0 L1814.7,1303.1 L1816.0,1303.2 L1818.0,1303.3 L1820.0,1303.5 L1822.0,1303.6 L1824.0,1303.7 L1826.0,1303.9 L1828.0,1304.0 L1830.0,1304.2 L1832.0,1304.4 L1834.0,1304.7 L1836.0,1305.1 L1838.0,1305.5 L1840.0,1305.9 L1842.0,1306.4 L1844.0,1306.9 L1846.0,1307.3 L1848.0,1307.8 L1850.0,1308.3 L1852.0,1308.7 L1852.1,1308.7 L1854.0,1309.1 L1856.0,1309.5 L1858.0,1309.9 L1860.0,1310.3 L1862.0,1310.7 L1864.0,1311.1 L1866.0,1311.5 L1868.0,1311.9 L1870.0,1312.3 L1872.0,1312.7 L1874.0,1313.1 L1876.0,1313.5 L1878.0,1313.9 L1880.0,1314.3 L1882.0,1314.7 L1884.0,1315.1 L1886.0,1315.5 L1888.0,1315.9 L1890.0,1316.3 L1892.0,1316.7 L1894.0,1317.1 L1896.0,1317.5 L1898.0,1317.9 L1900.0,1318.3 L1902.0,1318.7 L1904.0,1319.1 L1904.2,1319.1 L1906.0,1319.5 L1908.0,1319.9 L1910.0,1320.2 L1912.0,1320.6 L1914.0,1321.0 L1916.0,1321.4 L1918.0,1321.8 L1920.0,1322.2 L1922.0,1322.6 L1924.0,1322.9 L1926.0,1323.3 L1928.0,1323.7 L1930.0,1324.1 L1932.0,1324.5 L1934.0,1324.9 L1936.0,1325.3 L1938.0,1325.7 L1940.0,1326.1 L1942.0,1326.5 L1944.0,1326.9 L1946.0,1327.3 L1948.0,1327.7 L1950.0,1328.1 L1952.0,1328.5 L1954.0,1329.0 L1956.0,1329.4 L1956.4,1329.5 L1958.0,1329.9 L1960.0,1330.3 L1962.0,1330.8 L1964.0,1331.3 L1966.0,1331.7 L1968.0,1332.2 L1970.0,1332.7 L1972.0,1333.2 L1974.0,1333.7 L1976.0,1334.2 L1978.0,1334.7 L1980.0,1335.3 L1982.0,1335.8 L1984.0,1336.3 L1986.0,1336.8 L1988.0,1337.3 L1990.0,1337.9 L1992.0,1338.4 L1994.0,1338.9 L1996.0,1339.4 L1998.0,1339.9 L2000.0,1340.4 L2002.0,1340.9 L2004.0,1341.4 L2006.0,1341.9 L2008.0,1342.4 L2008.5,1342.5 L2010.0,1342.9 L2012.0,1343.3 L2014.0,1343.8 L2016.0,1344.2 L2018.0,1344.7 L2020.0,1345.1 L2022.0,1345.5 L2024.0,1345.9 L2026.0,1346.4 L2028.0,1346.8 L2030.0,1347.2 L2032.0,1347.6 L2034.0,1348.1 L2036.0,1348.5 L2038.0,1348.9 L2040.0,1349.3 L2042.0,1349.8 L2044.0,1350.2 L2046.0,1350.7 L2048.0,1351.1 L2050.0,1351.6 L2052.0,1352.1 L2054.0,1352.6 L2056.0,1353.1 L2058.0,1353.6 L2060.0,1354.1 L2060.6,1354.3 L2062.0,1354.7 L2064.0,1355.3 L2066.0,1356.0 L2068.0,1356.6 L2070.0,1357.3 L2072.0,1357.9 L2073.0,1358.2 L2074.0,1358.5 L2076.0,1359.0 L2078.0,1359.6 L2080.0,1360.1 L2082.0,1360.6 L2084.0,1361.1 L2086.0,1361.5 L2086.1,1361.5 L2088.0,1361.8 L2090.0,1362.2 L2092.0,1362.5 L2094.0,1362.8 L2096.0,1363.0 L2098.0,1363.3 L2099.1,1363.5 L2100.0,1363.6 L2102.0,1364.0 L2104.0,1364.4 L2106.0,1364.8 L2108.0,1365.2 L2110.0,1365.6 L2112.0,1365.9 L2114.0,1366.2 L2116.0,1366.5 L2118.0,1366.7 L2118.6,1366.7 L2120.0,1366.8 L2122.0,1366.9 L2124.0,1366.9 L2126.0,1367.0 L2128.0,1367.0 L2130.0,1367.1 L2132.0,1367.1 L2134.0,1367.2 L2136.0,1367.3 L2138.0,1367.4 L2138.2,1367.4 L2140.0,1367.5 L2142.0,1367.7 L2144.0,1368.0 L2146.0,1368.3 L2148.0,1368.7 L2150.0,1369.1 L2151.2,1369.3 L2152.0,1369.5 L2154.0,1370.2 L2156.0,1371.1 L2158.0,1372.1 L2160.0,1373.0 L2162.0,1373.6 L2164.0,1373.9 L2164.2,1373.9 L2166.0,1373.9 L2168.0,1373.9 L2170.0,1373.9 L2172.0,1373.9 L2174.0,1373.9 L2176.0,1373.9 L2177.3,1373.9 L2178.0,1374.0 L2180.0,1374.7 L2182.0,1376.1 L2184.0,1377.8 L2186.0,1379.5 L2188.0,1380.9 L2190.0,1381.7 L2190.3,1381.7 L2192.0,1381.8 L2194.0,1382.0 L2196.0,1382.0 L2198.0,1382.1 L2200.0,1382.2 L2202.0,1382.3 L2203.3,1382.4 L2204.0,1382.5 L2206.0,1382.9 L2208.0,1383.6 L2210.0,1384.5 L2212.0,1385.4 L2214.0,1386.4 L2216.0,1387.4 L2216.4,1387.6 L2218.0,1388.4 L2220.0,1389.5 L2222.0,1390.7 L2224.0,1391.9 L2226.0,1393.0 L2228.0,1394.1 L2229.4,1394.7 L2230.0,1395.0 L2232.0,1395.7 L2234.0,1396.4 L2236.0,1397.0 L2238.0,1397.6 L2240.0,1398.3 L2242.0,1399.1 L2242.4,1399.3 L2244.0,1400.1 L2246.0,1401.3 L2248.0,1402.5 L2250.0,1403.9 L2252.0,1405.4 L2254.0,1406.8 L2255.5,1407.8 L2256.0,1408.1 L2258.0,1409.6 L2260.0,1411.0 L2262.0,1412.5 L2264.0,1413.9 L2266.0,1415.3 L2268.0,1416.6 L2268.5,1416.9 L2270.0,1417.7 L2272.0,1418.8 L2274.0,1419.8 L2276.0,1420.8 L2278.0,1421.7 L2280.0,1422.7 L2281.5,1423.4 L2282.0,1423.6 L2284.0,1424.6 L2286.0,1425.6 L2288.0,1426.6 L2290.0,1427.5 L2292.0,1428.5 L2294.0,1429.6 L2294.6,1429.9 L2296.0,1430.7 L2298.0,1431.9 L2300.0,1433.2 L2302.0,1434.5 L2304.0,1435.8 L2306.0,1436.9 L2307.6,1437.7 L2308.0,1437.9 L2310.0,1438.7 L2312.0,1439.4 L2314.0,1440.0 L2316.0,1440.7 L2318.0,1441.3 L2320.0,1442.1 L2320.6,1442.3 L2322.0,1442.9 L2324.0,1442.9 L2326.0,1442.9 L2328.0,1442.9" fill="none" stroke="#009600" stroke-width="8" stroke-linejoin="round" stroke-linecap="butt"/>
<path d="M158.0,1568.5 L160.0,1568.5 L162.0,1568.5 L164.0,1568.5 L166.0,1568.8 L168.0,1569.5 L170.0,1570.5 L172.0,1571.8 L174.0,1573.2 L176.0,1574.6 L178.0,1575.9 L179.8,1576.8 L180.0,1576.9 L182.0,1577.8 L184.0,1578.7 L186.0,1579.5 L188.0,1580.3 L190.0,1581.2 L192.0,1581.9 L194.0,1582.7 L196.0,1583.4 L198.0,1584.1 L199.6,1584.7 L200.0,1584.8 L202.0,1585.5 L204.0,1586.2 L206.0,1586.9 L208.0,1587.5 L210.0,1588.2 L212.0,1588.7 L214.0,1589.3 L216.0,1589.8 L218.0,1590.3 L219.4,1590.6 L220.0,1590.7 L222.0,1591.1 L224.0,1591.4 L226.0,1591.7 L228.0,1592.0 L230.0,1592.2 L232.0,1592.5 L234.0,1592.8 L236.0,1593.1 L238.0,1593.4 L239.1,1593.6 L240.0,1593.8 L242.0,1594.2 L244.0,1594.6 L246.0,1595.1 L248.0,1595.6 L250.0,1596.2 L252.0,1596.7 L254.0,1597.2 L256.0,1597.8 L258.0,1598.3 L258.9,1598.5 L260.0,1598.8 L262.0,1599.3 L264.0,1599.9 L266.0,1600.5 L268.0,1601.1 L270.0,1601.7 L272.0,1602.2 L274.0,1602.7 L276.0,1603.1 L278.0,1603.4 L278.7,1603.5 L280.0,1603.7 L282.0,1603.9 L284.0,1604.1 L286.0,1604.3 L288.0,1604.4 L290.0,1604.6 L292.0,1604.7 L294.0,1604.9 L296.0,1605.0 L298.0,1605.1 L300.0,1605.2 L302.0,1605.3 L304.0,1605.4 L306.0,1605.6 L308.0,1605.7 L310.0,1605.8 L312.0,1605.9 L314.0,1606.1 L316.0,1606.2 L318.0,1606.4 L318.3,1606.4 L320.0,1606.6 L322.0,1606.7 L324.0,1607.0 L326.0,1607.2 L328.0,1607.4 L330.0,1607.6 L332.0,1607.9 L334.0,1608.1 L336.0,1608.4 L338.0,1608.6 L340.0,1608.8 L342.0,1609.1 L344.0,1609.3 L346.0,1609.5 L348.0,1609.7 L350.0,1609.9 L352.0,1610.1 L354.0,1610.2 L356.0,1610.3 L357.9,1610.4 L358.0,1610.4 L360.0,1610.5 L362.0,1610.6 L364.0,1610.6 L366.0,1610.7 L368.0,1610.8 L370.0,1610.9 L372.0,1610.9 L374.0,1611.0 L376.0,1611.1 L378.0,1611.1 L380.0,1611.2 L382.0,1611.2 L384.0,1611.3 L386.0,1611.3 L388.0,1611.3 L390.0,1611.4 L392.0,1611.4 L394.0,1611.4 L396.0,1611.4 L397.4,1611.4 L398.0,1611.4 L400.0,1611.4 L402.0,1611.4 L404.0,1611.4 L406.0,1611.4 L408.0,1611.4 L410.0,1611.4 L412.0,1611.4 L414.0,1611.4 L416.0,1611.4 L418.0,1611.4 L420.0,1611.4 L422.0,1611.4 L424.0,1611.4 L426.0,1611.4 L428.0,1611.4 L430.0,1611.4 L432.0,1611.4 L434.0,1611.4 L436.0,1611.4 L437.0,1611.4 L438.0,1611.4 L440.0,1611.4 L442.0,1611.4 L444.0,1611.3 L446.0,1611.3 L448.0,1611.2 L450.0,1611.1 L452.0,1611.1 L454.0,1611.0 L456.0,1610.9 L458.0,1610.9 L460.0,1610.8 L462.0,1610.7 L464.0,1610.6 L466.0,1610.6 L468.0,1610.5 L470.0,1610.5 L472.0,1610.4 L474.0,1610.4 L476.0,1610.4 L476.6,1610.4 L478.0,1610.4 L480.0,1610.4 L482.0,1610.5 L484.0,1610.5 L486.0,1610.5 L488.0,1610.6 L490.0,1610.7 L492.0,1610.7 L494.0,1610.8 L496.0,1610.9 L498.0,1611.0 L500.0,1611.0 L502.0,1611.1 L504.0,1611.2 L506.0,1611.2 L508.0,1611.3 L510.0,1611.3 L512.0,1611.4 L514.0,1611.4 L516.0,1611.4 L516.1,1611.4 L518.0,1611.2 L520.0,1610.6 L522.0,1609.8 L524.0,1609.0 L526.0,1608.2 L528.0,1607.6 L530.0,1607.4 L532.0,1608.2 L534.0,1609.7 L535.9,1610.4 L536.0,1610.4 L538.0,1610.4 L540.0,1610.4 L542.0,1610.3 L544.0,1610.3 L546.0,1610.3 L548.0,1610.2 L550.0,1610.1 L552.0,1610.1 L554.0,1610.0 L556.0,1609.9 L558.0,1609.9 L560.0,1609.8 L562.0,1609.7 L564.0,1609.6 L566.0,1609.5 L568.0,1609.3 L570.0,1609.2 L572.0,1609.0 L574.0,1608.8 L576.0,1608.7 L578.0,1608.5 L580.0,1608.3 L582.0,1608.1 L584.0,1608.0 L586.0,1607.8 L588.0,1607.7 L590.0,1607.5 L592.0,1607.4 L592.8,1607.4 L594.0,1607.4 L596.0,1607.3 L598.0,1607.2 L600.0,1607.2 L602.0,1607.1 L604.0,1607.1 L606.0,1607.0 L608.0,1607.0 L610.0,1606.9 L612.0,1606.9 L614.0,1606.8 L616.0,1606.8 L618.0,1606.7 L620.0,1606.7 L622.0,1606.6 L624.0,1606.6 L625.6,1606.5 L626.0,1606.5 L628.0,1606.4 L630.0,1606.3 L632.0,1606.2 L634.0,1606.1 L636.0,1605.9 L638.0,1605.8 L640.0,1605.6 L642.0,1605.5 L644.0,1605.3 L646.0,1605.2 L648.0,1605.0 L650.0,1604.8 L652.0,1604.7 L654.0,1604.5 L656.0,1604.3 L658.0,1604.1 L658.5,1604.1 L660.0,1604.0 L662.0,1603.8 L664.0,1603.6 L666.0,1603.4 L668.0,1603.2 L670.0,1603.0 L672.0,1602.9 L674.0,1602.7 L676.0,1602.4 L678.0,1602.2 L680.0,1602.0 L682.0,1601.8 L684.0,1601.6 L686.0,1601.4 L688.0,1601.2 L690.0,1600.9 L691.3,1600.8 L692.0,1600.7 L694.0,1600.5 L696.0,1600.3 L698.0,1600.0 L700.0,1599.8 L702.0,1599.6 L704.0,1599.3 L706.0,1599.1 L708.0,1598.8 L710.0,1598.6 L712.0,1598.3 L714.0,1598.1 L716.0,1597.8 L718.0,1597.6 L720.0,1597.3 L722.0,1597.0 L724.0,1596.7 L724.1,1596.7 L726.0,1596.4 L728.0,1596.1 L730.0,1595.8 L732.0,1595.5 L734.0,1595.2 L736.0,1594.8 L738.0,1594.5 L740.0,1594.1 L742.0,1593.8 L744.0,1593.4 L746.0,1593.1 L748.0,1592.7 L748.7,1592.6 L750.0,1592.4 L752.0,1592.0 L754.0,1591.6 L756.0,1591.1 L758.0,1590.7 L760.0,1590.3 L762.0,1589.9 L764.0,1589.4 L766.0,1589.0 L768.0,1588.6 L770.0,1588.3 L772.0,1587.9 L773.3,1587.7 L774.0,1587.6 L776.0,1587.3 L778.0,1587.0 L780.0,1586.8 L782.0,1586.5 L784.0,1586.3 L786.0,1586.1 L788.0,1585.9 L790.0,1585.7 L792.0,1585.4 L794.0,1585.2 L796.0,1585.0 L798.0,1584.8 L800.0,1584.5 L802.0,1584.2 L804.0,1583.9 L806.0,1583.6 L806.1,1583.6 L808.0,1583.3 L810.0,1582.9 L812.0,1582.5 L814.0,1582.1 L816.0,1581.6 L818.0,1581.2 L820.0,1580.7 L822.0,1580.2 L824.0,1579.7 L826.0,1579.1 L828.0,1578.6 L830.0,1578.0 L830.8,1577.8 L832.0,1577.4 L834.0,1576.7 L836.0,1576.0 L838.0,1575.1 L840.0,1574.3 L842.0,1573.4 L844.0,1572.6 L846.0,1571.9 L848.0,1571.2 L850.0,1570.7 L852.0,1570.4 L852.1,1570.4 L854.0,1570.2 L856.0,1570.0 L858.0,1569.8 L860.0,1569.7 L862.0,1569.6 L863.6,1569.6 L864.0,1569.6 L866.0,1569.6 L868.0,1569.7 L870.0,1569.7 L872.0,1569.8 L874.0,1569.9 L876.0,1570.0 L878.0,1570.1 L880.0,1570.2 L882.0,1570.3 L884.0,1570.3 L886.0,1570.4 L888.0,1570.4 L888.2,1570.4 L890.0,1570.4 L892.0,1570.3 L894.0,1570.1 L896.0,1570.0 L898.0,1569.8 L900.0,1569.6 L902.0,1569.4 L904.0,1569.2 L906.0,1569.0 L908.0,1568.8 L910.0,1568.6 L912.0,1568.4 L914.0,1568.1 L916.0,1567.9 L918.0,1567.6 L920.0,1567.4 L922.0,1567.1 L924.0,1566.8 L926.0,1566.6 L928.0,1566.3 L930.0,1566.1 L932.0,1565.8 L934.0,1565.6 L936.0,1565.4 L938.0,1565.2 L940.0,1565.0 L942.0,1564.8 L942.5,1564.8 L944.0,1564.7 L946.0,1564.5 L948.0,1564.4 L950.0,1564.3 L952.0,1564.2 L954.0,1564.1 L956.0,1563.9 L958.0,1563.8 L960.0,1563.7 L962.0,1563.6 L964.0,1563.5 L966.0,1563.4 L968.0,1563.3 L970.0,1563.2 L972.0,1563.1 L974.0,1563.0 L976.0,1562.9 L978.0,1562.8 L980.0,1562.6 L982.0,1562.5 L984.0,1562.3 L984.9,1562.2 L986.0,1562.1 L988.0,1561.8 L990.0,1561.5 L992.0,1561.2 L994.0,1560.8 L996.0,1560.4 L998.0,1559.9 L1000.0,1559.5 L1002.0,1559.1 L1004.0,1558.6 L1006.0,1558.2 L1008.0,1557.9 L1010.0,1557.6 L1012.0,1557.3 L1014.0,1557.1 L1016.0,1556.9 L1016.8,1556.9 L1018.0,1556.9 L1020.0,1556.8 L1022.0,1556.8 L1024.0,1556.7 L1026.0,1556.7 L1028.0,1556.7 L1030.0,1556.6 L1032.0,1556.6 L1034.0,1556.6 L1036.0,1556.6 L1038.0,1556.5 L1040.0,1556.5 L1042.0,1556.5 L1044.0,1556.4 L1046.0,1556.4 L1048.0,1556.3 L1048.7,1556.3 L1050.0,1556.2 L1052.0,1556.1 L1054.0,1556.0 L1056.0,1555.8 L1058.0,1555.6 L1060.0,1555.4 L1062.0,1555.2 L1064.0,1554.9 L1066.0,1554.7 L1068.0,1554.4 L1070.0,1554.1 L1072.0,1553.8 L1074.0,1553.5 L1076.0,1553.2 L1078.0,1552.9 L1080.0,1552.7 L1080.5,1552.6 L1082.0,1552.4 L1084.0,1552.1 L1086.0,1551.8 L1088.0,1551.5 L1090.0,1551.2 L1092.0,1550.9 L1094.0,1550.6 L1096.0,1550.3 L1098.0,1549.9 L1100.0,1549.6 L1102.0,1549.3 L1104.0,1549.0 L1106.0,1548.7 L1108.0,1548.4 L1110.0,1548.1 L1112.0,1547.9 L1112.4,1547.8 L1114.0,1547.6 L1116.0,1547.3 L1118.0,1547.1 L1120.0,1546.9 L1122.0,1546.6 L1124.0,1546.4 L1126.0,1546.2 L1128.0,1546.0 L1130.0,1545.8 L1132.0,1545.6 L1134.0,1545.3 L1136.0,1545.1 L1138.0,1544.9 L1140.0,1544.7 L1142.0,1544.5 L1144.0,1544.3 L1146.0,1544.1 L1148.0,1543.9 L1150.0,1543.6 L1152.0,1543.4 L1154.0,1543.2 L1154.8,1543.1 L1156.0,1543.0 L1158.0,1542.7 L1160.0,1542.5 L1162.0,1542.3 L1164.0,1542.0 L1166.0,1541.8 L1168.0,1541.6 L1170.0,1541.4 L1172.0,1541.1 L1174.0,1540.9 L1176.0,1540.7 L1178.0,1540.4 L1180.0,1540.2 L1182.0,1539.9 L1184.0,1539.7 L1186.0,1539.4 L1188.0,1539.2 L1190.0,1538.9 L1192.0,1538.6 L1194.0,1538.3 L1196.0,1538.0 L1197.3,1537.8 L1198.0,1537.7 L1200.0,1537.3 L1202.0,1536.9 L1204.0,1536.5 L1206.0,1536.1 L1208.0,1535.6 L1210.0,1535.2 L1212.0,1534.8 L1214.0,1534.3 L1216.0,1533.9 L1218.0,1533.6 L1218.5,1533.5 L1220.0,1533.3 L1222.0,1533.0 L1224.0,1532.7 L1226.0,1532.4 L1228.0,1532.2 L1230.0,1532.0 L1232.0,1531.8 L1234.0,1531.5 L1236.0,1531.3 L1238.0,1531.1 L1240.0,1530.8 L1242.0,1530.6 L1244.0,1530.3 L1246.0,1530.0 L1248.0,1529.7 L1250.0,1529.4 L1250.4,1529.3 L1252.0,1529.0 L1254.0,1528.5 L1256.0,1528.0 L1258.0,1527.5 L1260.0,1526.9 L1262.0,1526.3 L1264.0,1525.7 L1266.0,1525.0 L1268.0,1524.3 L1270.0,1523.6 L1272.0,1523.0 L1274.0,1522.3 L1276.0,1521.6 L1278.0,1521.0 L1280.0,1520.3 L1282.0,1519.8 L1282.2,1519.7 L1284.0,1519.2 L1286.0,1518.6 L1288.0,1518.1 L1290.0,1517.6 L1292.0,1517.1 L1294.0,1516.6 L1296.0,1516.0 L1298.0,1515.5 L1300.0,1515.0 L1302.0,1514.5 L1304.0,1514.0 L1306.0,1513.5 L1308.0,1512.9 L1310.0,1512.4 L1312.0,1511.8 L1314.0,1511.2 L1314.1,1511.2 L1316.0,1510.6 L1318.0,1510.0 L1320.0,1509.3 L1322.0,1508.6 L1324.0,1507.9 L1326.0,1507.2 L1328.0,1506.5 L1330.0,1505.8 L1332.0,1505.1 L1334.0,1504.4 L1336.0,1503.8 L1338.0,1503.2 L1340.0,1502.7 L1342.0,1502.3 L1344.0,1501.9 L1344.6,1501.7 L1345.4,1501.0 L1346.0,1500.7 L1348.0,1499.8 L1350.0,1499.1 L1352.0,1498.5 L1354.0,1498.1 L1356.0,1497.6 L1358.0,1497.1 L1360.0,1496.6 L1360.9,1496.3 L1362.0,1495.9 L1364.0,1495.2 L1366.0,1494.5 L1368.0,1493.8 L1370.0,1493.0 L1372.0,1492.3 L1374.0,1491.6 L1376.0,1491.0 L1376.3,1490.9 L1378.0,1490.4 L1380.0,1489.9 L1382.0,1489.4 L1384.0,1489.0 L1386.0,1488.5 L1388.0,1488.1 L1390.0,1487.6 L1391.8,1487.1 L1392.0,1487.0 L1394.0,1486.5 L1396.0,1485.9 L1398.0,1485.3 L1400.0,1484.7 L1402.0,1484.1 L1404.0,1483.4 L1406.0,1482.8 L1407.2,1482.4 L1408.0,1482.1 L1410.0,1481.4 L1412.0,1480.7 L1414.0,1479.9 L1416.0,1479.2 L1418.0,1478.4 L1420.0,1477.8 L1422.0,1477.2 L1422.7,1477.0 L1424.0,1476.7 L1426.0,1476.2 L1428.0,1475.8 L1430.0,1475.5 L1432.0,1475.1 L1434.0,1474.7 L1436.0,1474.3 L1438.0,1473.9 L1438.1,1473.9 L1440.0,1473.5 L1442.0,1473.0 L1444.0,1472.4 L1446.0,1471.9 L1448.0,1471.4 L1450.0,1470.9 L1452.0,1470.4 L1453.6,1470.1 L1454.0,1470.0 L1456.0,1469.6 L1458.0,1469.1 L1460.0,1468.7 L1462.0,1468.3 L1464.0,1468.0 L1466.0,1467.8 L1467.5,1467.8 L1468.0,1467.8 L1470.0,1468.4 L1472.0,1469.5 L1474.0,1470.6 L1476.0,1471.2 L1476.7,1471.3 L1478.0,1471.3 L1480.0,1471.1 L1482.0,1470.9 L1484.0,1470.8 L1484.4,1470.8 L1486.0,1470.9 L1488.0,1471.2 L1490.0,1471.6 L1492.0,1472.2 L1494.0,1472.8 L1496.0,1473.5 L1498.0,1474.1 L1499.9,1474.7 L1500.0,1474.7 L1502.0,1475.3 L1504.0,1475.8 L1506.0,1476.3 L1508.0,1476.9 L1510.0,1477.7 L1512.0,1478.5 L1512.2,1478.6 L1514.0,1479.7 L1516.0,1481.5 L1518.0,1483.5 L1520.0,1485.7 L1522.0,1487.7 L1523.0,1488.6 L1524.0,1489.5 L1526.0,1491.1 L1528.0,1492.8 L1530.0,1494.3 L1530.8,1494.8 L1532.0,1495.6 L1534.0,1496.8 L1536.0,1498.0 L1538.0,1499.1 L1540.0,1500.2 L1542.0,1501.2 L1544.0,1502.2 L1546.0,1503.2 L1546.2,1503.3 L1548.0,1504.2 L1550.0,1505.2 L1552.0,1506.1 L1554.0,1507.0 L1556.0,1507.9 L1558.0,1508.8 L1560.0,1509.6 L1561.7,1510.2 L1562.0,1510.3 L1564.0,1511.0 L1566.0,1511.7 L1568.0,1512.3 L1570.0,1513.0 L1572.0,1513.5 L1574.0,1514.1 L1576.0,1514.6 L1577.1,1514.9 L1578.0,1515.1 L1580.0,1515.6 L1582.0,1516.1 L1584.0,1516.5 L1586.0,1517.0 L1588.0,1517.4 L1590.0,1517.8 L1592.0,1518.2 L1594.0,1518.5 L1596.0,1518.9 L1598.0,1519.2 L1600.0,1519.5 L1600.3,1519.5 L1602.0,1519.7 L1604.0,1519.9 L1606.0,1520.1 L1608.0,1520.3 L1610.0,1520.5 L1612.0,1520.7 L1614.0,1520.9 L1616.0,1521.0 L1618.0,1521.2 L1620.0,1521.4 L1622.0,1521.6 L1623.4,1521.8 L1624.0,1521.9 L1626.0,1522.2 L1628.0,1522.5 L1630.0,1522.8 L1632.0,1523.2 L1634.0,1523.6 L1636.0,1523.9 L1638.0,1524.3 L1640.0,1524.7 L1642.0,1525.0 L1644.0,1525.3 L1646.0,1525.6 L1646.6,1525.7 L1648.0,1525.9 L1650.0,1526.1 L1652.0,1526.3 L1654.0,1526.6 L1656.0,1526.8 L1658.0,1527.0 L1660.0,1527.1 L1662.0,1527.3 L1664.0,1527.5 L1664.6,1527.5 L1666.0,1527.6 L1668.0,1527.7 L1670.0,1527.9 L1672.0,1528.0 L1674.0,1528.1 L1676.0,1528.2 L1678.0,1528.3 L1680.0,1528.4 L1682.0,1528.5 L1684.0,1528.6 L1686.0,1528.7 L1688.0,1528.8 L1690.0,1528.9 L1692.0,1529.0 L1694.0,1529.1 L1696.0,1529.2 L1698.0,1529.3 L1700.0,1529.4 L1702.0,1529.4 L1704.0,1529.5 L1706.0,1529.6 L1708.0,1529.7 L1710.0,1529.8 L1712.0,1529.9 L1713.8,1530.0 L1714.0,1530.0 L1716.0,1530.1 L1718.0,1530.2 L1720.0,1530.3 L1722.0,1530.4 L1724.0,1530.5 L1726.0,1530.6 L1728.0,1530.7 L1730.0,1530.9 L1732.0,1531.0 L1734.0,1531.1 L1736.0,1531.2 L1738.0,1531.3 L1740.0,1531.4 L1742.0,1531.5 L1744.0,1531.6 L1746.0,1531.7 L1748.0,1531.8 L1750.0,1531.9 L1752.0,1532.0 L1754.0,1532.1 L1756.0,1532.2 L1758.0,1532.3 L1760.0,1532.4 L1762.0,1532.5 L1763.0,1532.5 L1764.0,1532.5 L1766.0,1532.6 L1768.0,1532.7 L1770.0,1532.8 L1772.0,1532.9 L1774.0,1533.0 L1776.0,1533.0 L1778.0,1533.1 L1780.0,1533.2 L1782.0,1533.3 L1784.0,1533.4 L1786.0,1533.4 L1788.0,1533.5 L1790.0,1533.6 L1792.0,1533.6 L1794.0,1533.7 L1796.0,1533.8 L1798.0,1533.8 L1800.0,1533.9 L1802.0,1534.0 L1804.0,1534.0 L1806.0,1534.1 L1808.0,1534.1 L1810.0,1534.2 L1812.0,1534.3 L1814.0,1534.3 L1816.0,1534.4 L1818.0,1534.4 L1820.0,1534.5 L1822.0,1534.5 L1824.0,1534.6 L1826.0,1534.7 L1828.0,1534.7 L1830.0,1534.8 L1832.0,1534.8 L1834.0,1534.9 L1836.0,1534.9 L1838.0,1534.9 L1840.0,1535.0 L1842.0,1535.0 L1844.0,1535.1 L1846.0,1535.1 L1848.0,1535.1 L1850.0,1535.2 L1852.0,1535.2 L1852.1,1535.2 L1854.0,1535.2 L1856.0,1535.3 L1858.0,1535.3 L1860.0,1535.3 L1862.0,1535.3 L1864.0,1535.3 L1866.0,1535.3 L1868.0,1535.4 L1870.0,1535.4 L1872.0,1535.4 L1874.0,1535.4 L1876.0,1535.4 L1878.0,1535.4 L1880.0,1535.5 L1882.0,1535.5 L1884.0,1535.5 L1886.0,1535.5 L1888.0,1535.5 L1890.0,1535.5 L1892.0,1535.6 L1894.0,1535.6 L1896.0,1535.6 L1898.0,1535.6 L1900.0,1535.6 L1902.0,1535.7 L1904.0,1535.7 L1904.2,1535.7 L1906.0,1535.7 L1908.0,1535.8 L1910.0,1535.8 L1912.0,1535.9 L1914.0,1536.0 L1916.0,1536.1 L1918.0,1536.2 L1920.0,1536.3 L1922.0,1536.4 L1924.0,1536.5 L1926.0,1536.6 L1928.0,1536.7 L1930.0,1536.8 L1932.0,1536.9 L1934.0,1536.9 L1936.0,1537.0 L1938.0,1537.1 L1940.0,1537.1 L1942.0,1537.2 L1944.0,1537.2 L1945.9,1537.2 L1946.0,1537.2 L1948.0,1537.2 L1950.0,1537.2 L1952.0,1537.1 L1954.0,1537.1 L1956.0,1537.0 L1958.0,1537.0 L1960.0,1536.9 L1962.0,1536.8 L1964.0,1536.7 L1966.0,1536.7 L1968.0,1536.6 L1970.0,1536.4 L1972.0,1536.3 L1974.0,1536.2 L1976.0,1536.1 L1978.0,1536.0 L1980.0,1535.8 L1982.0,1535.7 L1984.0,1535.6 L1986.0,1535.4 L1988.0,1535.3 L1990.0,1535.1 L1992.0,1535.0 L1994.0,1534.9 L1996.0,1534.7 L1998.0,1534.6 L2000.0,1534.4 L2002.0,1534.3 L2004.0,1534.2 L2006.0,1534.1 L2008.0,1533.9 L2008.5,1533.9 L2010.0,1533.8 L2012.0,1533.7 L2014.0,1533.6 L2016.0,1533.5 L2018.0,1533.4 L2020.0,1533.3 L2022.0,1533.2 L2024.0,1533.1 L2026.0,1532.9 L2028.0,1532.8 L2030.0,1532.7 L2032.0,1532.6 L2034.0,1532.5 L2036.0,1532.4 L2038.0,1532.3 L2040.0,1532.1 L2042.0,1532.0 L2044.0,1531.9 L2046.0,1531.7 L2048.0,1531.6 L2050.0,1531.4 L2052.0,1531.3 L2054.0,1531.1 L2056.0,1530.9 L2058.0,1530.8 L2060.0,1530.6 L2060.6,1530.5 L2062.0,1530.4 L2064.0,1530.1 L2066.0,1529.8 L2068.0,1529.5 L2070.0,1529.2 L2072.0,1528.9 L2074.0,1528.5 L2076.0,1528.2 L2078.0,1527.8 L2080.0,1527.4 L2082.0,1527.0 L2084.0,1526.6 L2086.0,1526.1 L2086.7,1526.0 L2088.0,1525.7 L2090.0,1525.3 L2092.0,1524.9 L2094.0,1524.4 L2096.0,1523.9 L2098.0,1523.5 L2100.0,1523.0 L2102.0,1522.4 L2104.0,1521.9 L2106.0,1521.4 L2108.0,1520.8 L2110.0,1520.3 L2112.0,1519.7 L2112.7,1519.5 L2114.0,1519.1 L2116.0,1518.5 L2118.0,1517.8 L2120.0,1517.2 L2122.0,1516.5 L2124.0,1515.7 L2126.0,1515.0 L2128.0,1514.3 L2130.0,1513.5 L2132.0,1512.8 L2134.0,1512.1 L2136.0,1511.4 L2138.0,1510.7 L2138.8,1510.4 L2140.0,1510.0 L2142.0,1509.3 L2144.0,1508.6 L2146.0,1508.0 L2148.0,1507.3 L2150.0,1506.6 L2152.0,1505.9 L2154.0,1505.3 L2156.0,1504.6 L2158.0,1504.0 L2160.0,1503.3 L2162.0,1502.7 L2164.0,1502.1 L2164.9,1501.8 L2166.0,1501.5 L2168.0,1500.7 L2170.0,1500.0 L2172.0,1499.3 L2174.0,1498.6 L2176.0,1498.0 L2178.0,1497.6 L2180.0,1497.4 L2180.5,1497.4 L2182.0,1497.4 L2184.0,1497.5 L2186.0,1497.6 L2188.0,1497.7 L2190.0,1497.8 L2192.0,1498.0 L2194.0,1498.2 L2196.0,1498.5 L2198.0,1498.7 L2200.0,1499.0 L2201.4,1499.2 L2202.0,1499.3 L2204.0,1499.7 L2206.0,1500.3 L2208.0,1501.0 L2210.0,1501.8 L2212.0,1502.7 L2214.0,1503.7 L2216.0,1504.7 L2217.0,1505.2 L2218.0,1505.7 L2220.0,1506.9 L2222.0,1508.2 L2224.0,1509.6 L2226.0,1511.0 L2228.0,1512.6 L2230.0,1514.2 L2232.0,1515.9 L2234.0,1517.6 L2236.0,1519.3 L2237.8,1520.8 L2238.0,1521.0 L2240.0,1522.7 L2242.0,1524.4 L2244.0,1526.2 L2246.0,1528.1 L2248.0,1530.0 L2250.0,1531.9 L2252.0,1533.8 L2254.0,1535.8 L2256.0,1537.7 L2256.1,1537.8 L2258.0,1539.7 L2260.0,1541.7 L2262.0,1543.8 L2264.0,1546.0 L2266.0,1548.1 L2268.0,1550.1 L2270.0,1552.1 L2272.0,1554.0 L2274.0,1555.8 L2274.3,1556.0 L2276.0,1557.4 L2278.0,1558.9 L2280.0,1560.4 L2282.0,1561.9 L2284.0,1563.3 L2286.0,1564.6 L2288.0,1565.9 L2290.0,1567.2 L2292.0,1568.4 L2294.0,1569.6 L2295.2,1570.3 L2296.0,1570.8 L2298.0,1571.9 L2300.0,1573.0 L2302.0,1574.1 L2304.0,1575.1 L2306.0,1576.1 L2308.0,1577.0 L2310.0,1577.9 L2310.8,1578.2 L2312.0,1578.7 L2314.0,1579.6 L2316.0,1580.6 L2318.0,1581.3 L2320.0,1581.9 L2322.0,1582.1 L2324.0,1582.1 L2326.0,1582.1 L2328.0,1582.1" fill="none" stroke="#9000ff" stroke-width="8" stroke-linejoin="round" stroke-linecap="butt"/>
</g>
<line x1="896.5" y1="260" x2="896.5" y2="1745" stroke="#000" stroke-width="3" stroke-dasharray="3,2"/>
<g transform="translate(243.5,1856) scale(0.95,1)"><text id="tk100" x="0" y="0" font-size="77" text-anchor="middle" font-family="'Liberation Sans', Arial, sans-serif" style="font-kerning:none">100</text><rect x="-60.08" y="-6.62" width="15.08" height="7.62" fill="#fff"/><rect x="-37.90" y="-6.62" width="14.81" height="7.62" fill="#fff"/></g>
<g transform="translate(505.2,1856) scale(0.95,1)"><text id="tk200" x="0" y="0" font-size="77" text-anchor="middle" font-family="'Liberation Sans', Arial, sans-serif" style="font-kerning:none">200</text></g>
<g transform="translate(766.9,1856) scale(0.95,1)"><text id="tk300" x="0" y="0" font-size="77" text-anchor="middle" font-family="'Liberation Sans', Arial, sans-serif" style="font-kerning:none">300</text></g>
<g transform="translate(1028.6,1856) scale(0.95,1)"><text id="tk400" x="0" y="0" font-size="77" text-anchor="middle" font-family="'Liberation Sans', Arial, sans-serif" style="font-kerning:none">400</text></g>
<g transform="translate(1290.3,1856) scale(0.95,1)"><text id="tk500" x="0" y="0" font-size="77" text-anchor="middle" font-family="'Liberation Sans', Arial, sans-serif" style="font-kerning:none">500</text></g>
<g transform="translate(1552.0,1856) scale(0.95,1)"><text id="tk600" x="0" y="0" font-size="77" text-anchor="middle" font-family="'Liberation Sans', Arial, sans-serif" style="font-kerning:none">600</text></g>
<g transform="translate(1813.7,1856) scale(0.95,1)"><text id="tk700" x="0" y="0" font-size="77" text-anchor="middle" font-family="'Liberation Sans', Arial, sans-serif" style="font-kerning:none">700</text></g>
<g transform="translate(2075.4,1856) scale(0.95,1)"><text id="tk800" x="0" y="0" font-size="77" text-anchor="middle" font-family="'Liberation Sans', Arial, sans-serif" style="font-kerning:none">800</text></g>
<g transform="translate(929.99,1984.80) scale(0.9569,1)"><text id="t_xt" x="0" y="0" font-size="84.3" fill="#000" font-family="'Liberation Sans', Arial, sans-serif" style="font-kerning:none">Temperature (°C)</text></g>
<text transform="translate(92,1210.81) rotate(-90) scale(0.9539,1)" font-size="84.3" font-family="'Liberation Sans', Arial, sans-serif" style="font-kerning:none">TCD signal (a. u.)</text>
<g transform="translate(187.23,241.00) scale(0.9423,1)"><text id="t_CC" x="0" y="0" font-size="77" fill="#000000" font-family="'Liberation Sans', Arial, sans-serif" style="font-kerning:none">CC</text></g>
<g transform="translate(186.21,620.00) scale(0.9468,1)"><text id="t_Co100" x="0" y="0" font-size="77" fill="#ff00ff" font-family="'Liberation Sans', Arial, sans-serif" style="font-kerning:none">Co100-CC</text><rect x="102.55" y="-6.62" width="15.08" height="7.62" fill="#fff"/><rect x="124.73" y="-6.62" width="14.81" height="7.62" fill="#fff"/></g>
<g transform="translate(175.98,784.00) scale(0.9542,1)"><text id="t_Co90" x="0" y="0" font-size="77" fill="#ff8000" font-family="'Liberation Sans', Arial, sans-serif" style="font-kerning:none">Co90Ce10-CC</text><rect x="286.61" y="-6.62" width="15.08" height="7.62" fill="#fff"/><rect x="308.79" y="-6.62" width="14.81" height="7.62" fill="#fff"/></g>
<g transform="translate(175.59,988.00) scale(0.9530,1)"><text id="t_Co75" x="0" y="0" font-size="77" fill="#ff0000" font-family="'Liberation Sans', Arial, sans-serif" style="font-kerning:none">Co75Ce25-CC</text></g>
<g transform="translate(175.98,1177.00) scale(0.9542,1)"><text id="t_Co50" x="0" y="0" font-size="77" fill="#0000ff" font-family="'Liberation Sans', Arial, sans-serif" style="font-kerning:none">Co50Ce50-CC</text></g>
<g transform="translate(182.19,1355.00) scale(0.9528,1)"><text id="t_Co25" x="0" y="0" font-size="77" fill="#008000" font-family="'Liberation Sans', Arial, sans-serif" style="font-kerning:none">Co25Ce75-CC</text></g>
<g transform="translate(180.70,1571.00) scale(0.9510,1)"><text id="t_Ce100" x="0" y="0" font-size="77" fill="#9000ff" font-family="'Liberation Sans', Arial, sans-serif" style="font-kerning:none">Ce100-CC</text><rect x="102.55" y="-6.62" width="15.08" height="7.62" fill="#fff"/><rect x="124.73" y="-6.62" width="14.81" height="7.62" fill="#fff"/></g>
</svg>
</body></html>
